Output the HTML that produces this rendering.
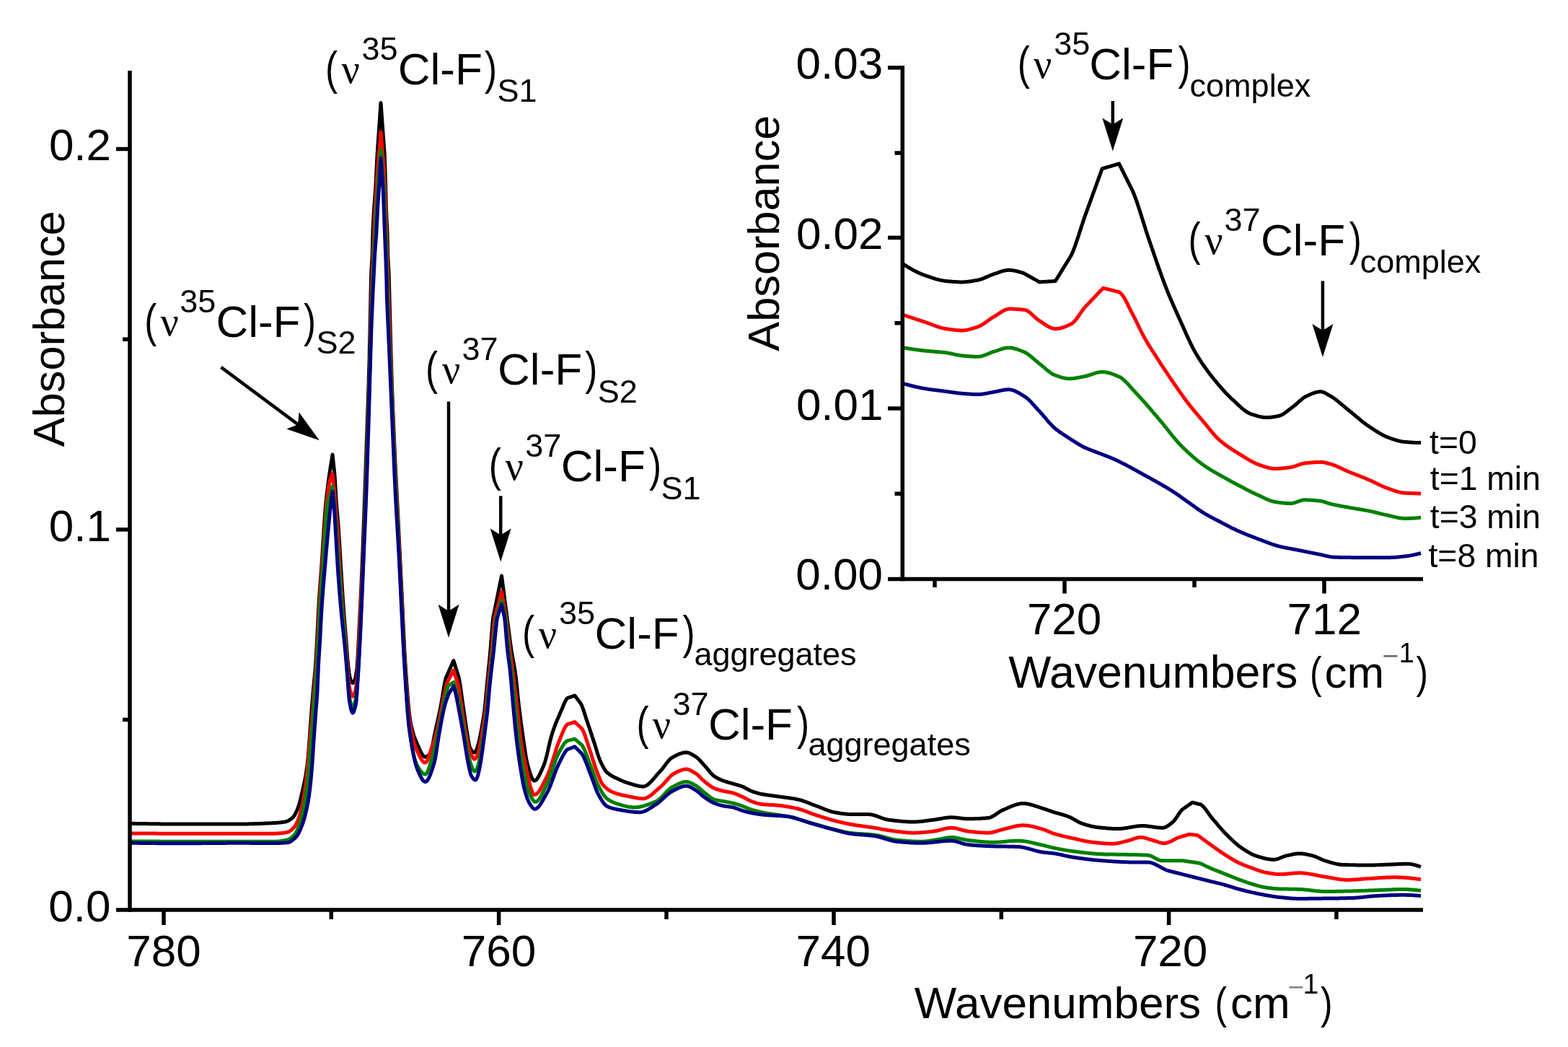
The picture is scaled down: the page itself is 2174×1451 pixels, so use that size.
<!DOCTYPE html>
<html><head><meta charset="utf-8"><title>Spectrum</title>
<style>html,body{margin:0;padding:0;background:#fff;overflow:hidden}svg{display:block}</style>
</head><body>
<svg width="2174" height="1451" viewBox="0 0 2174 1451">
<rect width="2174" height="1451" fill="#fff"/>
<path d="M182.0,1141.3 L183.0,1141.3 L184.0,1141.3 L185.0,1141.3 L186.0,1141.4 L187.0,1141.4 L188.0,1141.4 L189.0,1141.4 L190.0,1141.4 L191.0,1141.4 L192.0,1141.5 L193.0,1141.5 L194.0,1141.5 L195.0,1141.5 L196.0,1141.5 L197.0,1141.5 L198.0,1141.5 L199.0,1141.6 L200.0,1141.6 L201.0,1141.6 L202.0,1141.6 L203.0,1141.6 L204.0,1141.6 L205.0,1141.6 L206.0,1141.7 L207.0,1141.7 L208.0,1141.7 L209.0,1141.7 L210.0,1141.7 L211.0,1141.7 L212.0,1141.7 L213.0,1141.7 L214.0,1141.8 L215.0,1141.8 L216.0,1141.8 L217.0,1141.8 L218.0,1141.8 L219.0,1141.8 L220.0,1141.8 L221.0,1141.8 L222.0,1141.8 L223.0,1141.9 L224.0,1141.9 L225.0,1141.9 L226.0,1141.9 L227.0,1141.9 L228.0,1141.9 L229.0,1141.9 L230.0,1141.9 L231.0,1141.9 L232.0,1141.9 L233.0,1141.9 L234.0,1141.9 L235.0,1142.0 L236.0,1142.0 L237.0,1142.0 L238.0,1142.0 L239.0,1142.0 L240.0,1142.0 L241.0,1142.0 L242.0,1142.0 L243.0,1142.0 L244.0,1142.0 L245.0,1142.0 L246.0,1142.0 L247.0,1142.0 L248.0,1142.0 L249.0,1142.0 L250.0,1142.0 L251.0,1142.0 L252.0,1142.0 L253.0,1142.0 L254.0,1142.0 L255.0,1142.0 L256.0,1142.0 L257.0,1142.0 L258.0,1142.0 L259.0,1142.0 L260.0,1142.0 L261.0,1142.0 L262.0,1142.0 L263.0,1142.0 L264.0,1142.0 L265.0,1142.0 L266.0,1142.0 L267.0,1142.0 L268.0,1142.0 L269.0,1142.0 L270.0,1142.0 L271.0,1142.0 L272.0,1142.0 L273.0,1142.0 L274.0,1142.0 L275.0,1142.0 L276.0,1142.0 L277.0,1142.0 L278.0,1142.0 L279.0,1142.0 L280.0,1142.0 L281.0,1142.0 L282.0,1142.0 L283.0,1142.0 L284.0,1142.0 L285.0,1142.0 L286.0,1142.0 L287.0,1142.0 L288.0,1142.0 L289.0,1142.0 L290.0,1142.0 L291.0,1142.0 L292.0,1142.0 L293.0,1142.0 L294.0,1142.0 L295.0,1142.0 L296.0,1142.0 L297.0,1142.0 L298.0,1142.0 L299.0,1142.0 L300.0,1142.0 L301.0,1142.0 L302.0,1142.0 L303.0,1142.0 L304.0,1142.0 L305.0,1142.0 L306.0,1142.0 L307.0,1142.0 L308.0,1142.0 L309.0,1142.0 L310.0,1142.0 L311.0,1142.0 L312.0,1142.0 L313.0,1142.0 L314.0,1142.0 L315.0,1142.0 L316.0,1142.0 L317.0,1142.0 L318.0,1142.0 L319.0,1142.0 L320.0,1142.0 L321.0,1142.0 L322.0,1142.0 L323.0,1142.0 L324.0,1142.0 L325.0,1142.0 L326.0,1142.0 L327.0,1142.0 L328.0,1142.0 L329.0,1142.0 L330.0,1142.0 L331.0,1142.0 L332.0,1142.0 L333.0,1142.0 L334.0,1142.0 L335.0,1142.0 L336.0,1142.0 L337.0,1142.0 L338.0,1142.0 L339.0,1141.9 L340.0,1141.9 L341.0,1141.9 L342.0,1141.9 L343.0,1141.9 L344.0,1141.9 L345.0,1141.8 L346.0,1141.8 L347.0,1141.8 L348.0,1141.8 L349.0,1141.7 L350.0,1141.7 L351.0,1141.7 L352.0,1141.7 L353.0,1141.6 L354.0,1141.6 L355.0,1141.6 L356.0,1141.5 L357.0,1141.5 L358.0,1141.5 L359.0,1141.4 L360.0,1141.4 L361.0,1141.4 L362.0,1141.3 L363.0,1141.3 L364.0,1141.2 L365.0,1141.2 L366.0,1141.2 L367.0,1141.1 L368.0,1141.1 L369.0,1141.0 L370.0,1141.0 L371.0,1140.9 L372.0,1140.9 L373.0,1140.8 L374.0,1140.8 L375.0,1140.7 L376.0,1140.7 L377.0,1140.7 L378.0,1140.6 L379.0,1140.6 L380.0,1140.5 L381.0,1140.4 L382.0,1140.4 L383.0,1140.3 L384.0,1140.3 L385.0,1140.2 L386.0,1140.1 L387.0,1140.0 L388.0,1139.9 L389.0,1139.8 L390.0,1139.7 L391.0,1139.6 L392.0,1139.5 L393.0,1139.3 L394.0,1139.2 L395.0,1139.0 L396.0,1138.8 L397.0,1138.5 L398.0,1138.1 L399.0,1137.7 L400.0,1137.2 L401.0,1136.6 L402.0,1136.0 L403.0,1135.3 L404.0,1134.5 L405.0,1133.7 L405.8,1133.0 L406.0,1132.8 L407.0,1131.7 L408.0,1130.3 L409.0,1128.7 L410.0,1126.8 L411.0,1124.7 L412.0,1122.4 L413.0,1120.0 L413.4,1119.0 L414.0,1117.4 L415.0,1114.1 L416.0,1110.4 L417.0,1106.3 L418.0,1102.1 L419.0,1097.7 L419.4,1096.0 L420.0,1093.4 L421.0,1089.1 L422.0,1084.6 L423.0,1079.6 L424.0,1074.0 L425.0,1067.5 L426.0,1060.0 L427.0,1051.0 L428.0,1039.1 L429.0,1025.1 L429.3,1021.0 L430.0,1011.6 L431.0,997.9 L431.6,990.0 L432.0,984.8 L433.0,972.1 L434.0,960.0 L435.0,949.3 L436.0,939.3 L437.0,928.4 L437.5,922.0 L438.0,914.6 L439.0,896.9 L440.0,876.8 L441.0,856.5 L442.0,837.9 L442.3,833.0 L443.0,822.5 L444.0,808.9 L445.0,795.9 L446.0,782.1 L446.2,779.2 L447.0,766.6 L448.0,750.0 L449.0,734.0 L449.3,729.6 L450.0,719.8 L451.0,706.6 L451.8,697.6 L452.0,695.6 L453.0,686.1 L454.0,677.6 L455.0,669.8 L456.0,662.4 L456.9,656.0 L457.0,655.4 L458.0,649.0 L459.0,642.7 L460.0,636.3 L461.0,630.0 L462.0,639.3 L463.0,648.6 L463.8,656.0 L464.0,658.5 L465.0,674.4 L466.0,691.7 L466.4,697.6 L467.0,705.2 L468.0,716.4 L469.0,728.3 L469.1,729.6 L470.0,742.9 L471.0,759.3 L472.0,776.0 L472.2,779.2 L473.0,792.2 L474.0,808.6 L475.0,824.3 L475.3,828.8 L476.0,838.8 L477.0,852.2 L477.1,853.5 L478.0,864.7 L479.0,876.5 L479.8,886.0 L480.0,888.5 L481.0,901.8 L482.0,914.9 L483.0,925.0 L484.0,932.3 L485.0,938.3 L486.0,942.0 L487.0,944.2 L488.0,945.9 L489.0,946.5 L490.0,945.9 L491.0,944.2 L492.0,942.0 L493.0,938.5 L494.0,932.7 L495.0,925.0 L496.0,911.1 L497.0,890.8 L498.0,870.0 L499.0,850.7 L500.0,830.6 L500.5,820.0 L501.0,808.8 L502.0,785.1 L503.0,760.0 L504.0,733.7 L505.0,706.2 L506.0,677.9 L507.0,649.0 L508.0,620.0 L509.0,591.9 L510.0,564.1 L511.0,534.3 L512.0,500.0 L513.0,455.6 L513.9,412.5 L514.0,407.9 L514.6,382.0 L515.0,373.1 L516.0,356.7 L516.2,351.8 L516.9,321.4 L517.0,318.7 L518.0,298.9 L518.5,291.0 L519.0,283.6 L520.0,270.8 L520.7,260.7 L521.0,255.5 L522.0,234.9 L523.0,215.0 L524.0,200.5 L525.0,186.0 L526.0,171.5 L527.0,157.0 L528.0,142.5 L529.0,156.4 L530.0,170.4 L531.0,184.3 L532.0,198.3 L533.0,212.2 L533.2,215.0 L534.0,236.9 L534.7,260.7 L535.0,272.4 L535.5,291.0 L536.0,301.7 L537.0,321.4 L537.7,351.8 L538.0,359.2 L539.0,377.1 L539.2,382.0 L540.0,412.5 L541.0,450.3 L542.0,487.2 L543.0,520.0 L544.0,548.1 L545.0,573.7 L546.0,597.4 L547.0,620.0 L548.0,641.5 L549.0,661.7 L550.0,681.1 L551.0,700.4 L552.0,720.0 L553.0,740.0 L554.0,760.0 L555.0,780.0 L556.0,800.0 L557.0,820.0 L558.0,840.8 L559.0,862.5 L560.0,883.8 L561.0,903.3 L562.0,920.0 L563.0,934.6 L564.0,948.8 L565.0,962.1 L566.0,974.2 L567.0,984.8 L568.0,993.5 L569.0,1000.0 L570.0,1005.0 L571.0,1009.4 L572.0,1013.3 L573.0,1016.8 L574.0,1020.0 L575.0,1022.8 L576.0,1025.3 L577.0,1027.7 L578.0,1030.0 L579.0,1032.3 L580.0,1034.6 L581.0,1036.8 L582.0,1039.0 L583.0,1041.2 L584.0,1043.1 L585.0,1044.9 L586.0,1046.4 L587.0,1047.6 L588.0,1048.4 L589.0,1048.9 L589.6,1049.0 L590.0,1049.0 L591.0,1048.8 L592.0,1048.3 L593.0,1047.7 L594.0,1046.9 L595.0,1045.9 L596.0,1044.8 L596.7,1044.0 L597.0,1043.5 L598.0,1040.8 L599.0,1036.6 L600.0,1031.5 L601.0,1026.0 L602.0,1020.7 L602.6,1017.8 L603.0,1016.0 L604.0,1011.5 L605.0,1007.0 L606.0,1002.6 L607.0,998.0 L608.0,993.5 L609.0,988.8 L610.0,984.0 L611.0,979.1 L611.1,978.6 L612.0,973.8 L613.0,967.9 L614.0,961.7 L615.0,955.6 L616.0,949.7 L617.0,944.6 L618.0,940.3 L618.3,939.3 L619.0,937.7 L620.0,935.5 L621.0,933.2 L622.0,931.0 L623.0,928.7 L624.0,926.5 L625.0,924.3 L626.0,922.0 L627.0,919.8 L628.0,917.5 L628.9,915.5 L629.9,918.8 L630.9,922.0 L631.9,925.3 L632.9,928.5 L633.9,931.8 L634.9,935.1 L635.9,938.3 L636.2,939.3 L636.9,942.8 L637.9,948.7 L638.9,955.5 L639.9,962.8 L640.9,970.2 L641.9,977.3 L642.1,978.6 L642.9,984.0 L643.9,990.9 L644.9,997.8 L645.9,1004.6 L646.9,1011.1 L647.9,1017.2 L648.0,1017.8 L648.9,1023.3 L649.9,1029.4 L650.9,1034.2 L651.5,1036.0 L651.9,1036.8 L652.9,1038.6 L653.9,1040.2 L654.9,1041.5 L655.9,1042.4 L656.9,1042.9 L657.5,1043.0 L657.9,1042.9 L658.9,1042.2 L659.9,1040.7 L660.9,1038.5 L661.9,1035.7 L662.9,1032.3 L663.9,1028.4 L664.9,1024.0 L665.9,1019.3 L666.9,1014.1 L667.9,1008.7 L668.9,1003.1 L669.9,997.3 L670.8,992.0 L670.9,991.4 L671.9,983.7 L672.9,974.0 L673.9,963.1 L674.9,952.2 L675.4,947.0 L675.9,942.0 L676.9,932.1 L677.9,922.0 L678.9,911.7 L679.9,901.0 L680.9,888.8 L681.9,875.5 L682.9,863.4 L683.7,856.0 L683.9,855.0 L684.9,850.1 L685.9,845.2 L686.9,840.3 L687.9,835.4 L688.9,830.4 L689.9,825.5 L690.9,820.6 L691.9,815.7 L692.9,810.8 L693.9,805.9 L694.9,800.9 L695.5,798.0 L696.5,805.7 L697.5,813.5 L698.5,821.2 L699.5,828.9 L700.5,836.7 L701.5,844.4 L702.5,852.1 L703.0,856.0 L703.5,859.8 L704.5,867.6 L705.5,875.4 L706.5,883.1 L707.5,890.6 L708.5,897.6 L709.0,901.0 L709.5,904.2 L710.5,910.0 L711.5,915.4 L712.5,920.7 L713.5,926.4 L714.5,932.9 L714.8,935.0 L715.5,940.6 L716.5,949.9 L717.5,959.9 L718.5,969.8 L719.3,977.0 L719.5,978.7 L720.5,986.9 L721.5,994.9 L722.5,1002.6 L723.5,1010.0 L724.5,1017.1 L725.5,1024.0 L726.5,1030.8 L727.5,1037.8 L728.5,1044.4 L729.5,1050.5 L730.5,1055.7 L731.3,1059.0 L731.5,1059.7 L732.5,1063.3 L733.5,1066.8 L734.5,1070.1 L735.5,1073.2 L736.5,1075.9 L737.5,1078.3 L738.5,1080.1 L739.5,1081.4 L740.5,1082.0 L740.8,1082.0 L741.5,1081.9 L742.5,1081.5 L743.5,1080.7 L744.5,1079.6 L745.5,1078.2 L746.5,1076.6 L747.5,1074.8 L748.5,1072.9 L749.5,1070.8 L750.5,1068.6 L751.5,1066.3 L752.5,1064.0 L753.5,1061.8 L753.7,1061.3 L754.5,1059.3 L755.5,1056.3 L756.5,1052.9 L757.5,1049.1 L758.5,1045.0 L759.5,1040.8 L760.5,1036.4 L761.5,1032.1 L762.5,1027.9 L763.5,1023.8 L764.5,1020.1 L765.5,1016.7 L765.8,1015.8 L766.5,1013.7 L767.5,1010.9 L768.5,1008.1 L769.5,1005.4 L770.5,1002.8 L771.5,1000.3 L772.5,997.9 L773.5,995.5 L774.5,993.2 L775.5,990.9 L776.5,988.6 L777.5,986.4 L777.9,985.5 L778.5,984.1 L779.5,981.7 L780.5,979.3 L781.5,976.8 L782.5,974.4 L783.5,972.2 L784.5,970.3 L785.5,968.8 L786.5,967.7 L787.0,967.3 L787.5,967.1 L788.5,966.8 L789.5,966.5 L790.5,966.1 L791.5,965.8 L792.5,965.5 L793.5,965.1 L794.5,964.8 L795.5,964.5 L796.5,964.1 L796.9,964.0 L797.9,965.3 L798.9,966.6 L799.9,967.9 L800.9,969.3 L801.9,970.6 L802.9,971.9 L803.9,973.2 L804.9,974.5 L805.2,974.9 L805.9,976.3 L806.9,978.5 L807.9,981.1 L808.9,983.9 L809.9,986.9 L810.9,990.1 L811.9,993.2 L812.9,996.4 L813.9,999.4 L814.3,1000.6 L814.9,1002.4 L815.9,1005.3 L816.9,1008.3 L817.9,1011.3 L818.9,1014.3 L819.9,1017.3 L820.9,1020.4 L821.9,1023.4 L822.9,1026.4 L823.4,1027.9 L823.9,1029.4 L824.9,1032.6 L825.9,1035.8 L826.9,1039.1 L827.9,1042.4 L828.9,1045.5 L829.9,1048.5 L830.9,1051.3 L831.9,1053.8 L832.5,1055.2 L832.9,1056.1 L833.9,1058.2 L834.9,1060.2 L835.9,1062.1 L836.9,1063.9 L837.9,1065.6 L838.9,1067.2 L839.9,1068.5 L840.9,1069.7 L841.6,1070.4 L841.9,1070.7 L842.9,1071.5 L843.9,1072.3 L844.9,1073.1 L845.9,1073.8 L846.9,1074.4 L847.9,1075.0 L848.9,1075.6 L849.9,1076.2 L850.9,1076.7 L851.9,1077.2 L852.9,1077.7 L853.9,1078.1 L854.9,1078.6 L855.9,1079.1 L856.8,1079.5 L856.9,1079.5 L857.9,1080.0 L858.9,1080.5 L859.9,1080.9 L860.9,1081.4 L861.9,1081.8 L862.9,1082.3 L863.9,1082.7 L864.9,1083.1 L865.9,1083.5 L866.9,1083.8 L867.9,1084.2 L868.9,1084.5 L869.9,1084.9 L870.9,1085.2 L871.9,1085.5 L872.9,1085.8 L873.9,1086.1 L874.9,1086.4 L875.9,1086.7 L876.9,1087.0 L877.9,1087.3 L878.9,1087.7 L879.9,1088.0 L880.9,1088.2 L881.9,1088.5 L882.9,1088.8 L883.9,1089.0 L884.9,1089.2 L885.9,1089.4 L886.9,1089.6 L887.9,1089.7 L888.9,1089.9 L889.9,1089.9 L890.9,1090.0 L891.6,1090.0 L891.9,1090.0 L892.9,1089.9 L893.9,1089.6 L894.9,1089.3 L895.9,1088.8 L896.9,1088.2 L897.9,1087.6 L898.9,1086.8 L899.9,1085.9 L900.9,1085.0 L901.9,1084.0 L902.9,1083.0 L903.9,1081.9 L904.9,1080.8 L905.9,1079.7 L906.9,1078.5 L907.9,1077.3 L908.9,1076.1 L909.9,1074.9 L910.9,1073.7 L911.9,1072.6 L912.9,1071.4 L913.9,1070.4 L914.9,1069.3 L915.2,1069.0 L915.9,1068.3 L916.9,1067.1 L917.9,1066.0 L918.9,1064.7 L919.9,1063.4 L920.9,1062.1 L921.9,1060.7 L922.9,1059.4 L923.9,1058.0 L924.9,1056.8 L925.9,1055.5 L926.9,1054.3 L927.9,1053.2 L928.9,1052.2 L929.9,1051.3 L930.9,1050.6 L931.8,1050.0 L931.9,1049.9 L932.9,1049.4 L933.9,1048.8 L934.9,1048.3 L935.9,1047.7 L936.9,1047.2 L937.9,1046.7 L938.9,1046.2 L939.9,1045.8 L940.9,1045.3 L941.9,1044.9 L942.9,1044.5 L943.9,1044.2 L944.9,1043.9 L945.9,1043.6 L946.9,1043.3 L947.9,1043.1 L948.9,1043.0 L949.9,1042.9 L950.9,1042.8 L951.5,1042.8 L951.9,1042.8 L952.9,1042.9 L953.9,1043.1 L954.9,1043.4 L955.9,1043.8 L956.9,1044.2 L957.9,1044.7 L958.9,1045.2 L959.9,1045.8 L960.9,1046.4 L961.9,1047.0 L962.9,1047.7 L963.9,1048.3 L964.4,1048.6 L964.9,1048.9 L965.9,1049.6 L966.9,1050.5 L967.9,1051.4 L968.9,1052.3 L969.9,1053.3 L970.9,1054.4 L971.9,1055.5 L972.9,1056.6 L973.9,1057.8 L974.9,1058.9 L975.9,1060.0 L976.9,1061.1 L977.3,1061.5 L977.9,1062.1 L978.9,1063.3 L979.9,1064.4 L980.9,1065.7 L981.9,1066.9 L982.9,1068.1 L983.9,1069.4 L984.9,1070.6 L985.9,1071.7 L986.9,1072.8 L987.9,1073.8 L988.9,1074.7 L989.9,1075.5 L990.2,1075.7 L990.9,1076.2 L991.9,1076.8 L992.9,1077.4 L993.9,1078.0 L994.9,1078.5 L995.9,1079.1 L996.9,1079.5 L997.9,1080.0 L998.9,1080.5 L999.9,1080.9 L1000.9,1081.3 L1001.9,1081.7 L1002.9,1082.1 L1003.0,1082.1 L1003.9,1082.4 L1004.9,1082.8 L1005.9,1083.1 L1006.9,1083.4 L1007.9,1083.7 L1008.9,1084.0 L1009.9,1084.3 L1010.9,1084.6 L1011.9,1084.9 L1012.9,1085.1 L1013.9,1085.4 L1014.9,1085.7 L1015.9,1086.0 L1016.9,1086.3 L1017.9,1086.6 L1018.9,1086.9 L1019.9,1087.1 L1020.9,1087.4 L1021.9,1087.7 L1022.9,1088.0 L1023.9,1088.3 L1024.9,1088.6 L1025.9,1088.9 L1026.9,1089.2 L1027.9,1089.6 L1028.8,1089.9 L1028.9,1089.9 L1029.9,1090.3 L1030.9,1090.8 L1031.9,1091.3 L1032.9,1091.8 L1033.9,1092.4 L1034.9,1092.9 L1035.9,1093.5 L1036.9,1094.0 L1037.9,1094.5 L1038.9,1095.1 L1039.9,1095.5 L1040.9,1096.0 L1041.7,1096.3 L1041.9,1096.4 L1042.9,1096.7 L1043.9,1097.1 L1044.9,1097.5 L1045.9,1097.8 L1046.9,1098.1 L1047.9,1098.4 L1048.9,1098.8 L1049.9,1099.0 L1050.9,1099.3 L1051.9,1099.6 L1052.9,1099.8 L1053.9,1100.1 L1054.6,1100.2 L1054.9,1100.3 L1055.9,1100.5 L1056.9,1100.7 L1057.9,1100.8 L1058.9,1101.0 L1059.9,1101.2 L1060.9,1101.3 L1061.9,1101.5 L1062.9,1101.6 L1063.9,1101.8 L1064.9,1101.9 L1065.9,1102.1 L1066.9,1102.2 L1067.9,1102.3 L1068.9,1102.5 L1069.9,1102.6 L1070.9,1102.7 L1071.9,1102.9 L1072.9,1103.0 L1073.9,1103.1 L1074.9,1103.2 L1075.9,1103.4 L1076.9,1103.5 L1077.9,1103.7 L1078.9,1103.8 L1079.9,1103.9 L1080.3,1104.0 L1080.9,1104.1 L1081.9,1104.2 L1082.9,1104.4 L1083.9,1104.5 L1084.9,1104.6 L1085.9,1104.8 L1086.9,1104.9 L1087.9,1105.0 L1088.9,1105.2 L1089.9,1105.3 L1090.9,1105.4 L1091.9,1105.6 L1092.9,1105.7 L1093.9,1105.8 L1094.9,1106.0 L1095.9,1106.1 L1096.9,1106.3 L1097.9,1106.4 L1098.9,1106.6 L1099.9,1106.7 L1100.9,1106.9 L1101.9,1107.1 L1102.9,1107.3 L1103.9,1107.5 L1104.9,1107.7 L1105.9,1107.9 L1106.1,1107.9 L1106.9,1108.1 L1107.9,1108.3 L1108.9,1108.6 L1109.9,1108.8 L1110.9,1109.1 L1111.9,1109.4 L1112.9,1109.8 L1113.9,1110.1 L1114.9,1110.5 L1115.9,1110.8 L1116.9,1111.2 L1117.9,1111.6 L1118.9,1111.9 L1119.9,1112.3 L1120.9,1112.7 L1121.9,1113.1 L1122.9,1113.5 L1123.9,1113.9 L1124.9,1114.3 L1125.9,1114.7 L1126.9,1115.1 L1127.9,1115.5 L1128.9,1115.8 L1129.9,1116.2 L1130.9,1116.6 L1131.8,1116.9 L1131.9,1116.9 L1132.9,1117.3 L1133.9,1117.7 L1134.9,1118.0 L1135.9,1118.4 L1136.9,1118.8 L1137.9,1119.2 L1138.9,1119.6 L1139.9,1120.0 L1140.9,1120.4 L1141.9,1120.9 L1142.9,1121.3 L1143.9,1121.7 L1144.9,1122.1 L1145.9,1122.4 L1146.9,1122.8 L1147.9,1123.2 L1148.9,1123.5 L1149.9,1123.9 L1150.9,1124.2 L1151.9,1124.5 L1152.9,1124.8 L1153.9,1125.1 L1154.9,1125.3 L1155.9,1125.6 L1156.9,1125.8 L1157.6,1125.9 L1157.9,1126.0 L1158.9,1126.1 L1159.9,1126.3 L1160.9,1126.5 L1161.9,1126.6 L1162.9,1126.8 L1163.9,1127.0 L1164.9,1127.1 L1165.9,1127.3 L1166.9,1127.4 L1167.9,1127.5 L1168.9,1127.7 L1169.9,1127.8 L1170.9,1127.9 L1171.9,1128.0 L1172.9,1128.1 L1173.9,1128.2 L1174.9,1128.3 L1175.9,1128.4 L1176.9,1128.4 L1177.9,1128.5 L1178.9,1128.5 L1179.9,1128.5 L1180.0,1128.5 L1180.9,1128.5 L1181.9,1128.5 L1182.9,1128.5 L1183.9,1128.5 L1184.9,1128.5 L1185.9,1128.5 L1186.9,1128.5 L1187.9,1128.5 L1188.9,1128.5 L1189.9,1128.5 L1190.9,1128.5 L1191.9,1128.5 L1192.9,1128.6 L1193.9,1128.6 L1194.9,1128.6 L1195.9,1128.6 L1196.9,1128.6 L1197.9,1128.6 L1198.9,1128.6 L1199.9,1128.6 L1200.9,1128.6 L1201.9,1128.6 L1202.9,1128.6 L1203.9,1128.6 L1204.5,1128.6 L1204.9,1128.6 L1205.9,1128.7 L1206.9,1128.8 L1207.9,1128.9 L1208.9,1129.1 L1209.9,1129.3 L1210.9,1129.5 L1211.9,1129.8 L1212.9,1130.1 L1213.9,1130.4 L1214.9,1130.7 L1215.9,1131.1 L1216.9,1131.5 L1217.9,1131.8 L1218.9,1132.2 L1219.9,1132.6 L1220.9,1133.0 L1221.9,1133.4 L1222.9,1133.7 L1223.9,1134.1 L1224.9,1134.4 L1225.9,1134.8 L1226.9,1135.1 L1227.9,1135.3 L1228.9,1135.6 L1229.9,1135.8 L1230.9,1136.0 L1231.9,1136.2 L1232.1,1136.2 L1232.9,1136.3 L1233.9,1136.4 L1234.9,1136.6 L1235.9,1136.7 L1236.9,1136.8 L1237.9,1136.9 L1238.9,1137.0 L1239.9,1137.2 L1240.9,1137.3 L1241.9,1137.4 L1242.9,1137.5 L1243.9,1137.6 L1244.9,1137.7 L1245.9,1137.8 L1246.9,1137.9 L1247.9,1138.0 L1248.9,1138.1 L1249.9,1138.2 L1250.9,1138.3 L1251.9,1138.4 L1252.9,1138.4 L1253.9,1138.5 L1254.9,1138.6 L1255.9,1138.7 L1256.9,1138.7 L1257.9,1138.8 L1258.9,1138.8 L1259.9,1138.9 L1260.9,1138.9 L1261.9,1138.9 L1262.9,1139.0 L1263.9,1139.0 L1264.9,1139.0 L1265.9,1139.0 L1266.6,1139.0 L1266.9,1139.0 L1267.9,1139.0 L1268.9,1139.0 L1269.9,1138.9 L1270.9,1138.9 L1271.9,1138.8 L1272.9,1138.8 L1273.9,1138.7 L1274.9,1138.6 L1275.9,1138.5 L1276.9,1138.4 L1277.9,1138.3 L1278.9,1138.2 L1279.9,1138.1 L1280.9,1137.9 L1281.9,1137.8 L1282.9,1137.7 L1283.9,1137.6 L1284.9,1137.4 L1285.9,1137.3 L1286.9,1137.1 L1287.9,1137.0 L1288.9,1136.9 L1289.9,1136.7 L1290.9,1136.6 L1291.9,1136.5 L1292.9,1136.4 L1293.9,1136.2 L1294.2,1136.2 L1294.9,1136.1 L1295.9,1136.0 L1296.9,1135.8 L1297.9,1135.7 L1298.9,1135.5 L1299.9,1135.3 L1300.9,1135.2 L1301.9,1135.0 L1302.9,1134.8 L1303.9,1134.6 L1304.9,1134.4 L1305.9,1134.3 L1306.9,1134.1 L1307.9,1133.9 L1308.9,1133.7 L1309.9,1133.6 L1310.9,1133.4 L1311.9,1133.3 L1312.9,1133.2 L1313.9,1133.1 L1314.9,1133.0 L1315.9,1132.9 L1316.9,1132.8 L1317.9,1132.8 L1318.9,1132.8 L1319.0,1132.8 L1319.9,1132.8 L1320.9,1132.8 L1321.9,1132.9 L1322.9,1132.9 L1323.9,1133.0 L1324.9,1133.1 L1325.9,1133.2 L1326.9,1133.3 L1327.9,1133.4 L1328.9,1133.6 L1329.9,1133.7 L1330.9,1133.8 L1331.9,1133.9 L1332.9,1134.1 L1333.9,1134.2 L1334.9,1134.3 L1335.9,1134.4 L1336.9,1134.5 L1337.9,1134.6 L1338.9,1134.7 L1339.9,1134.7 L1340.9,1134.8 L1341.9,1134.8 L1342.5,1134.8 L1342.9,1134.8 L1343.9,1134.8 L1344.9,1134.8 L1345.9,1134.8 L1346.9,1134.8 L1347.9,1134.7 L1348.9,1134.7 L1349.9,1134.7 L1350.9,1134.7 L1351.9,1134.6 L1352.9,1134.6 L1353.9,1134.6 L1354.9,1134.5 L1355.9,1134.5 L1356.9,1134.4 L1357.9,1134.4 L1358.9,1134.3 L1359.9,1134.3 L1360.9,1134.2 L1361.9,1134.1 L1362.9,1134.1 L1363.9,1134.0 L1364.9,1133.9 L1365.9,1133.9 L1366.9,1133.8 L1367.9,1133.7 L1368.9,1133.6 L1369.9,1133.5 L1370.1,1133.5 L1370.9,1133.4 L1371.9,1133.2 L1372.9,1132.9 L1373.9,1132.5 L1374.9,1132.1 L1375.9,1131.6 L1376.9,1131.0 L1377.9,1130.4 L1378.9,1129.8 L1379.9,1129.1 L1380.9,1128.5 L1381.9,1127.8 L1382.9,1127.1 L1383.9,1126.4 L1384.9,1125.7 L1385.9,1125.1 L1386.9,1124.4 L1387.9,1123.8 L1388.9,1123.3 L1389.9,1122.8 L1390.8,1122.4 L1390.9,1122.4 L1391.9,1121.9 L1392.9,1121.5 L1393.9,1121.1 L1394.9,1120.7 L1395.9,1120.2 L1396.9,1119.8 L1397.9,1119.3 L1398.9,1118.9 L1399.9,1118.5 L1400.9,1118.0 L1401.9,1117.6 L1402.9,1117.2 L1403.9,1116.8 L1404.9,1116.4 L1405.9,1116.1 L1406.9,1115.7 L1407.9,1115.4 L1408.9,1115.1 L1409.9,1114.8 L1410.9,1114.5 L1411.9,1114.3 L1412.9,1114.1 L1413.9,1113.9 L1414.9,1113.7 L1415.9,1113.6 L1416.9,1113.5 L1417.9,1113.5 L1418.4,1113.5 L1418.9,1113.5 L1419.9,1113.5 L1420.9,1113.6 L1421.9,1113.7 L1422.9,1113.8 L1423.9,1114.0 L1424.9,1114.1 L1425.9,1114.3 L1426.9,1114.5 L1427.9,1114.8 L1428.9,1115.0 L1429.9,1115.3 L1430.9,1115.6 L1431.9,1115.8 L1432.9,1116.1 L1433.9,1116.5 L1434.9,1116.8 L1435.9,1117.1 L1436.9,1117.4 L1437.9,1117.8 L1438.9,1118.1 L1439.9,1118.4 L1440.9,1118.8 L1441.9,1119.1 L1442.9,1119.4 L1443.9,1119.8 L1444.9,1120.1 L1445.9,1120.4 L1446.0,1120.4 L1446.9,1120.7 L1447.9,1121.0 L1448.9,1121.3 L1449.9,1121.7 L1450.9,1122.0 L1451.9,1122.4 L1452.9,1122.7 L1453.9,1123.1 L1454.9,1123.4 L1455.9,1123.8 L1456.9,1124.2 L1457.9,1124.5 L1458.9,1124.8 L1459.9,1125.2 L1460.0,1125.2 L1460.9,1125.5 L1461.9,1125.8 L1462.9,1126.1 L1463.9,1126.4 L1464.9,1126.7 L1465.9,1126.9 L1466.9,1127.2 L1467.9,1127.5 L1468.9,1127.8 L1469.9,1128.0 L1470.9,1128.3 L1471.9,1128.6 L1472.9,1128.9 L1473.9,1129.2 L1474.9,1129.5 L1475.9,1129.8 L1476.9,1130.1 L1477.9,1130.4 L1478.9,1130.8 L1479.9,1131.1 L1480.7,1131.4 L1480.9,1131.5 L1481.9,1131.9 L1482.9,1132.3 L1483.9,1132.8 L1484.9,1133.3 L1485.9,1133.8 L1486.9,1134.3 L1487.9,1134.9 L1488.9,1135.5 L1489.9,1136.0 L1490.9,1136.6 L1491.9,1137.2 L1492.9,1137.7 L1493.9,1138.3 L1494.9,1138.8 L1495.9,1139.4 L1496.9,1139.9 L1497.9,1140.3 L1498.9,1140.8 L1499.9,1141.2 L1500.9,1141.5 L1501.4,1141.7 L1501.9,1141.9 L1502.9,1142.2 L1503.9,1142.5 L1504.9,1142.8 L1505.9,1143.1 L1506.9,1143.4 L1507.9,1143.7 L1508.9,1143.9 L1509.9,1144.2 L1510.9,1144.5 L1511.9,1144.7 L1512.9,1145.0 L1513.9,1145.2 L1514.9,1145.4 L1515.9,1145.6 L1516.9,1145.8 L1517.9,1146.0 L1518.9,1146.2 L1519.9,1146.3 L1520.9,1146.5 L1521.9,1146.6 L1522.1,1146.6 L1522.9,1146.7 L1523.9,1146.8 L1524.9,1146.9 L1525.9,1147.0 L1526.9,1147.1 L1527.9,1147.2 L1528.9,1147.3 L1529.9,1147.4 L1530.9,1147.5 L1531.9,1147.6 L1532.9,1147.7 L1533.9,1147.8 L1534.9,1147.9 L1535.9,1148.0 L1536.9,1148.1 L1537.9,1148.1 L1538.9,1148.2 L1539.9,1148.3 L1540.9,1148.3 L1541.9,1148.4 L1542.9,1148.4 L1543.9,1148.5 L1544.9,1148.5 L1545.9,1148.5 L1546.9,1148.6 L1547.9,1148.6 L1548.9,1148.6 L1549.7,1148.6 L1549.9,1148.6 L1550.9,1148.6 L1551.9,1148.6 L1552.9,1148.5 L1553.9,1148.4 L1554.9,1148.3 L1555.9,1148.3 L1556.9,1148.1 L1557.9,1148.0 L1558.9,1147.9 L1559.9,1147.7 L1560.9,1147.6 L1561.9,1147.4 L1562.9,1147.3 L1563.9,1147.1 L1564.9,1146.9 L1565.9,1146.7 L1566.9,1146.6 L1567.9,1146.4 L1568.9,1146.2 L1569.9,1146.0 L1570.9,1145.9 L1571.9,1145.7 L1572.9,1145.5 L1573.9,1145.4 L1574.9,1145.2 L1575.9,1145.1 L1576.9,1145.0 L1577.9,1144.9 L1578.9,1144.8 L1579.9,1144.7 L1580.9,1144.6 L1581.9,1144.6 L1582.9,1144.5 L1583.9,1144.5 L1584.2,1144.5 L1584.9,1144.5 L1585.9,1144.5 L1586.9,1144.6 L1587.9,1144.6 L1588.9,1144.7 L1589.9,1144.8 L1590.9,1144.9 L1591.9,1145.0 L1592.9,1145.2 L1593.9,1145.3 L1594.9,1145.4 L1595.9,1145.6 L1596.9,1145.7 L1597.9,1145.9 L1598.9,1146.0 L1599.9,1146.2 L1600.9,1146.3 L1601.9,1146.5 L1602.9,1146.6 L1603.9,1146.7 L1604.9,1146.9 L1605.9,1147.0 L1606.9,1147.1 L1607.9,1147.1 L1608.9,1147.2 L1609.9,1147.3 L1610.9,1147.3 L1611.8,1147.3 L1611.9,1147.3 L1612.9,1147.2 L1613.9,1147.0 L1614.9,1146.7 L1615.9,1146.3 L1616.9,1145.9 L1617.9,1145.3 L1618.9,1144.7 L1619.9,1144.0 L1620.9,1143.3 L1621.9,1142.6 L1622.9,1141.8 L1623.9,1141.0 L1624.9,1140.2 L1625.6,1139.7 L1625.9,1139.5 L1626.9,1138.5 L1627.9,1137.4 L1628.9,1136.2 L1629.9,1134.8 L1630.9,1133.4 L1631.9,1131.8 L1632.9,1130.3 L1633.9,1128.8 L1634.9,1127.3 L1635.9,1125.8 L1636.9,1124.5 L1637.9,1123.3 L1638.9,1122.2 L1639.4,1121.7 L1639.9,1121.4 L1640.9,1120.7 L1641.9,1120.0 L1642.9,1119.3 L1643.9,1118.6 L1644.9,1117.9 L1645.9,1117.2 L1646.9,1116.5 L1647.9,1115.8 L1648.9,1115.1 L1649.9,1114.4 L1650.9,1113.7 L1651.9,1113.0 L1652.9,1112.3 L1653.2,1112.1 L1654.2,1112.3 L1655.2,1112.6 L1656.2,1112.8 L1657.2,1113.1 L1658.2,1113.3 L1659.2,1113.6 L1660.2,1113.8 L1661.2,1114.1 L1662.2,1114.3 L1663.2,1114.6 L1664.2,1114.8 L1665.2,1115.3 L1666.2,1115.9 L1667.2,1116.7 L1668.2,1117.7 L1669.2,1118.8 L1670.2,1119.9 L1671.2,1121.2 L1672.2,1122.5 L1673.2,1123.9 L1674.2,1125.3 L1675.2,1126.7 L1676.2,1128.2 L1677.2,1129.6 L1678.2,1130.9 L1679.2,1132.2 L1680.2,1133.5 L1680.8,1134.2 L1681.2,1134.7 L1682.2,1135.8 L1683.2,1137.0 L1684.2,1138.2 L1685.2,1139.3 L1686.2,1140.5 L1687.2,1141.7 L1688.2,1142.9 L1689.2,1144.1 L1690.2,1145.2 L1691.2,1146.4 L1692.2,1147.5 L1693.2,1148.7 L1694.2,1149.8 L1695.2,1151.0 L1696.2,1152.1 L1697.2,1153.2 L1698.2,1154.2 L1699.2,1155.3 L1700.2,1156.3 L1701.2,1157.3 L1701.5,1157.6 L1702.2,1158.3 L1703.2,1159.3 L1704.2,1160.2 L1705.2,1161.2 L1706.2,1162.2 L1707.2,1163.1 L1708.2,1164.1 L1709.2,1165.0 L1710.2,1165.9 L1711.2,1166.9 L1712.2,1167.7 L1713.2,1168.6 L1714.2,1169.5 L1715.2,1170.3 L1716.2,1171.2 L1717.2,1172.0 L1718.2,1172.7 L1719.2,1173.5 L1720.2,1174.2 L1721.2,1174.9 L1722.2,1175.6 L1723.2,1176.3 L1724.2,1176.9 L1725.2,1177.6 L1726.2,1178.2 L1727.2,1178.8 L1728.2,1179.5 L1729.2,1180.1 L1730.2,1180.7 L1731.2,1181.3 L1732.2,1181.8 L1733.2,1182.4 L1734.2,1182.9 L1735.2,1183.4 L1736.2,1183.9 L1737.2,1184.4 L1738.2,1184.9 L1739.2,1185.3 L1740.2,1185.7 L1741.2,1186.0 L1742.2,1186.4 L1742.9,1186.6 L1743.2,1186.7 L1744.2,1187.0 L1745.2,1187.3 L1746.2,1187.6 L1747.2,1187.9 L1748.2,1188.2 L1749.2,1188.5 L1750.2,1188.7 L1751.2,1189.0 L1752.2,1189.3 L1753.2,1189.5 L1754.2,1189.8 L1755.2,1190.0 L1756.2,1190.2 L1757.2,1190.4 L1758.2,1190.6 L1759.2,1190.7 L1760.2,1190.9 L1761.2,1191.0 L1762.2,1191.1 L1763.2,1191.2 L1764.2,1191.3 L1765.2,1191.3 L1765.9,1191.3 L1766.2,1191.3 L1767.2,1191.2 L1768.2,1191.1 L1769.2,1190.9 L1770.2,1190.7 L1771.2,1190.4 L1772.2,1190.1 L1773.2,1189.7 L1774.2,1189.3 L1775.2,1188.9 L1776.2,1188.5 L1777.2,1188.1 L1778.2,1187.7 L1779.2,1187.3 L1780.2,1187.0 L1781.2,1186.6 L1782.2,1186.3 L1783.2,1186.0 L1783.8,1185.9 L1784.2,1185.8 L1785.2,1185.6 L1786.2,1185.4 L1787.2,1185.1 L1788.2,1184.9 L1789.2,1184.7 L1790.2,1184.5 L1791.2,1184.2 L1792.2,1184.0 L1793.2,1183.8 L1794.2,1183.7 L1795.2,1183.5 L1796.2,1183.3 L1797.2,1183.2 L1798.2,1183.1 L1799.2,1183.0 L1800.2,1182.9 L1801.2,1182.9 L1801.8,1182.9 L1802.2,1182.9 L1803.2,1182.9 L1804.2,1183.0 L1805.2,1183.1 L1806.2,1183.2 L1807.2,1183.3 L1808.2,1183.4 L1809.2,1183.6 L1810.2,1183.8 L1811.2,1184.0 L1812.2,1184.2 L1813.2,1184.4 L1814.2,1184.6 L1815.2,1184.8 L1816.2,1185.1 L1817.2,1185.3 L1818.2,1185.5 L1819.2,1185.8 L1819.7,1185.9 L1820.2,1186.0 L1821.2,1186.3 L1822.2,1186.6 L1823.2,1187.0 L1824.2,1187.4 L1825.2,1187.8 L1826.2,1188.2 L1827.2,1188.7 L1828.2,1189.1 L1829.2,1189.6 L1830.2,1190.0 L1831.2,1190.5 L1832.2,1191.0 L1833.2,1191.4 L1834.2,1191.8 L1835.2,1192.2 L1836.2,1192.6 L1837.2,1192.9 L1837.6,1193.0 L1838.2,1193.2 L1839.2,1193.5 L1840.2,1193.8 L1841.2,1194.1 L1842.2,1194.4 L1843.2,1194.7 L1844.2,1195.0 L1845.2,1195.3 L1846.2,1195.6 L1847.2,1195.8 L1848.2,1196.1 L1849.2,1196.4 L1850.2,1196.6 L1851.2,1196.9 L1852.2,1197.1 L1853.2,1197.3 L1854.2,1197.5 L1855.2,1197.7 L1856.2,1197.9 L1857.2,1198.0 L1858.2,1198.2 L1859.2,1198.3 L1860.2,1198.3 L1861.2,1198.4 L1861.5,1198.4 L1862.2,1198.4 L1863.2,1198.5 L1864.2,1198.5 L1865.2,1198.5 L1866.2,1198.5 L1867.2,1198.6 L1868.2,1198.6 L1869.2,1198.6 L1870.2,1198.7 L1871.2,1198.7 L1872.2,1198.7 L1873.2,1198.7 L1874.2,1198.7 L1875.2,1198.8 L1876.2,1198.8 L1877.2,1198.8 L1878.2,1198.8 L1879.2,1198.8 L1880.2,1198.9 L1881.2,1198.9 L1882.2,1198.9 L1883.2,1198.9 L1884.2,1198.9 L1885.2,1198.9 L1886.2,1198.9 L1887.2,1199.0 L1888.2,1199.0 L1889.2,1199.0 L1890.2,1199.0 L1891.2,1199.0 L1892.2,1199.0 L1893.2,1199.0 L1894.2,1199.0 L1895.2,1199.0 L1896.2,1199.0 L1897.2,1199.0 L1897.4,1199.0 L1898.2,1199.0 L1899.2,1199.0 L1900.2,1199.0 L1901.2,1199.0 L1902.2,1199.0 L1903.2,1198.9 L1904.2,1198.9 L1905.2,1198.9 L1906.2,1198.9 L1907.2,1198.8 L1908.2,1198.8 L1909.2,1198.8 L1910.2,1198.7 L1911.2,1198.7 L1912.2,1198.7 L1913.2,1198.6 L1914.2,1198.6 L1915.2,1198.6 L1916.2,1198.5 L1917.2,1198.5 L1918.2,1198.4 L1919.2,1198.4 L1920.2,1198.3 L1921.2,1198.3 L1922.2,1198.3 L1923.2,1198.2 L1924.2,1198.2 L1925.2,1198.1 L1926.2,1198.1 L1927.2,1198.0 L1928.2,1198.0 L1929.2,1198.0 L1930.2,1197.9 L1931.2,1197.9 L1932.2,1197.8 L1933.2,1197.8 L1933.3,1197.8 L1934.2,1197.8 L1935.2,1197.7 L1936.2,1197.7 L1937.2,1197.6 L1938.2,1197.6 L1939.2,1197.6 L1940.2,1197.5 L1941.2,1197.5 L1942.2,1197.4 L1943.2,1197.4 L1944.2,1197.3 L1945.2,1197.3 L1946.2,1197.3 L1947.2,1197.3 L1948.2,1197.2 L1949.2,1197.2 L1950.2,1197.2 L1951.2,1197.2 L1952.2,1197.2 L1953.2,1197.3 L1954.2,1197.3 L1955.2,1197.5 L1956.2,1197.6 L1957.2,1197.7 L1958.2,1197.9 L1959.2,1198.1 L1960.2,1198.4 L1961.2,1198.6 L1962.2,1198.9 L1963.2,1199.2 L1964.2,1199.5 L1965.2,1199.8 L1966.2,1200.1 L1967.2,1200.4 L1968.2,1200.8 L1969.2,1201.1 L1970.0,1201.4" fill="none" stroke="#000" stroke-width="5" stroke-linejoin="round" stroke-linecap="butt"/>
<path d="M182.0,1155.0 L183.0,1155.0 L184.0,1155.0 L185.0,1155.0 L186.0,1155.0 L187.0,1155.0 L188.0,1155.0 L189.0,1155.0 L190.0,1155.0 L191.0,1155.0 L192.0,1155.0 L193.0,1155.1 L194.0,1155.1 L195.0,1155.1 L196.0,1155.1 L197.0,1155.1 L198.0,1155.1 L199.0,1155.1 L200.0,1155.1 L201.0,1155.1 L202.0,1155.1 L203.0,1155.1 L204.0,1155.1 L205.0,1155.1 L206.0,1155.1 L207.0,1155.1 L208.0,1155.1 L209.0,1155.1 L210.0,1155.1 L211.0,1155.1 L212.0,1155.1 L213.0,1155.1 L214.0,1155.1 L215.0,1155.1 L216.0,1155.1 L217.0,1155.1 L218.0,1155.2 L219.0,1155.2 L220.0,1155.2 L221.0,1155.2 L222.0,1155.2 L223.0,1155.2 L224.0,1155.2 L225.0,1155.2 L226.0,1155.2 L227.0,1155.2 L228.0,1155.2 L229.0,1155.2 L230.0,1155.2 L231.0,1155.2 L232.0,1155.2 L233.0,1155.2 L234.0,1155.2 L235.0,1155.2 L236.0,1155.2 L237.0,1155.2 L238.0,1155.2 L239.0,1155.2 L240.0,1155.2 L241.0,1155.2 L242.0,1155.2 L243.0,1155.2 L244.0,1155.2 L245.0,1155.2 L246.0,1155.2 L247.0,1155.2 L248.0,1155.2 L249.0,1155.2 L250.0,1155.2 L251.0,1155.2 L252.0,1155.2 L253.0,1155.2 L254.0,1155.3 L255.0,1155.3 L256.0,1155.3 L257.0,1155.3 L258.0,1155.3 L259.0,1155.3 L260.0,1155.3 L261.0,1155.3 L262.0,1155.3 L263.0,1155.3 L264.0,1155.3 L265.0,1155.3 L266.0,1155.3 L267.0,1155.3 L268.0,1155.3 L269.0,1155.3 L270.0,1155.3 L271.0,1155.3 L272.0,1155.3 L273.0,1155.3 L274.0,1155.3 L275.0,1155.3 L276.0,1155.3 L277.0,1155.3 L278.0,1155.3 L279.0,1155.3 L280.0,1155.3 L281.0,1155.3 L282.0,1155.3 L283.0,1155.3 L284.0,1155.3 L285.0,1155.3 L286.0,1155.3 L287.0,1155.3 L288.0,1155.3 L289.0,1155.3 L290.0,1155.3 L291.0,1155.3 L292.0,1155.3 L293.0,1155.3 L294.0,1155.3 L295.0,1155.3 L296.0,1155.3 L297.0,1155.3 L298.0,1155.3 L299.0,1155.3 L300.0,1155.3 L301.0,1155.3 L302.0,1155.3 L303.0,1155.3 L304.0,1155.3 L305.0,1155.3 L306.0,1155.3 L307.0,1155.3 L308.0,1155.3 L309.0,1155.3 L310.0,1155.3 L311.0,1155.3 L312.0,1155.3 L313.0,1155.3 L314.0,1155.3 L315.0,1155.3 L316.0,1155.3 L317.0,1155.3 L318.0,1155.3 L319.0,1155.3 L320.0,1155.3 L321.0,1155.3 L322.0,1155.3 L323.0,1155.3 L324.0,1155.3 L325.0,1155.3 L326.0,1155.3 L327.0,1155.3 L328.0,1155.3 L329.0,1155.3 L330.0,1155.3 L331.0,1155.3 L332.0,1155.3 L333.0,1155.3 L334.0,1155.3 L335.0,1155.3 L336.0,1155.3 L337.0,1155.3 L338.0,1155.3 L339.0,1155.3 L340.0,1155.3 L341.0,1155.3 L342.0,1155.3 L343.0,1155.3 L344.0,1155.3 L345.0,1155.3 L346.0,1155.3 L347.0,1155.3 L348.0,1155.3 L349.0,1155.3 L350.0,1155.3 L351.0,1155.3 L352.0,1155.3 L353.0,1155.3 L354.0,1155.3 L355.0,1155.3 L356.0,1155.3 L357.0,1155.3 L358.0,1155.3 L359.0,1155.3 L360.0,1155.3 L361.0,1155.2 L362.0,1155.2 L363.0,1155.2 L364.0,1155.2 L365.0,1155.2 L366.0,1155.2 L367.0,1155.2 L368.0,1155.2 L369.0,1155.2 L370.0,1155.2 L371.0,1155.2 L372.0,1155.2 L373.0,1155.2 L374.0,1155.2 L375.0,1155.2 L376.0,1155.2 L377.0,1155.2 L378.0,1155.2 L379.0,1155.2 L380.0,1155.2 L381.0,1155.2 L382.0,1155.2 L383.0,1155.1 L384.0,1155.1 L385.0,1155.0 L386.0,1155.0 L387.0,1154.9 L388.0,1154.8 L389.0,1154.7 L390.0,1154.6 L391.0,1154.5 L392.0,1154.4 L393.0,1154.3 L394.0,1154.1 L395.0,1154.0 L396.0,1153.8 L397.0,1153.6 L398.0,1153.4 L398.2,1153.4 L399.0,1153.2 L400.0,1152.8 L401.0,1152.3 L402.0,1151.7 L403.0,1151.0 L404.0,1150.2 L405.0,1149.3 L406.0,1148.3 L407.0,1147.2 L408.0,1146.1 L408.8,1145.1 L409.0,1144.8 L410.0,1143.4 L411.0,1141.5 L412.0,1139.4 L413.0,1137.0 L414.0,1134.3 L415.0,1131.3 L416.0,1128.2 L416.4,1126.9 L417.0,1124.8 L418.0,1120.8 L419.0,1116.2 L420.0,1111.1 L421.0,1105.5 L422.0,1099.6 L422.5,1096.5 L423.0,1093.3 L424.0,1086.1 L425.0,1078.0 L426.0,1069.0 L426.3,1066.2 L427.0,1058.8 L428.0,1046.7 L429.0,1033.8 L430.0,1021.8 L430.1,1020.7 L431.0,1011.5 L432.0,1001.9 L433.0,991.4 L433.1,990.3 L434.0,978.9 L435.0,965.2 L435.4,960.0 L436.0,952.7 L437.0,941.2 L438.0,929.0 L438.5,922.0 L439.0,914.0 L440.0,895.3 L441.0,874.6 L442.0,854.2 L443.0,836.0 L444.0,820.7 L445.0,806.7 L446.0,793.1 L447.0,779.0 L448.0,763.8 L449.0,748.3 L450.0,733.7 L450.3,729.6 L451.0,720.4 L452.0,708.1 L453.0,697.6 L454.0,688.6 L455.0,680.1 L456.0,672.8 L457.0,667.1 L457.5,665.0 L458.0,663.8 L459.0,661.4 L460.0,658.9 L461.0,656.5 L462.0,665.9 L463.0,675.3 L463.5,680.0 L464.0,685.9 L465.0,699.4 L465.8,710.0 L466.0,712.5 L467.0,724.0 L468.0,736.0 L468.3,740.0 L469.0,750.6 L470.0,767.8 L471.0,785.1 L471.3,790.0 L472.0,801.1 L473.0,816.7 L474.0,831.0 L474.3,835.0 L475.0,843.5 L476.0,854.5 L476.5,860.0 L477.0,865.4 L478.0,875.7 L479.0,886.5 L479.3,890.0 L480.0,899.5 L481.0,914.9 L482.0,929.3 L482.5,935.0 L483.0,939.9 L484.0,949.0 L485.0,955.9 L485.5,958.0 L486.0,959.6 L487.0,962.3 L488.0,964.3 L489.0,965.0 L490.0,964.3 L491.0,962.3 L492.0,959.6 L492.5,958.0 L493.0,956.0 L494.0,949.5 L495.0,940.4 L495.5,935.0 L496.0,927.7 L497.0,906.1 L498.0,881.3 L498.5,870.0 L499.0,859.8 L500.0,840.3 L501.0,821.4 L502.0,802.3 L503.0,782.1 L504.0,760.0 L505.0,735.1 L506.0,707.8 L507.0,678.9 L508.0,649.4 L509.0,620.0 L510.0,591.8 L511.0,563.7 L512.0,533.8 L513.0,500.0 L514.0,454.7 L515.0,412.0 L516.0,386.5 L516.5,375.0 L517.0,363.2 L518.0,340.0 L519.0,316.0 L519.5,305.0 L520.0,295.4 L521.0,278.3 L521.5,270.0 L522.0,261.6 L523.0,245.0 L524.0,230.0 L525.0,218.2 L526.0,206.5 L527.0,194.8 L528.0,183.0 L529.0,194.8 L530.0,206.5 L531.0,218.2 L532.0,230.0 L533.0,248.0 L534.0,270.0 L535.0,296.1 L535.3,305.0 L536.0,329.7 L536.3,340.0 L537.0,360.6 L537.5,375.0 L538.0,390.4 L538.7,412.0 L539.0,420.9 L540.0,450.2 L541.0,478.9 L542.0,506.5 L542.5,520.0 L543.0,533.3 L544.0,559.4 L545.0,584.6 L546.0,608.6 L546.5,620.0 L547.0,630.9 L548.0,651.7 L549.0,671.4 L550.0,690.7 L551.0,710.1 L551.5,720.0 L552.0,730.0 L553.0,750.0 L554.0,770.0 L555.0,790.0 L556.0,810.0 L556.5,820.0 L557.0,830.2 L558.0,851.4 L559.0,872.9 L560.0,893.4 L561.0,911.9 L561.5,920.0 L562.0,927.7 L563.0,942.8 L564.0,957.3 L565.0,970.6 L566.0,982.5 L567.0,992.4 L568.0,1000.0 L569.0,1006.0 L570.0,1011.5 L571.0,1016.5 L572.0,1021.0 L573.0,1025.1 L574.0,1028.8 L575.0,1032.1 L576.0,1035.1 L577.0,1037.7 L578.0,1040.0 L579.0,1042.2 L580.0,1044.3 L581.0,1046.4 L582.0,1048.4 L583.0,1050.3 L584.0,1052.0 L585.0,1053.5 L586.0,1054.8 L587.0,1055.8 L588.0,1056.5 L589.0,1056.9 L589.6,1057.0 L590.0,1056.9 L591.0,1056.2 L592.0,1054.7 L593.0,1052.6 L594.0,1050.0 L595.0,1047.1 L596.0,1044.0 L597.0,1040.9 L598.0,1037.8 L599.0,1035.0 L600.0,1032.3 L601.0,1029.5 L602.0,1026.5 L603.0,1023.3 L604.0,1020.0 L604.6,1017.8 L605.0,1016.3 L606.0,1012.2 L607.0,1007.7 L608.0,1002.9 L609.0,997.9 L610.0,992.8 L611.0,987.7 L612.0,982.8 L612.9,978.6 L613.0,978.1 L614.0,973.4 L615.0,968.4 L616.0,963.4 L617.0,958.6 L618.0,954.0 L619.0,949.9 L620.0,946.4 L620.5,945.0 L621.0,944.0 L622.0,942.1 L623.0,940.2 L624.0,938.3 L625.0,936.4 L626.0,934.5 L627.0,932.6 L628.0,930.7 L628.9,929.0 L629.9,932.2 L630.9,935.4 L631.9,938.5 L632.9,941.7 L633.9,944.9 L634.9,948.1 L635.5,950.0 L635.9,951.9 L636.9,958.0 L637.9,965.1 L638.9,972.4 L639.8,978.6 L639.9,979.2 L640.9,985.7 L641.9,992.1 L642.9,998.5 L643.9,1004.7 L644.9,1010.6 L645.9,1016.2 L646.2,1017.8 L646.9,1021.5 L647.9,1026.9 L648.9,1032.0 L649.9,1036.4 L650.9,1039.7 L651.0,1040.0 L651.9,1042.3 L652.9,1044.8 L653.9,1047.0 L654.9,1049.0 L655.9,1050.5 L656.9,1051.6 L657.9,1052.0 L658.0,1052.0 L658.9,1051.7 L659.9,1050.5 L660.9,1048.7 L661.9,1046.2 L662.9,1043.0 L663.9,1039.3 L664.9,1035.0 L665.9,1030.3 L666.9,1025.3 L667.9,1019.8 L668.9,1014.1 L669.9,1008.2 L670.9,1002.0 L671.9,995.8 L672.5,992.0 L672.9,989.2 L673.9,980.4 L674.9,969.8 L675.9,958.6 L676.9,948.0 L677.0,947.0 L677.9,938.3 L678.9,928.9 L679.9,919.5 L680.9,909.9 L681.8,901.0 L681.9,900.0 L682.9,888.6 L683.9,876.3 L684.9,865.1 L685.9,856.6 L686.0,856.0 L686.9,852.6 L687.9,848.8 L688.9,845.0 L689.9,841.2 L690.9,837.4 L691.9,833.6 L692.9,829.9 L693.9,826.1 L694.9,822.3 L695.5,820.0 L696.5,826.0 L697.5,832.0 L698.5,838.0 L699.5,844.0 L700.5,850.0 L701.5,856.0 L702.5,863.4 L703.5,871.5 L704.5,880.0 L705.5,888.6 L706.5,897.0 L707.0,901.0 L707.5,904.9 L708.5,912.4 L709.5,919.9 L710.5,927.3 L711.5,935.0 L712.5,942.8 L713.5,950.7 L714.5,958.8 L715.5,966.9 L716.5,975.3 L716.7,977.0 L717.5,984.2 L718.5,993.8 L719.5,1003.6 L720.5,1012.9 L721.5,1021.1 L721.9,1024.0 L722.5,1028.0 L723.5,1034.2 L724.5,1040.0 L725.5,1045.4 L726.5,1050.4 L727.5,1055.0 L728.4,1059.0 L728.5,1059.4 L729.5,1063.9 L730.5,1068.5 L731.5,1073.1 L732.5,1077.7 L733.5,1082.2 L734.5,1086.5 L735.5,1090.4 L736.5,1093.9 L737.5,1096.8 L738.5,1099.1 L739.5,1100.7 L740.5,1101.5 L740.8,1101.5 L741.5,1101.4 L742.5,1101.1 L743.5,1100.6 L744.5,1099.8 L745.5,1098.8 L746.5,1097.6 L747.5,1096.3 L748.5,1094.8 L749.5,1093.2 L750.5,1091.4 L751.5,1089.6 L752.5,1087.7 L753.5,1085.7 L754.5,1083.8 L755.5,1081.7 L756.5,1079.7 L757.5,1077.8 L758.2,1076.4 L758.5,1075.8 L759.5,1073.6 L760.5,1071.2 L761.5,1068.6 L762.5,1065.8 L763.5,1062.8 L764.5,1059.7 L765.5,1056.4 L766.5,1053.2 L767.5,1049.9 L768.5,1046.6 L769.5,1043.4 L770.5,1040.2 L771.5,1037.1 L772.5,1034.2 L773.5,1031.4 L774.5,1028.9 L774.9,1027.9 L775.5,1026.5 L776.5,1024.0 L777.5,1021.5 L778.5,1019.0 L779.5,1016.5 L780.5,1014.1 L781.5,1011.8 L782.5,1009.7 L783.5,1007.8 L784.5,1006.2 L785.5,1004.9 L786.5,1004.0 L787.0,1003.7 L787.5,1003.5 L788.5,1003.2 L789.5,1002.9 L790.5,1002.6 L791.5,1002.3 L792.5,1002.0 L793.5,1001.7 L794.5,1001.4 L795.5,1001.0 L796.5,1000.7 L796.9,1000.6 L797.9,1001.5 L798.9,1002.5 L799.9,1003.4 L800.9,1004.3 L801.9,1005.2 L802.9,1006.2 L803.9,1007.1 L804.9,1008.0 L805.9,1009.0 L806.7,1009.7 L806.9,1010.0 L807.9,1011.7 L808.9,1013.7 L809.9,1016.1 L810.9,1018.8 L811.9,1021.7 L812.9,1024.7 L813.9,1027.8 L814.9,1030.9 L815.9,1034.0 L816.9,1037.0 L817.4,1038.5 L817.9,1039.9 L818.9,1042.9 L819.9,1046.1 L820.9,1049.2 L821.9,1052.4 L822.9,1055.6 L823.9,1058.6 L824.9,1061.6 L825.9,1064.5 L826.4,1065.8 L826.9,1067.1 L827.9,1069.8 L828.9,1072.6 L829.9,1075.3 L830.9,1077.9 L831.9,1080.3 L832.9,1082.6 L833.9,1084.6 L834.9,1086.2 L835.5,1087.0 L835.9,1087.5 L836.9,1088.6 L837.9,1089.7 L838.9,1090.7 L839.9,1091.7 L840.9,1092.5 L841.9,1093.4 L842.9,1094.1 L843.9,1094.8 L844.9,1095.5 L845.9,1096.1 L846.9,1096.6 L847.9,1097.1 L848.9,1097.6 L849.2,1097.7 L849.9,1098.0 L850.9,1098.4 L851.9,1098.7 L852.9,1099.1 L853.9,1099.4 L854.9,1099.8 L855.9,1100.1 L856.9,1100.3 L857.9,1100.6 L858.9,1100.9 L859.9,1101.2 L860.9,1101.4 L861.9,1101.6 L862.9,1101.9 L863.9,1102.1 L864.9,1102.3 L865.9,1102.5 L866.9,1102.7 L867.9,1102.9 L868.9,1103.1 L869.9,1103.3 L870.9,1103.5 L871.9,1103.7 L872.9,1103.9 L873.9,1104.1 L874.9,1104.3 L875.9,1104.5 L876.9,1104.7 L877.9,1105.0 L878.9,1105.2 L879.9,1105.4 L880.9,1105.6 L881.9,1105.8 L882.9,1105.9 L883.9,1106.1 L884.9,1106.3 L885.9,1106.4 L886.9,1106.5 L887.9,1106.6 L888.9,1106.7 L889.9,1106.8 L890.9,1106.8 L891.6,1106.8 L891.9,1106.8 L892.9,1106.7 L893.9,1106.5 L894.9,1106.3 L895.9,1105.9 L896.9,1105.5 L897.9,1105.0 L898.9,1104.4 L899.9,1103.8 L900.9,1103.2 L901.9,1102.4 L902.9,1101.7 L903.9,1100.9 L904.9,1100.0 L905.9,1099.2 L906.9,1098.3 L907.9,1097.4 L908.9,1096.5 L909.9,1095.6 L910.9,1094.7 L911.9,1093.8 L912.9,1092.9 L913.9,1092.1 L914.9,1091.2 L915.2,1091.0 L915.9,1090.4 L916.9,1089.5 L917.9,1088.6 L918.9,1087.5 L919.9,1086.5 L920.9,1085.4 L921.9,1084.3 L922.9,1083.1 L923.9,1082.0 L924.9,1080.8 L925.9,1079.7 L926.9,1078.6 L927.9,1077.5 L928.9,1076.5 L929.9,1075.5 L930.9,1074.6 L931.9,1073.8 L932.9,1073.0 L933.9,1072.4 L934.6,1072.0 L934.9,1071.8 L935.9,1071.3 L936.9,1070.8 L937.9,1070.3 L938.9,1069.8 L939.9,1069.3 L940.9,1068.8 L941.9,1068.4 L942.9,1068.0 L943.9,1067.6 L944.9,1067.2 L945.9,1066.9 L946.9,1066.6 L947.9,1066.4 L948.9,1066.2 L949.9,1066.1 L950.9,1066.0 L951.5,1066.0 L951.9,1066.0 L952.9,1066.1 L953.9,1066.3 L954.9,1066.6 L955.9,1067.0 L956.9,1067.4 L957.9,1067.9 L958.9,1068.5 L959.9,1069.0 L960.9,1069.6 L961.9,1070.3 L962.9,1070.9 L963.9,1071.5 L964.4,1071.8 L964.9,1072.1 L965.9,1072.8 L966.9,1073.6 L967.9,1074.5 L968.9,1075.4 L969.9,1076.4 L970.9,1077.3 L971.9,1078.4 L972.9,1079.4 L973.9,1080.4 L974.9,1081.3 L975.9,1082.2 L976.9,1083.1 L977.3,1083.4 L977.9,1083.9 L978.9,1084.7 L979.9,1085.5 L980.9,1086.3 L981.9,1087.1 L982.9,1087.8 L983.9,1088.6 L984.9,1089.3 L985.9,1090.0 L986.9,1090.7 L987.9,1091.3 L988.9,1091.8 L989.9,1092.3 L990.2,1092.4 L990.9,1092.7 L991.9,1093.1 L992.9,1093.5 L993.9,1093.8 L994.9,1094.1 L995.9,1094.4 L996.9,1094.7 L997.9,1095.0 L998.9,1095.3 L999.9,1095.5 L1000.9,1095.8 L1001.9,1096.0 L1002.9,1096.3 L1003.0,1096.3 L1003.9,1096.5 L1004.9,1096.7 L1005.9,1096.9 L1006.9,1097.1 L1007.9,1097.3 L1008.9,1097.5 L1009.9,1097.6 L1010.9,1097.8 L1011.9,1098.0 L1012.9,1098.2 L1013.9,1098.4 L1014.9,1098.6 L1015.9,1098.9 L1016.9,1099.2 L1017.9,1099.5 L1018.9,1099.8 L1019.9,1100.2 L1020.9,1100.6 L1021.9,1101.0 L1022.9,1101.4 L1023.9,1101.8 L1024.9,1102.3 L1025.9,1102.7 L1026.9,1103.2 L1027.9,1103.6 L1028.8,1104.0 L1028.9,1104.0 L1029.9,1104.5 L1030.9,1105.0 L1031.9,1105.5 L1032.9,1106.1 L1033.9,1106.6 L1034.9,1107.2 L1035.9,1107.7 L1036.9,1108.3 L1037.9,1108.8 L1038.9,1109.3 L1039.9,1109.8 L1040.9,1110.2 L1041.7,1110.5 L1041.9,1110.6 L1042.9,1110.9 L1043.9,1111.3 L1044.9,1111.7 L1045.9,1112.0 L1046.9,1112.4 L1047.9,1112.7 L1048.9,1113.0 L1049.9,1113.3 L1050.9,1113.6 L1051.9,1113.8 L1052.9,1114.0 L1053.9,1114.2 L1054.6,1114.3 L1054.9,1114.3 L1055.9,1114.5 L1056.9,1114.6 L1057.9,1114.7 L1058.9,1114.8 L1059.9,1114.9 L1060.9,1114.9 L1061.9,1115.0 L1062.9,1115.1 L1063.9,1115.2 L1064.9,1115.2 L1065.9,1115.3 L1066.9,1115.3 L1067.9,1115.4 L1068.9,1115.5 L1069.9,1115.5 L1070.9,1115.6 L1071.9,1115.6 L1072.9,1115.7 L1073.9,1115.8 L1074.9,1115.8 L1075.9,1115.9 L1076.9,1116.0 L1077.9,1116.1 L1078.9,1116.2 L1079.9,1116.3 L1080.3,1116.3 L1080.9,1116.4 L1081.9,1116.5 L1082.9,1116.6 L1083.9,1116.7 L1084.9,1116.9 L1085.9,1117.0 L1086.9,1117.1 L1087.9,1117.3 L1088.9,1117.4 L1089.9,1117.6 L1090.9,1117.8 L1091.9,1117.9 L1092.9,1118.1 L1093.9,1118.3 L1094.9,1118.5 L1095.9,1118.6 L1096.9,1118.8 L1097.9,1119.0 L1098.9,1119.2 L1099.9,1119.4 L1100.9,1119.6 L1101.9,1119.9 L1102.9,1120.1 L1103.9,1120.3 L1104.9,1120.5 L1105.9,1120.8 L1106.1,1120.8 L1106.9,1121.0 L1107.9,1121.3 L1108.9,1121.5 L1109.9,1121.8 L1110.9,1122.1 L1111.9,1122.5 L1112.9,1122.8 L1113.9,1123.1 L1114.9,1123.5 L1115.9,1123.9 L1116.9,1124.2 L1117.9,1124.6 L1118.9,1125.0 L1119.9,1125.4 L1120.9,1125.8 L1121.9,1126.2 L1122.9,1126.6 L1123.9,1126.9 L1124.9,1127.3 L1125.9,1127.7 L1126.9,1128.1 L1127.9,1128.5 L1128.9,1128.8 L1129.9,1129.2 L1130.9,1129.5 L1131.8,1129.8 L1131.9,1129.8 L1132.9,1130.2 L1133.9,1130.5 L1134.9,1130.8 L1135.9,1131.1 L1136.9,1131.4 L1137.9,1131.8 L1138.9,1132.1 L1139.9,1132.4 L1140.9,1132.7 L1141.9,1133.0 L1142.9,1133.3 L1143.9,1133.6 L1144.9,1133.9 L1145.9,1134.2 L1146.9,1134.5 L1147.9,1134.8 L1148.9,1135.1 L1149.9,1135.4 L1150.9,1135.7 L1151.9,1136.0 L1152.9,1136.3 L1153.9,1136.5 L1154.9,1136.8 L1155.9,1137.1 L1156.9,1137.3 L1157.6,1137.5 L1157.9,1137.6 L1158.9,1137.8 L1159.9,1138.1 L1160.9,1138.3 L1161.9,1138.6 L1162.9,1138.8 L1163.9,1139.1 L1164.9,1139.3 L1165.9,1139.5 L1166.9,1139.8 L1167.9,1140.0 L1168.9,1140.2 L1169.9,1140.5 L1170.9,1140.7 L1171.9,1140.9 L1172.9,1141.1 L1173.9,1141.3 L1174.9,1141.5 L1175.9,1141.7 L1176.9,1141.9 L1177.9,1142.1 L1178.9,1142.3 L1179.9,1142.5 L1180.0,1142.5 L1180.9,1142.7 L1181.9,1142.8 L1182.9,1143.0 L1183.9,1143.2 L1184.9,1143.3 L1185.9,1143.5 L1186.9,1143.6 L1187.9,1143.8 L1188.9,1143.9 L1189.9,1144.1 L1190.9,1144.2 L1191.9,1144.4 L1192.9,1144.5 L1193.9,1144.6 L1194.9,1144.8 L1195.9,1144.9 L1196.9,1145.0 L1197.9,1145.2 L1198.9,1145.3 L1199.9,1145.5 L1200.9,1145.6 L1201.9,1145.7 L1202.9,1145.9 L1203.9,1146.0 L1204.9,1146.1 L1205.9,1146.3 L1206.9,1146.4 L1207.9,1146.6 L1208.9,1146.7 L1209.9,1146.9 L1210.9,1147.0 L1211.9,1147.2 L1212.0,1147.2 L1212.9,1147.3 L1213.9,1147.5 L1214.9,1147.7 L1215.9,1147.9 L1216.9,1148.1 L1217.9,1148.2 L1218.9,1148.4 L1219.9,1148.6 L1220.9,1148.8 L1221.9,1149.0 L1222.9,1149.2 L1223.9,1149.4 L1224.9,1149.6 L1225.9,1149.7 L1226.9,1149.9 L1227.9,1150.1 L1228.9,1150.2 L1229.9,1150.4 L1230.9,1150.5 L1231.9,1150.7 L1232.1,1150.7 L1232.9,1150.8 L1233.9,1150.9 L1234.9,1151.1 L1235.9,1151.2 L1236.9,1151.4 L1237.9,1151.5 L1238.9,1151.6 L1239.9,1151.8 L1240.9,1151.9 L1241.9,1152.0 L1242.9,1152.2 L1243.9,1152.3 L1244.9,1152.5 L1245.9,1152.6 L1246.9,1152.7 L1247.9,1152.8 L1248.9,1153.0 L1249.9,1153.1 L1250.9,1153.2 L1251.9,1153.3 L1252.9,1153.4 L1253.9,1153.5 L1254.9,1153.6 L1255.9,1153.7 L1256.9,1153.8 L1257.9,1153.9 L1258.9,1153.9 L1259.9,1154.0 L1260.9,1154.0 L1261.9,1154.1 L1262.9,1154.1 L1263.9,1154.2 L1264.9,1154.2 L1265.9,1154.2 L1266.6,1154.2 L1266.9,1154.2 L1267.9,1154.2 L1268.9,1154.2 L1269.9,1154.2 L1270.9,1154.1 L1271.9,1154.1 L1272.9,1154.0 L1273.9,1154.0 L1274.9,1153.9 L1275.9,1153.9 L1276.9,1153.8 L1277.9,1153.7 L1278.9,1153.7 L1279.9,1153.6 L1280.9,1153.5 L1281.9,1153.4 L1282.9,1153.3 L1283.9,1153.2 L1284.9,1153.1 L1285.9,1153.0 L1286.9,1152.9 L1287.9,1152.8 L1288.9,1152.7 L1289.9,1152.6 L1290.9,1152.5 L1291.9,1152.4 L1292.9,1152.2 L1293.9,1152.1 L1294.2,1152.1 L1294.9,1152.0 L1295.9,1151.9 L1296.9,1151.7 L1297.9,1151.5 L1298.9,1151.3 L1299.9,1151.1 L1300.9,1150.8 L1301.9,1150.6 L1302.9,1150.3 L1303.9,1150.1 L1304.9,1149.8 L1305.9,1149.5 L1306.9,1149.3 L1307.9,1149.0 L1308.9,1148.8 L1309.9,1148.5 L1310.9,1148.3 L1311.9,1148.1 L1312.9,1147.9 L1313.9,1147.7 L1314.9,1147.6 L1315.9,1147.5 L1316.9,1147.4 L1317.9,1147.3 L1318.9,1147.3 L1319.0,1147.3 L1319.9,1147.3 L1320.9,1147.4 L1321.9,1147.5 L1322.9,1147.6 L1323.9,1147.7 L1324.9,1147.9 L1325.9,1148.1 L1326.9,1148.4 L1327.9,1148.6 L1328.9,1148.9 L1329.9,1149.1 L1330.9,1149.4 L1331.9,1149.7 L1332.9,1150.0 L1333.9,1150.3 L1334.9,1150.5 L1335.9,1150.8 L1336.9,1151.0 L1337.9,1151.3 L1338.9,1151.5 L1339.9,1151.7 L1340.9,1151.9 L1341.9,1152.0 L1342.5,1152.1 L1342.9,1152.1 L1343.9,1152.3 L1344.9,1152.4 L1345.9,1152.5 L1346.9,1152.6 L1347.9,1152.7 L1348.9,1152.8 L1349.9,1152.9 L1350.9,1153.0 L1351.9,1153.1 L1352.9,1153.2 L1353.9,1153.3 L1354.9,1153.4 L1355.9,1153.5 L1356.9,1153.6 L1357.9,1153.7 L1358.9,1153.7 L1359.9,1153.8 L1360.9,1153.9 L1361.9,1153.9 L1362.9,1154.0 L1363.9,1154.1 L1364.9,1154.1 L1365.9,1154.1 L1366.9,1154.2 L1367.9,1154.2 L1368.9,1154.2 L1369.9,1154.2 L1370.1,1154.2 L1370.9,1154.2 L1371.9,1154.1 L1372.9,1154.0 L1373.9,1153.9 L1374.9,1153.7 L1375.9,1153.5 L1376.9,1153.3 L1377.9,1153.0 L1378.9,1152.8 L1379.9,1152.5 L1380.9,1152.2 L1381.9,1151.9 L1382.9,1151.6 L1383.9,1151.2 L1384.9,1150.9 L1385.9,1150.6 L1386.9,1150.3 L1387.9,1150.0 L1388.9,1149.8 L1389.9,1149.5 L1390.8,1149.3 L1390.9,1149.3 L1391.9,1149.1 L1392.9,1148.8 L1393.9,1148.6 L1394.9,1148.3 L1395.9,1148.1 L1396.9,1147.8 L1397.9,1147.5 L1398.9,1147.3 L1399.9,1147.0 L1400.9,1146.7 L1401.9,1146.5 L1402.9,1146.2 L1403.9,1146.0 L1404.9,1145.7 L1405.9,1145.5 L1406.9,1145.3 L1407.9,1145.0 L1408.9,1144.8 L1409.9,1144.7 L1410.9,1144.5 L1411.9,1144.3 L1412.9,1144.2 L1413.9,1144.1 L1414.9,1144.0 L1415.9,1143.9 L1416.9,1143.8 L1417.9,1143.8 L1418.4,1143.8 L1418.9,1143.8 L1419.9,1143.8 L1420.9,1143.9 L1421.9,1143.9 L1422.9,1144.0 L1423.9,1144.1 L1424.9,1144.2 L1425.9,1144.4 L1426.9,1144.5 L1427.9,1144.7 L1428.9,1144.9 L1429.9,1145.1 L1430.9,1145.3 L1431.9,1145.5 L1432.9,1145.8 L1433.9,1146.0 L1434.9,1146.3 L1435.9,1146.5 L1436.9,1146.8 L1437.9,1147.0 L1438.9,1147.3 L1439.9,1147.6 L1440.9,1147.9 L1441.9,1148.2 L1442.9,1148.4 L1443.9,1148.7 L1444.9,1149.0 L1445.9,1149.3 L1446.0,1149.3 L1446.9,1149.6 L1447.9,1149.9 L1448.9,1150.3 L1449.9,1150.7 L1450.9,1151.1 L1451.9,1151.5 L1452.9,1152.0 L1453.9,1152.4 L1454.9,1152.9 L1455.9,1153.3 L1456.9,1153.8 L1457.9,1154.2 L1458.9,1154.5 L1459.9,1154.9 L1460.0,1154.9 L1460.9,1155.2 L1461.9,1155.5 L1462.9,1155.8 L1463.9,1156.1 L1464.9,1156.4 L1465.9,1156.6 L1466.9,1156.9 L1467.9,1157.2 L1468.9,1157.4 L1469.9,1157.7 L1470.9,1158.0 L1471.9,1158.2 L1472.9,1158.5 L1473.9,1158.7 L1474.9,1158.9 L1475.9,1159.2 L1476.9,1159.4 L1477.9,1159.6 L1478.9,1159.9 L1479.9,1160.1 L1480.9,1160.3 L1481.9,1160.5 L1482.9,1160.8 L1483.9,1161.0 L1484.9,1161.2 L1485.9,1161.4 L1486.9,1161.6 L1487.6,1161.8 L1487.9,1161.9 L1488.9,1162.1 L1489.9,1162.3 L1490.9,1162.5 L1491.9,1162.8 L1492.9,1163.0 L1493.9,1163.2 L1494.9,1163.5 L1495.9,1163.7 L1496.9,1163.9 L1497.9,1164.2 L1498.9,1164.4 L1499.9,1164.6 L1500.9,1164.8 L1501.9,1165.1 L1502.9,1165.3 L1503.9,1165.5 L1504.9,1165.7 L1505.9,1165.9 L1506.9,1166.1 L1507.9,1166.2 L1508.9,1166.4 L1509.9,1166.6 L1510.9,1166.7 L1511.9,1166.9 L1512.9,1167.0 L1513.9,1167.2 L1514.9,1167.3 L1515.2,1167.3 L1515.9,1167.4 L1516.9,1167.5 L1517.9,1167.6 L1518.9,1167.7 L1519.9,1167.8 L1520.9,1167.9 L1521.9,1168.0 L1522.9,1168.1 L1523.9,1168.2 L1524.9,1168.3 L1525.9,1168.4 L1526.9,1168.5 L1527.9,1168.6 L1528.9,1168.7 L1529.9,1168.7 L1530.9,1168.8 L1531.9,1168.9 L1532.9,1169.0 L1533.9,1169.0 L1534.9,1169.1 L1535.9,1169.1 L1536.9,1169.2 L1537.9,1169.2 L1538.9,1169.2 L1539.9,1169.3 L1540.9,1169.3 L1541.9,1169.3 L1542.8,1169.3 L1542.9,1169.3 L1543.9,1169.3 L1544.9,1169.2 L1545.9,1169.1 L1546.9,1169.0 L1547.9,1168.9 L1548.9,1168.7 L1549.9,1168.5 L1550.9,1168.3 L1551.9,1168.1 L1552.9,1167.9 L1553.9,1167.7 L1554.9,1167.4 L1555.9,1167.1 L1556.9,1166.9 L1557.9,1166.6 L1558.9,1166.4 L1559.9,1166.1 L1560.9,1165.8 L1561.9,1165.6 L1562.9,1165.3 L1563.5,1165.2 L1563.9,1165.1 L1564.9,1164.8 L1565.9,1164.6 L1566.9,1164.2 L1567.9,1163.9 L1568.9,1163.6 L1569.9,1163.2 L1570.9,1162.8 L1571.9,1162.5 L1572.9,1162.1 L1573.9,1161.8 L1574.9,1161.5 L1575.9,1161.2 L1576.9,1161.0 L1577.9,1160.8 L1578.9,1160.6 L1579.9,1160.5 L1580.9,1160.4 L1581.4,1160.4 L1581.9,1160.4 L1582.9,1160.5 L1583.9,1160.6 L1584.9,1160.7 L1585.9,1160.9 L1586.9,1161.1 L1587.9,1161.4 L1588.9,1161.7 L1589.9,1162.0 L1590.9,1162.3 L1591.9,1162.6 L1592.9,1163.0 L1593.9,1163.3 L1594.9,1163.6 L1595.9,1163.9 L1596.9,1164.2 L1597.9,1164.5 L1598.0,1164.5 L1598.9,1164.7 L1599.9,1165.0 L1600.9,1165.3 L1601.9,1165.7 L1602.9,1166.0 L1603.9,1166.3 L1604.9,1166.7 L1605.9,1167.0 L1606.9,1167.3 L1607.9,1167.6 L1608.9,1167.9 L1609.9,1168.1 L1610.9,1168.3 L1611.9,1168.5 L1612.9,1168.6 L1613.9,1168.7 L1614.5,1168.7 L1614.9,1168.7 L1615.9,1168.6 L1616.9,1168.3 L1617.9,1168.0 L1618.9,1167.7 L1619.9,1167.3 L1620.0,1167.3 L1620.9,1167.0 L1621.9,1166.6 L1622.9,1166.2 L1623.9,1165.7 L1624.9,1165.2 L1625.9,1164.7 L1626.9,1164.2 L1627.9,1163.6 L1628.9,1163.1 L1629.9,1162.6 L1630.9,1162.1 L1631.9,1161.6 L1632.9,1161.1 L1633.9,1160.7 L1634.5,1160.5 L1634.9,1160.4 L1635.9,1160.1 L1636.9,1159.8 L1637.9,1159.5 L1638.9,1159.2 L1639.9,1158.9 L1640.9,1158.6 L1641.9,1158.3 L1642.9,1158.0 L1643.9,1157.7 L1644.9,1157.4 L1645.9,1157.1 L1646.9,1156.8 L1647.9,1156.5 L1648.9,1156.2 L1660.5,1157.6 L1661.5,1158.3 L1662.5,1159.0 L1663.5,1159.8 L1664.5,1160.5 L1665.5,1161.2 L1666.5,1161.9 L1667.5,1162.7 L1668.5,1163.4 L1669.5,1164.1 L1670.5,1164.8 L1671.5,1165.6 L1672.5,1166.3 L1673.5,1167.0 L1674.5,1167.7 L1675.5,1168.5 L1676.5,1169.2 L1677.5,1169.9 L1677.9,1170.2 L1678.5,1170.6 L1679.5,1171.3 L1680.5,1172.1 L1681.5,1172.8 L1682.5,1173.5 L1683.5,1174.2 L1684.5,1174.9 L1685.5,1175.7 L1686.5,1176.4 L1687.5,1177.1 L1688.5,1177.8 L1689.5,1178.5 L1690.5,1179.2 L1691.5,1179.9 L1692.5,1180.6 L1693.5,1181.3 L1694.5,1181.9 L1695.5,1182.6 L1696.5,1183.2 L1697.2,1183.7 L1697.5,1183.9 L1698.5,1184.5 L1699.5,1185.2 L1700.5,1185.8 L1701.5,1186.5 L1702.5,1187.1 L1703.5,1187.7 L1704.5,1188.4 L1705.5,1189.0 L1706.5,1189.6 L1707.5,1190.2 L1708.5,1190.8 L1709.5,1191.4 L1710.5,1192.0 L1711.5,1192.6 L1712.5,1193.1 L1713.5,1193.7 L1714.5,1194.2 L1715.5,1194.7 L1716.5,1195.2 L1717.5,1195.7 L1718.5,1196.1 L1719.5,1196.6 L1720.5,1197.0 L1721.5,1197.5 L1722.5,1197.9 L1723.5,1198.3 L1724.5,1198.7 L1725.5,1199.1 L1726.5,1199.5 L1727.5,1199.9 L1728.5,1200.3 L1729.5,1200.7 L1730.5,1201.1 L1731.5,1201.4 L1732.5,1201.8 L1733.5,1202.2 L1734.5,1202.5 L1735.5,1202.9 L1735.8,1203.0 L1736.5,1203.3 L1737.5,1203.6 L1738.5,1204.0 L1739.5,1204.4 L1740.5,1204.7 L1741.5,1205.1 L1742.5,1205.5 L1743.5,1205.9 L1744.5,1206.2 L1745.5,1206.6 L1746.5,1206.9 L1747.5,1207.2 L1748.5,1207.6 L1749.5,1207.9 L1750.5,1208.2 L1751.5,1208.4 L1752.5,1208.7 L1753.5,1208.9 L1754.5,1209.1 L1755.0,1209.2 L1755.5,1209.3 L1756.5,1209.5 L1757.5,1209.7 L1758.5,1209.8 L1759.5,1210.0 L1760.5,1210.2 L1761.5,1210.3 L1762.5,1210.5 L1763.5,1210.7 L1764.5,1210.8 L1765.5,1211.0 L1766.5,1211.1 L1767.5,1211.2 L1768.5,1211.3 L1769.5,1211.4 L1770.5,1211.5 L1771.5,1211.5 L1772.5,1211.6 L1773.5,1211.6 L1774.3,1211.6 L1774.5,1211.6 L1775.5,1211.6 L1776.5,1211.6 L1777.5,1211.5 L1778.5,1211.5 L1779.5,1211.4 L1780.5,1211.4 L1781.5,1211.3 L1782.5,1211.2 L1783.5,1211.1 L1784.5,1211.0 L1785.5,1210.9 L1786.5,1210.9 L1787.5,1210.8 L1788.5,1210.7 L1789.5,1210.6 L1790.5,1210.5 L1791.5,1210.4 L1792.5,1210.3 L1793.5,1210.2 L1794.5,1210.1 L1795.5,1210.0 L1796.5,1210.0 L1797.5,1209.9 L1798.5,1209.9 L1799.5,1209.8 L1800.5,1209.8 L1801.5,1209.8 L1801.8,1209.8 L1802.5,1209.8 L1803.5,1209.8 L1804.5,1209.9 L1805.5,1209.9 L1806.5,1210.0 L1807.5,1210.1 L1808.5,1210.1 L1809.5,1210.3 L1810.5,1210.4 L1811.5,1210.5 L1812.5,1210.6 L1813.5,1210.8 L1814.5,1210.9 L1815.5,1211.1 L1816.5,1211.3 L1817.5,1211.4 L1818.5,1211.6 L1819.5,1211.8 L1820.5,1212.0 L1821.5,1212.2 L1822.5,1212.4 L1823.5,1212.6 L1824.5,1212.8 L1825.5,1213.0 L1826.5,1213.2 L1827.5,1213.4 L1828.5,1213.6 L1829.5,1213.8 L1830.5,1214.0 L1831.5,1214.2 L1832.5,1214.4 L1833.5,1214.5 L1834.5,1214.7 L1835.5,1214.9 L1836.5,1215.0 L1837.5,1215.2 L1837.6,1215.2 L1838.5,1215.3 L1839.5,1215.5 L1840.5,1215.7 L1841.5,1215.8 L1842.5,1216.0 L1843.5,1216.2 L1844.5,1216.4 L1845.5,1216.5 L1846.5,1216.7 L1847.5,1216.9 L1848.5,1217.1 L1849.5,1217.3 L1850.5,1217.5 L1851.5,1217.7 L1852.5,1217.8 L1853.5,1218.0 L1854.5,1218.2 L1855.5,1218.3 L1856.5,1218.5 L1857.5,1218.6 L1858.5,1218.8 L1859.5,1218.9 L1860.5,1219.0 L1861.5,1219.1 L1862.5,1219.2 L1863.5,1219.3 L1864.5,1219.3 L1865.5,1219.4 L1866.5,1219.4 L1867.5,1219.4 L1868.5,1219.4 L1869.5,1219.4 L1870.5,1219.4 L1871.5,1219.3 L1872.5,1219.3 L1873.5,1219.3 L1874.5,1219.2 L1875.5,1219.2 L1876.5,1219.1 L1877.5,1219.1 L1878.5,1219.0 L1879.5,1218.9 L1880.5,1218.9 L1881.5,1218.8 L1882.5,1218.7 L1883.5,1218.6 L1884.5,1218.5 L1885.5,1218.5 L1886.5,1218.4 L1887.5,1218.3 L1888.5,1218.2 L1889.5,1218.1 L1890.5,1218.1 L1891.5,1218.0 L1892.5,1217.9 L1893.5,1217.8 L1894.5,1217.8 L1895.5,1217.7 L1896.5,1217.7 L1897.4,1217.6 L1897.5,1217.6 L1898.5,1217.5 L1899.5,1217.5 L1900.5,1217.4 L1901.5,1217.4 L1902.5,1217.3 L1903.5,1217.2 L1904.5,1217.2 L1905.5,1217.1 L1906.5,1217.0 L1907.5,1217.0 L1908.5,1216.9 L1909.5,1216.8 L1910.5,1216.8 L1911.5,1216.7 L1912.5,1216.6 L1913.5,1216.6 L1914.5,1216.5 L1915.5,1216.4 L1916.5,1216.4 L1917.5,1216.3 L1918.5,1216.3 L1919.5,1216.2 L1920.5,1216.2 L1921.5,1216.1 L1922.5,1216.1 L1923.5,1216.0 L1924.5,1216.0 L1925.5,1215.9 L1926.5,1215.9 L1927.5,1215.9 L1928.5,1215.9 L1929.5,1215.8 L1930.5,1215.8 L1931.5,1215.8 L1932.5,1215.8 L1933.3,1215.8 L1933.5,1215.8 L1934.5,1215.8 L1935.5,1215.8 L1936.5,1215.8 L1937.5,1215.8 L1938.5,1215.9 L1939.5,1215.9 L1940.5,1215.9 L1941.5,1216.0 L1942.5,1216.0 L1943.5,1216.1 L1944.5,1216.1 L1945.5,1216.2 L1946.5,1216.2 L1947.5,1216.3 L1948.5,1216.4 L1949.5,1216.4 L1950.5,1216.5 L1951.5,1216.6 L1952.5,1216.7 L1953.5,1216.8 L1954.5,1216.9 L1955.5,1217.0 L1956.5,1217.1 L1957.5,1217.2 L1958.5,1217.3 L1959.5,1217.4 L1960.5,1217.5 L1961.5,1217.6 L1962.5,1217.8 L1963.5,1217.9 L1964.5,1218.0 L1965.5,1218.2 L1966.5,1218.3 L1967.5,1218.4 L1968.5,1218.6 L1969.5,1218.7 L1970.0,1218.8" fill="none" stroke="#ff0000" stroke-width="5" stroke-linejoin="round" stroke-linecap="butt"/>
<path d="M182.0,1166.0 L183.0,1166.0 L184.0,1166.0 L185.0,1166.0 L186.0,1166.0 L187.0,1166.0 L188.0,1166.0 L189.0,1166.0 L190.0,1166.0 L191.0,1166.0 L192.0,1166.0 L193.0,1166.0 L194.0,1166.0 L195.0,1166.1 L196.0,1166.1 L197.0,1166.1 L198.0,1166.1 L199.0,1166.1 L200.0,1166.1 L201.0,1166.1 L202.0,1166.1 L203.0,1166.1 L204.0,1166.1 L205.0,1166.1 L206.0,1166.1 L207.0,1166.1 L208.0,1166.1 L209.0,1166.1 L210.0,1166.1 L211.0,1166.1 L212.0,1166.1 L213.0,1166.1 L214.0,1166.1 L215.0,1166.1 L216.0,1166.1 L217.0,1166.1 L218.0,1166.1 L219.0,1166.1 L220.0,1166.1 L221.0,1166.1 L222.0,1166.2 L223.0,1166.2 L224.0,1166.2 L225.0,1166.2 L226.0,1166.2 L227.0,1166.2 L228.0,1166.2 L229.0,1166.2 L230.0,1166.2 L231.0,1166.2 L232.0,1166.2 L233.0,1166.2 L234.0,1166.2 L235.0,1166.2 L236.0,1166.2 L237.0,1166.2 L238.0,1166.2 L239.0,1166.2 L240.0,1166.2 L241.0,1166.2 L242.0,1166.2 L243.0,1166.2 L244.0,1166.2 L245.0,1166.2 L246.0,1166.2 L247.0,1166.2 L248.0,1166.2 L249.0,1166.2 L250.0,1166.2 L251.0,1166.2 L252.0,1166.2 L253.0,1166.2 L254.0,1166.2 L255.0,1166.2 L256.0,1166.2 L257.0,1166.2 L258.0,1166.3 L259.0,1166.3 L260.0,1166.3 L261.0,1166.3 L262.0,1166.3 L263.0,1166.3 L264.0,1166.3 L265.0,1166.3 L266.0,1166.3 L267.0,1166.3 L268.0,1166.3 L269.0,1166.3 L270.0,1166.3 L271.0,1166.3 L272.0,1166.3 L273.0,1166.3 L274.0,1166.3 L275.0,1166.3 L276.0,1166.3 L277.0,1166.3 L278.0,1166.3 L279.0,1166.3 L280.0,1166.3 L281.0,1166.3 L282.0,1166.3 L283.0,1166.3 L284.0,1166.3 L285.0,1166.3 L286.0,1166.3 L287.0,1166.3 L288.0,1166.3 L289.0,1166.3 L290.0,1166.3 L291.0,1166.3 L292.0,1166.3 L293.0,1166.3 L294.0,1166.3 L295.0,1166.3 L296.0,1166.3 L297.0,1166.3 L298.0,1166.3 L299.0,1166.3 L300.0,1166.3 L301.0,1166.3 L302.0,1166.3 L303.0,1166.3 L304.0,1166.3 L305.0,1166.3 L306.0,1166.3 L307.0,1166.3 L308.0,1166.3 L309.0,1166.3 L310.0,1166.3 L311.0,1166.3 L312.0,1166.3 L313.0,1166.3 L314.0,1166.3 L315.0,1166.3 L316.0,1166.3 L317.0,1166.3 L318.0,1166.3 L319.0,1166.3 L320.0,1166.3 L321.0,1166.3 L322.0,1166.3 L323.0,1166.3 L324.0,1166.3 L325.0,1166.3 L326.0,1166.3 L327.0,1166.3 L328.0,1166.3 L329.0,1166.3 L330.0,1166.3 L331.0,1166.3 L332.0,1166.3 L333.0,1166.3 L334.0,1166.3 L335.0,1166.3 L336.0,1166.3 L337.0,1166.3 L338.0,1166.3 L339.0,1166.3 L340.0,1166.3 L341.0,1166.3 L342.0,1166.3 L343.0,1166.3 L344.0,1166.3 L345.0,1166.3 L346.0,1166.3 L347.0,1166.3 L348.0,1166.3 L349.0,1166.3 L350.0,1166.3 L351.0,1166.3 L352.0,1166.3 L353.0,1166.3 L354.0,1166.3 L355.0,1166.3 L356.0,1166.3 L357.0,1166.3 L358.0,1166.3 L359.0,1166.3 L360.0,1166.3 L361.0,1166.3 L362.0,1166.3 L363.0,1166.3 L364.0,1166.3 L365.0,1166.3 L366.0,1166.3 L367.0,1166.3 L368.0,1166.3 L369.0,1166.3 L370.0,1166.3 L371.0,1166.3 L372.0,1166.3 L373.0,1166.3 L374.0,1166.3 L375.0,1166.3 L376.0,1166.3 L377.0,1166.3 L378.0,1166.3 L379.0,1166.3 L380.0,1166.3 L381.0,1166.3 L382.0,1166.3 L383.0,1166.2 L384.0,1166.2 L385.0,1166.1 L386.0,1166.0 L387.0,1165.9 L388.0,1165.8 L389.0,1165.7 L390.0,1165.5 L391.0,1165.4 L392.0,1165.2 L393.0,1165.0 L394.0,1164.8 L395.0,1164.7 L396.0,1164.4 L397.0,1164.2 L398.0,1164.0 L399.0,1163.7 L400.0,1163.3 L401.0,1162.9 L402.0,1162.3 L403.0,1161.6 L404.0,1160.9 L405.0,1160.0 L406.0,1159.1 L407.0,1158.2 L408.0,1157.1 L409.0,1156.0 L410.0,1154.7 L411.0,1153.0 L412.0,1150.9 L413.0,1148.6 L414.0,1146.0 L415.0,1143.2 L416.0,1140.2 L417.0,1137.0 L418.0,1133.4 L419.0,1129.2 L420.0,1124.4 L421.0,1119.2 L422.0,1113.7 L423.0,1108.0 L424.0,1102.1 L425.0,1095.6 L426.0,1088.3 L427.0,1080.0 L428.0,1069.4 L429.0,1056.5 L430.0,1042.9 L431.0,1030.0 L432.0,1018.4 L433.0,1007.1 L434.0,995.0 L435.0,981.3 L436.0,966.9 L436.5,960.0 L437.0,953.6 L438.0,941.6 L439.0,929.1 L439.5,922.0 L440.0,913.9 L441.0,895.1 L442.0,874.5 L443.0,854.1 L444.0,836.0 L445.0,820.7 L446.0,806.7 L447.0,793.1 L448.0,779.0 L449.0,763.7 L450.0,748.0 L451.0,733.5 L451.3,729.6 L452.0,720.6 L453.0,708.5 L454.0,700.0 L455.0,695.1 L456.0,691.5 L457.0,688.3 L458.0,685.0 L459.0,681.3 L460.0,677.7 L461.0,674.0 L462.0,683.5 L463.0,693.1 L463.2,695.0 L464.0,704.7 L465.0,718.2 L465.5,725.0 L466.0,731.9 L467.0,746.0 L468.0,760.0 L469.0,773.5 L470.0,786.7 L471.0,800.0 L472.0,813.8 L473.0,827.5 L474.0,840.0 L475.0,850.3 L476.0,859.8 L476.5,865.0 L477.0,870.5 L478.0,882.3 L479.0,895.0 L480.0,910.0 L481.0,926.2 L482.0,940.0 L483.0,951.4 L484.0,961.8 L485.0,969.6 L485.5,972.0 L486.0,973.8 L487.0,976.9 L488.0,979.2 L489.0,980.0 L490.0,979.2 L491.0,976.9 L492.0,973.8 L492.5,972.0 L493.0,969.7 L494.0,962.3 L495.0,952.1 L496.0,940.0 L497.0,923.5 L498.0,902.0 L499.0,880.0 L500.0,859.2 L501.0,838.1 L502.0,816.5 L503.0,793.9 L504.0,770.0 L505.0,744.5 L506.0,717.5 L507.0,689.3 L508.0,660.1 L509.0,630.3 L510.0,600.0 L511.0,568.8 L512.0,536.3 L513.0,503.2 L514.0,470.0 L515.0,435.4 L515.5,420.0 L516.0,407.4 L517.0,385.0 L518.0,361.0 L518.5,350.0 L519.0,340.5 L520.0,323.5 L520.5,315.0 L521.0,306.1 L522.0,288.4 L522.5,280.0 L523.0,272.0 L524.0,257.0 L524.5,250.0 L525.0,243.9 L526.0,231.8 L527.0,219.6 L528.0,207.5 L529.0,219.6 L530.0,231.8 L531.0,243.9 L531.5,250.0 L532.0,257.7 L533.0,275.8 L533.2,280.0 L534.0,300.7 L534.5,315.0 L535.0,329.2 L535.7,350.0 L536.0,359.2 L536.8,385.0 L537.0,392.0 L537.8,420.0 L538.0,425.8 L539.0,451.9 L540.0,474.9 L541.0,496.9 L542.0,520.0 L543.0,545.2 L544.0,571.0 L545.0,596.4 L546.0,620.0 L547.0,641.5 L548.0,661.7 L549.0,681.1 L550.0,700.4 L551.0,720.0 L552.0,740.0 L553.0,760.0 L554.0,780.0 L555.0,800.0 L556.0,820.0 L557.0,840.6 L558.0,861.7 L559.0,882.5 L560.0,902.2 L561.0,920.0 L562.0,936.6 L563.0,953.0 L564.0,968.7 L565.0,983.1 L566.0,995.7 L567.0,1005.9 L567.5,1010.0 L568.0,1013.6 L569.0,1020.6 L570.0,1027.0 L571.0,1033.0 L572.0,1038.5 L573.0,1043.5 L574.0,1047.9 L575.0,1051.8 L576.0,1055.1 L577.0,1057.9 L578.0,1060.0 L579.0,1061.8 L580.0,1063.5 L581.0,1065.2 L582.0,1066.7 L583.0,1068.1 L584.0,1069.4 L585.0,1070.5 L586.0,1071.4 L587.0,1072.2 L588.0,1072.7 L589.0,1073.0 L589.6,1073.0 L590.0,1072.9 L591.0,1072.3 L592.0,1070.9 L593.0,1068.9 L594.0,1066.5 L595.0,1063.7 L596.0,1060.5 L597.0,1057.2 L598.0,1053.7 L599.0,1050.1 L600.0,1046.7 L600.5,1045.0 L601.0,1043.3 L602.0,1039.4 L603.0,1035.1 L604.0,1030.6 L605.0,1025.8 L606.0,1021.1 L606.7,1017.8 L607.0,1016.4 L608.0,1011.6 L609.0,1006.6 L610.0,1001.5 L611.0,996.4 L612.0,991.3 L613.0,986.4 L614.0,981.7 L614.7,978.6 L615.0,977.3 L616.0,972.6 L617.0,967.7 L618.0,963.0 L619.0,958.5 L620.0,954.7 L621.0,951.8 L622.0,950.0 L623.0,949.3 L624.0,948.7 L625.0,948.0 L626.0,947.4 L627.0,946.7 L628.0,946.1 L628.9,945.5 L629.9,948.7 L630.9,951.8 L631.9,955.0 L632.9,958.1 L633.5,960.0 L633.9,961.5 L634.9,965.7 L635.9,970.3 L636.9,975.1 L637.6,978.6 L637.9,980.1 L638.9,985.6 L639.9,991.3 L640.9,997.3 L641.9,1003.4 L642.9,1009.5 L643.9,1015.5 L644.3,1017.8 L644.9,1021.4 L645.9,1027.7 L646.9,1034.1 L647.9,1040.2 L648.9,1045.5 L649.9,1049.7 L650.0,1050.0 L650.9,1053.0 L651.9,1056.2 L652.9,1059.3 L653.9,1062.1 L654.9,1064.6 L655.9,1066.6 L656.9,1068.0 L657.9,1068.9 L658.5,1069.0 L658.9,1068.9 L659.9,1068.1 L660.9,1066.3 L661.9,1063.7 L662.9,1060.4 L663.9,1056.3 L664.9,1051.7 L665.9,1046.4 L666.9,1040.7 L667.9,1034.6 L668.9,1028.1 L669.9,1021.3 L670.9,1014.3 L671.9,1007.2 L672.9,1000.0 L673.9,992.7 L674.0,992.0 L674.9,984.3 L675.9,973.7 L676.9,962.2 L677.9,951.1 L678.3,947.0 L678.9,941.2 L679.9,931.9 L680.9,922.8 L681.9,913.8 L682.9,904.7 L683.3,901.0 L683.9,895.0 L684.9,884.2 L685.9,873.3 L686.9,863.6 L687.9,856.5 L688.0,856.0 L688.9,853.1 L689.9,849.9 L690.9,846.7 L691.9,843.5 L692.9,840.3 L693.9,837.1 L694.9,833.9 L695.5,832.0 L696.5,836.6 L697.5,841.2 L698.5,845.8 L699.5,850.5 L700.5,855.1 L700.7,856.0 L701.5,862.0 L702.5,871.7 L703.5,882.5 L704.5,893.3 L705.3,901.0 L705.5,902.8 L706.5,911.0 L707.5,918.9 L708.5,926.7 L709.5,935.0 L710.5,943.9 L711.5,953.2 L712.5,962.8 L713.5,972.3 L714.0,977.0 L714.5,981.8 L715.5,991.6 L716.5,1001.6 L717.5,1011.2 L718.5,1020.0 L719.0,1024.0 L719.5,1027.7 L720.5,1034.8 L721.5,1041.5 L722.5,1047.7 L723.5,1053.5 L724.5,1059.0 L725.5,1064.4 L726.5,1069.7 L727.5,1075.0 L728.5,1080.0 L729.5,1084.7 L730.5,1089.0 L731.5,1092.7 L732.5,1095.7 L733.0,1097.0 L733.5,1098.2 L734.5,1100.4 L735.5,1102.6 L736.5,1104.7 L737.5,1106.6 L738.5,1108.2 L739.5,1109.5 L740.5,1110.5 L741.5,1111.1 L742.3,1111.3 L742.5,1111.3 L743.5,1111.1 L744.5,1110.5 L745.5,1109.7 L746.5,1108.7 L747.5,1107.4 L748.5,1105.9 L749.5,1104.3 L750.5,1102.5 L751.5,1100.6 L752.5,1098.7 L753.5,1096.6 L754.5,1094.5 L755.5,1092.5 L756.5,1090.4 L757.5,1088.4 L758.2,1087.0 L758.5,1086.4 L759.5,1084.3 L760.5,1081.9 L761.5,1079.4 L762.5,1076.7 L763.5,1073.8 L764.5,1070.9 L765.5,1067.9 L766.5,1064.9 L767.5,1061.9 L768.5,1058.9 L769.5,1056.0 L770.5,1053.2 L771.5,1050.6 L772.5,1048.1 L773.5,1045.9 L774.5,1043.8 L774.9,1043.1 L775.5,1042.0 L776.5,1040.2 L777.5,1038.4 L778.5,1036.7 L779.5,1035.0 L780.5,1033.3 L781.5,1031.8 L782.5,1030.4 L783.5,1029.2 L784.5,1028.1 L785.5,1027.3 L786.5,1026.6 L787.0,1026.4 L787.5,1026.3 L788.5,1026.1 L789.5,1025.8 L790.5,1025.6 L791.5,1025.4 L792.5,1025.1 L793.5,1024.9 L794.5,1024.7 L795.5,1024.4 L796.5,1024.2 L796.9,1024.1 L797.9,1025.0 L798.9,1025.8 L799.9,1026.7 L800.9,1027.5 L801.9,1028.4 L802.9,1029.2 L803.9,1030.1 L804.9,1031.0 L805.9,1031.8 L806.7,1032.5 L806.9,1032.8 L807.9,1034.2 L808.9,1036.0 L809.9,1038.0 L810.9,1040.3 L811.9,1042.7 L812.9,1045.3 L813.9,1048.0 L814.9,1050.7 L815.9,1053.4 L816.9,1056.1 L817.9,1058.8 L818.9,1061.3 L819.9,1063.8 L820.9,1066.5 L821.9,1069.3 L822.9,1072.1 L823.9,1074.9 L824.9,1077.6 L825.9,1080.3 L826.9,1082.8 L827.9,1085.2 L828.9,1087.4 L829.5,1088.6 L829.9,1089.4 L830.9,1091.3 L831.9,1093.1 L832.9,1094.9 L833.9,1096.7 L834.9,1098.4 L835.9,1100.0 L836.9,1101.5 L837.9,1102.9 L838.9,1104.1 L839.9,1105.3 L840.9,1106.2 L841.6,1106.8 L841.9,1107.0 L842.9,1107.7 L843.9,1108.4 L844.9,1109.1 L845.9,1109.7 L846.9,1110.2 L847.9,1110.8 L848.9,1111.3 L849.9,1111.8 L850.9,1112.2 L851.9,1112.6 L852.9,1113.0 L853.9,1113.4 L854.9,1113.7 L855.9,1114.0 L856.8,1114.3 L856.9,1114.3 L857.9,1114.6 L858.9,1114.9 L859.9,1115.2 L860.9,1115.5 L861.9,1115.8 L862.9,1116.1 L863.9,1116.4 L864.9,1116.6 L865.9,1116.9 L866.9,1117.1 L867.9,1117.4 L868.9,1117.6 L869.9,1117.8 L870.9,1118.0 L871.9,1118.2 L872.9,1118.4 L873.9,1118.5 L874.9,1118.6 L875.9,1118.7 L876.9,1118.8 L877.9,1118.9 L878.9,1118.9 L879.5,1118.9 L879.9,1118.9 L880.9,1118.9 L881.9,1118.8 L882.9,1118.8 L883.9,1118.7 L884.9,1118.5 L885.9,1118.4 L886.9,1118.2 L887.9,1118.0 L888.9,1117.8 L889.9,1117.6 L890.9,1117.4 L891.9,1117.1 L892.9,1116.8 L893.9,1116.5 L894.9,1116.2 L895.9,1115.9 L896.9,1115.6 L897.9,1115.2 L898.9,1114.9 L899.9,1114.5 L900.9,1114.1 L901.9,1113.7 L902.9,1113.3 L903.9,1112.9 L904.9,1112.5 L905.9,1112.1 L906.9,1111.7 L907.9,1111.2 L908.9,1110.8 L909.8,1110.4 L909.9,1110.4 L910.9,1109.9 L911.9,1109.2 L912.9,1108.6 L913.9,1107.8 L914.9,1106.9 L915.9,1106.0 L916.9,1105.0 L917.9,1104.0 L918.9,1103.0 L919.9,1101.9 L920.9,1100.9 L921.9,1099.8 L922.9,1098.7 L923.9,1097.6 L924.9,1096.6 L925.9,1095.6 L926.9,1094.7 L927.9,1093.8 L928.9,1092.9 L929.9,1092.2 L930.9,1091.5 L931.8,1091.0 L931.9,1090.9 L932.9,1090.4 L933.9,1089.9 L934.9,1089.3 L935.9,1088.8 L936.9,1088.2 L937.9,1087.7 L938.9,1087.2 L939.9,1086.7 L940.9,1086.2 L941.9,1085.8 L942.9,1085.4 L943.9,1085.0 L944.9,1084.6 L945.9,1084.3 L946.9,1084.0 L947.9,1083.8 L948.9,1083.6 L949.9,1083.5 L950.9,1083.4 L951.5,1083.4 L951.9,1083.4 L952.9,1083.5 L953.9,1083.7 L954.9,1083.9 L955.9,1084.3 L956.9,1084.7 L957.9,1085.1 L958.9,1085.6 L959.9,1086.1 L960.9,1086.7 L961.9,1087.2 L962.9,1087.8 L963.9,1088.3 L964.4,1088.6 L964.9,1088.9 L965.9,1089.5 L966.9,1090.2 L967.9,1090.9 L968.9,1091.7 L969.9,1092.6 L970.9,1093.5 L971.9,1094.3 L972.9,1095.2 L973.9,1096.1 L974.9,1097.0 L975.9,1097.8 L976.9,1098.6 L977.3,1098.9 L977.9,1099.4 L978.9,1100.1 L979.9,1101.0 L980.9,1101.8 L981.9,1102.6 L982.9,1103.4 L983.9,1104.2 L984.9,1105.0 L985.9,1105.7 L986.9,1106.3 L987.9,1106.9 L988.9,1107.4 L989.9,1107.8 L990.2,1107.9 L990.9,1108.1 L991.9,1108.4 L992.9,1108.6 L993.9,1108.9 L994.9,1109.1 L995.9,1109.3 L996.9,1109.4 L997.9,1109.6 L998.9,1109.8 L999.9,1109.9 L1000.9,1110.1 L1001.9,1110.3 L1002.9,1110.5 L1003.0,1110.5 L1003.9,1110.7 L1004.9,1110.9 L1005.9,1111.0 L1006.9,1111.2 L1007.9,1111.4 L1008.9,1111.6 L1009.9,1111.8 L1010.9,1112.0 L1011.9,1112.1 L1012.9,1112.3 L1013.9,1112.6 L1014.9,1112.8 L1015.9,1113.0 L1016.9,1113.2 L1017.9,1113.5 L1018.9,1113.8 L1019.9,1114.0 L1020.9,1114.3 L1021.9,1114.6 L1022.9,1114.9 L1023.9,1115.3 L1024.9,1115.6 L1025.9,1115.9 L1026.9,1116.3 L1027.9,1116.6 L1028.8,1116.9 L1028.9,1116.9 L1029.9,1117.3 L1030.9,1117.7 L1031.9,1118.1 L1032.9,1118.5 L1033.9,1118.9 L1034.9,1119.4 L1035.9,1119.8 L1036.9,1120.2 L1037.9,1120.6 L1038.9,1121.0 L1039.9,1121.4 L1040.9,1121.7 L1041.7,1122.0 L1041.9,1122.1 L1042.9,1122.4 L1043.9,1122.7 L1044.9,1122.9 L1045.9,1123.2 L1046.9,1123.5 L1047.9,1123.8 L1048.9,1124.0 L1049.9,1124.3 L1050.9,1124.5 L1051.9,1124.8 L1052.9,1125.0 L1053.9,1125.2 L1054.9,1125.4 L1055.9,1125.7 L1056.9,1125.9 L1057.9,1126.1 L1058.9,1126.3 L1059.9,1126.5 L1060.0,1126.5 L1060.9,1126.7 L1061.9,1126.9 L1062.9,1127.0 L1063.9,1127.2 L1064.9,1127.4 L1065.9,1127.5 L1066.9,1127.7 L1067.9,1127.8 L1068.9,1128.0 L1069.9,1128.1 L1070.9,1128.3 L1071.9,1128.4 L1072.9,1128.6 L1073.9,1128.7 L1074.9,1128.8 L1075.9,1129.0 L1076.9,1129.1 L1077.9,1129.2 L1078.9,1129.4 L1079.9,1129.5 L1080.9,1129.7 L1081.9,1129.8 L1082.9,1129.9 L1083.9,1130.1 L1084.9,1130.3 L1085.9,1130.4 L1086.9,1130.6 L1087.9,1130.7 L1088.9,1130.9 L1089.9,1131.1 L1090.9,1131.3 L1091.9,1131.5 L1092.0,1131.5 L1092.9,1131.7 L1093.9,1131.9 L1094.9,1132.1 L1095.9,1132.3 L1096.9,1132.6 L1097.9,1132.8 L1098.9,1133.1 L1099.9,1133.3 L1100.9,1133.6 L1101.9,1133.9 L1102.9,1134.2 L1103.9,1134.4 L1104.9,1134.7 L1105.9,1135.0 L1106.9,1135.3 L1107.9,1135.6 L1108.9,1135.9 L1109.9,1136.2 L1110.9,1136.5 L1111.9,1136.8 L1112.9,1137.1 L1113.9,1137.4 L1114.9,1137.7 L1115.9,1138.0 L1116.9,1138.3 L1117.9,1138.6 L1118.9,1138.9 L1119.9,1139.2 L1120.9,1139.5 L1121.9,1139.8 L1122.9,1140.1 L1123.9,1140.4 L1124.4,1140.5 L1124.9,1140.6 L1125.9,1140.9 L1126.9,1141.2 L1127.9,1141.5 L1128.9,1141.8 L1129.9,1142.1 L1130.9,1142.4 L1131.9,1142.6 L1132.9,1142.9 L1133.9,1143.2 L1134.9,1143.5 L1135.9,1143.8 L1136.9,1144.1 L1137.9,1144.4 L1138.9,1144.7 L1139.9,1145.0 L1140.9,1145.3 L1141.9,1145.6 L1142.9,1145.8 L1143.9,1146.1 L1144.9,1146.4 L1145.9,1146.7 L1146.9,1147.0 L1147.9,1147.2 L1148.9,1147.5 L1149.9,1147.8 L1150.9,1148.1 L1151.9,1148.3 L1152.9,1148.6 L1153.9,1148.8 L1154.9,1149.1 L1155.9,1149.3 L1156.6,1149.5 L1156.9,1149.6 L1157.9,1149.8 L1158.9,1150.1 L1159.9,1150.3 L1160.9,1150.6 L1161.9,1150.8 L1162.9,1151.1 L1163.9,1151.3 L1164.9,1151.5 L1165.9,1151.8 L1166.9,1152.0 L1167.9,1152.3 L1168.9,1152.5 L1169.9,1152.7 L1170.9,1152.9 L1171.9,1153.2 L1172.9,1153.4 L1173.9,1153.5 L1174.9,1153.7 L1175.9,1153.9 L1176.9,1154.1 L1177.9,1154.2 L1178.9,1154.4 L1179.9,1154.5 L1180.0,1154.5 L1180.9,1154.6 L1181.9,1154.7 L1182.9,1154.8 L1183.9,1154.9 L1184.9,1155.0 L1185.9,1155.1 L1186.9,1155.2 L1187.9,1155.2 L1188.9,1155.3 L1189.9,1155.4 L1190.9,1155.4 L1191.9,1155.5 L1192.9,1155.6 L1193.9,1155.6 L1194.9,1155.7 L1195.9,1155.7 L1196.9,1155.8 L1197.9,1155.9 L1198.9,1155.9 L1199.9,1156.0 L1200.9,1156.1 L1201.9,1156.1 L1202.9,1156.2 L1203.9,1156.3 L1204.9,1156.3 L1205.9,1156.4 L1206.9,1156.5 L1207.9,1156.6 L1208.9,1156.7 L1209.9,1156.8 L1210.9,1156.9 L1211.9,1157.0 L1212.0,1157.0 L1212.9,1157.1 L1213.9,1157.3 L1214.9,1157.4 L1215.9,1157.6 L1216.9,1157.8 L1217.9,1158.0 L1218.9,1158.2 L1219.9,1158.5 L1220.9,1158.7 L1221.9,1159.0 L1222.9,1159.2 L1223.9,1159.5 L1224.9,1159.8 L1225.9,1160.1 L1226.9,1160.4 L1227.9,1160.6 L1228.9,1160.9 L1229.9,1161.2 L1230.9,1161.5 L1231.9,1161.8 L1232.9,1162.0 L1233.9,1162.3 L1234.9,1162.5 L1235.9,1162.8 L1236.9,1163.0 L1237.9,1163.2 L1238.9,1163.4 L1239.9,1163.6 L1240.9,1163.8 L1241.9,1163.9 L1242.9,1164.1 L1243.9,1164.2 L1244.0,1164.2 L1244.9,1164.3 L1245.9,1164.4 L1246.9,1164.5 L1247.9,1164.6 L1248.9,1164.7 L1249.9,1164.8 L1250.9,1164.9 L1251.9,1165.0 L1252.9,1165.0 L1253.9,1165.1 L1254.9,1165.2 L1255.9,1165.3 L1256.9,1165.4 L1257.9,1165.5 L1258.9,1165.5 L1259.9,1165.6 L1260.9,1165.7 L1261.9,1165.8 L1262.9,1165.8 L1263.9,1165.9 L1264.9,1165.9 L1265.9,1166.0 L1266.9,1166.0 L1267.9,1166.1 L1268.9,1166.1 L1269.9,1166.2 L1270.9,1166.2 L1271.9,1166.2 L1272.9,1166.3 L1273.9,1166.3 L1274.9,1166.3 L1275.9,1166.3 L1276.9,1166.3 L1277.0,1166.3 L1277.9,1166.3 L1278.9,1166.3 L1279.9,1166.2 L1280.9,1166.2 L1281.9,1166.1 L1282.9,1166.0 L1283.9,1165.9 L1284.9,1165.8 L1285.9,1165.7 L1286.9,1165.5 L1287.9,1165.4 L1288.9,1165.2 L1289.9,1165.1 L1290.9,1164.9 L1291.9,1164.8 L1292.9,1164.6 L1293.9,1164.4 L1294.9,1164.3 L1295.9,1164.1 L1296.9,1164.0 L1297.9,1163.8 L1298.9,1163.7 L1299.9,1163.5 L1300.0,1163.5 L1300.9,1163.4 L1301.9,1163.2 L1302.9,1163.0 L1303.9,1162.8 L1304.9,1162.6 L1305.9,1162.4 L1306.9,1162.2 L1307.9,1162.0 L1308.9,1161.8 L1309.9,1161.6 L1310.9,1161.4 L1311.9,1161.2 L1312.9,1161.0 L1313.9,1160.9 L1314.9,1160.8 L1315.9,1160.7 L1316.9,1160.6 L1317.9,1160.5 L1318.9,1160.5 L1319.0,1160.5 L1319.9,1160.5 L1320.9,1160.6 L1321.9,1160.6 L1322.9,1160.7 L1323.9,1160.9 L1324.9,1161.0 L1325.9,1161.2 L1326.9,1161.4 L1327.9,1161.6 L1328.9,1161.8 L1329.9,1162.0 L1330.9,1162.2 L1331.9,1162.4 L1332.9,1162.7 L1333.9,1162.9 L1334.9,1163.1 L1335.9,1163.3 L1336.9,1163.6 L1337.9,1163.8 L1338.9,1164.0 L1339.9,1164.1 L1340.9,1164.3 L1341.9,1164.4 L1342.5,1164.5 L1342.9,1164.5 L1343.9,1164.7 L1344.9,1164.8 L1345.9,1164.9 L1346.9,1165.0 L1347.9,1165.1 L1348.9,1165.2 L1349.9,1165.3 L1350.9,1165.5 L1351.9,1165.6 L1352.9,1165.7 L1353.9,1165.8 L1354.9,1165.9 L1355.9,1166.0 L1356.9,1166.1 L1357.9,1166.2 L1358.9,1166.3 L1359.9,1166.4 L1360.9,1166.5 L1361.9,1166.6 L1362.9,1166.7 L1363.9,1166.7 L1364.9,1166.8 L1365.9,1166.9 L1366.9,1167.0 L1367.9,1167.0 L1368.9,1167.1 L1369.9,1167.1 L1370.9,1167.2 L1371.9,1167.2 L1372.9,1167.2 L1373.9,1167.3 L1374.9,1167.3 L1375.9,1167.3 L1376.9,1167.3 L1377.0,1167.3 L1377.9,1167.3 L1378.9,1167.3 L1379.9,1167.3 L1380.9,1167.2 L1381.9,1167.2 L1382.9,1167.1 L1383.9,1167.1 L1384.9,1167.0 L1385.9,1167.0 L1386.9,1166.9 L1387.9,1166.8 L1388.9,1166.7 L1389.9,1166.6 L1390.9,1166.6 L1391.9,1166.5 L1392.9,1166.4 L1393.9,1166.3 L1394.9,1166.2 L1395.9,1166.1 L1396.9,1166.0 L1397.9,1165.9 L1398.9,1165.8 L1399.9,1165.8 L1400.9,1165.7 L1401.9,1165.6 L1402.9,1165.5 L1403.9,1165.5 L1404.9,1165.4 L1405.9,1165.3 L1406.9,1165.3 L1407.9,1165.3 L1408.9,1165.2 L1409.9,1165.2 L1410.9,1165.2 L1411.5,1165.2 L1411.9,1165.2 L1412.9,1165.2 L1413.9,1165.3 L1414.9,1165.3 L1415.9,1165.4 L1416.9,1165.5 L1417.9,1165.6 L1418.9,1165.7 L1419.9,1165.8 L1420.9,1165.9 L1421.9,1166.1 L1422.9,1166.2 L1423.9,1166.4 L1424.9,1166.6 L1425.9,1166.8 L1426.9,1167.0 L1427.9,1167.2 L1428.9,1167.4 L1429.9,1167.6 L1430.9,1167.9 L1431.9,1168.1 L1432.9,1168.3 L1433.9,1168.6 L1434.9,1168.8 L1435.9,1169.0 L1436.9,1169.3 L1437.9,1169.5 L1438.9,1169.8 L1439.9,1170.0 L1440.9,1170.2 L1441.9,1170.5 L1442.9,1170.7 L1443.9,1170.9 L1444.9,1171.2 L1445.9,1171.4 L1446.0,1171.4 L1446.9,1171.6 L1447.9,1171.8 L1448.9,1172.1 L1449.9,1172.3 L1450.9,1172.6 L1451.9,1172.9 L1452.9,1173.1 L1453.9,1173.4 L1454.9,1173.7 L1455.9,1173.9 L1456.9,1174.2 L1457.9,1174.4 L1458.9,1174.7 L1459.9,1174.9 L1460.0,1174.9 L1460.9,1175.1 L1461.9,1175.3 L1462.9,1175.5 L1463.9,1175.7 L1464.9,1175.9 L1465.9,1176.1 L1466.9,1176.3 L1467.9,1176.5 L1468.9,1176.7 L1469.9,1176.9 L1470.9,1177.1 L1471.9,1177.2 L1472.9,1177.4 L1473.9,1177.6 L1474.9,1177.8 L1475.9,1177.9 L1476.9,1178.1 L1477.9,1178.3 L1478.9,1178.4 L1479.9,1178.6 L1480.9,1178.8 L1481.9,1178.9 L1482.9,1179.1 L1483.9,1179.2 L1484.9,1179.3 L1485.9,1179.5 L1486.9,1179.6 L1487.6,1179.7 L1487.9,1179.7 L1488.9,1179.9 L1489.9,1180.0 L1490.9,1180.1 L1491.9,1180.3 L1492.9,1180.4 L1493.9,1180.5 L1494.9,1180.6 L1495.9,1180.8 L1496.9,1180.9 L1497.9,1181.0 L1498.9,1181.2 L1499.9,1181.3 L1500.9,1181.4 L1501.9,1181.5 L1502.9,1181.6 L1503.9,1181.8 L1504.9,1181.9 L1505.9,1182.0 L1506.9,1182.1 L1507.9,1182.2 L1508.9,1182.3 L1509.9,1182.4 L1510.9,1182.5 L1511.9,1182.6 L1512.9,1182.7 L1513.9,1182.8 L1514.9,1182.9 L1515.9,1183.0 L1516.9,1183.1 L1517.9,1183.2 L1518.9,1183.3 L1519.9,1183.3 L1520.9,1183.4 L1521.9,1183.5 L1522.9,1183.5 L1523.9,1183.6 L1524.9,1183.6 L1525.9,1183.7 L1526.9,1183.7 L1527.9,1183.8 L1528.9,1183.8 L1529.0,1183.8 L1529.9,1183.8 L1530.9,1183.9 L1531.9,1183.9 L1532.9,1183.9 L1533.9,1183.9 L1534.9,1183.9 L1535.9,1184.0 L1536.9,1184.0 L1537.9,1184.0 L1538.9,1184.0 L1539.9,1184.0 L1540.9,1184.1 L1541.9,1184.1 L1542.9,1184.1 L1543.9,1184.1 L1544.9,1184.1 L1545.9,1184.1 L1546.9,1184.1 L1547.9,1184.2 L1548.9,1184.2 L1549.9,1184.2 L1550.9,1184.2 L1551.9,1184.2 L1552.9,1184.2 L1553.9,1184.2 L1554.9,1184.2 L1555.9,1184.3 L1556.9,1184.3 L1557.9,1184.3 L1558.9,1184.3 L1559.9,1184.3 L1560.9,1184.3 L1561.9,1184.3 L1562.9,1184.4 L1563.9,1184.4 L1564.9,1184.4 L1565.9,1184.4 L1566.9,1184.4 L1567.9,1184.4 L1568.9,1184.5 L1569.9,1184.5 L1570.4,1184.5 L1570.9,1184.5 L1571.9,1184.5 L1572.9,1184.6 L1573.9,1184.6 L1574.9,1184.6 L1575.9,1184.6 L1576.9,1184.6 L1577.9,1184.7 L1578.9,1184.7 L1579.9,1184.7 L1580.9,1184.8 L1581.9,1184.8 L1582.9,1184.8 L1583.9,1184.9 L1584.9,1184.9 L1585.9,1184.9 L1586.9,1185.0 L1587.9,1185.0 L1588.9,1185.1 L1589.9,1185.1 L1590.9,1185.2 L1591.1,1185.2 L1591.9,1185.3 L1592.9,1185.5 L1593.9,1185.7 L1594.9,1186.0 L1595.9,1186.4 L1596.9,1186.8 L1597.9,1187.3 L1598.9,1187.8 L1599.9,1188.3 L1600.9,1188.9 L1601.9,1189.4 L1602.9,1189.9 L1603.9,1190.4 L1604.9,1190.9 L1605.9,1191.4 L1606.9,1191.8 L1607.9,1192.1 L1608.9,1192.4 L1609.9,1192.6 L1610.9,1192.8 L1611.8,1192.8 L1611.9,1192.8 L1612.9,1192.8 L1613.9,1192.8 L1614.9,1192.8 L1615.9,1192.8 L1616.9,1192.8 L1617.9,1192.8 L1618.9,1192.8 L1619.9,1192.8 L1620.9,1192.8 L1621.9,1192.8 L1622.9,1192.8 L1623.9,1192.8 L1624.9,1192.8 L1625.9,1192.8 L1626.9,1192.8 L1627.9,1192.8 L1628.9,1192.8 L1629.9,1192.8 L1630.9,1192.8 L1631.9,1192.8 L1632.9,1192.8 L1633.9,1192.8 L1634.9,1192.8 L1635.9,1192.8 L1636.9,1192.8 L1637.9,1192.8 L1638.9,1192.8 L1639.4,1192.8 L1663.4,1196.2 L1664.4,1196.7 L1665.4,1197.1 L1666.4,1197.6 L1667.4,1198.1 L1668.4,1198.5 L1669.4,1199.0 L1670.4,1199.5 L1671.4,1200.0 L1672.4,1200.4 L1673.4,1200.9 L1674.4,1201.4 L1675.4,1201.8 L1676.4,1202.3 L1677.4,1202.8 L1677.9,1203.0 L1678.4,1203.2 L1679.4,1203.6 L1680.4,1204.1 L1681.4,1204.5 L1682.4,1204.9 L1683.4,1205.3 L1684.4,1205.7 L1685.4,1206.1 L1686.4,1206.5 L1687.4,1206.9 L1688.4,1207.3 L1689.4,1207.7 L1690.4,1208.0 L1691.4,1208.4 L1692.4,1208.8 L1693.4,1209.2 L1694.4,1209.6 L1695.4,1210.0 L1696.4,1210.4 L1697.2,1210.7 L1697.4,1210.8 L1698.4,1211.2 L1699.4,1211.6 L1700.4,1212.0 L1701.4,1212.4 L1702.4,1212.8 L1703.4,1213.2 L1704.4,1213.6 L1705.4,1214.0 L1706.4,1214.4 L1707.4,1214.8 L1708.4,1215.2 L1709.4,1215.6 L1710.4,1216.0 L1711.4,1216.4 L1712.4,1216.8 L1713.4,1217.2 L1714.4,1217.6 L1715.4,1218.0 L1716.4,1218.4 L1716.5,1218.4 L1717.4,1218.7 L1718.4,1219.1 L1719.4,1219.5 L1720.4,1219.8 L1721.4,1220.2 L1722.4,1220.6 L1723.4,1220.9 L1724.4,1221.3 L1725.4,1221.7 L1726.4,1222.0 L1727.4,1222.4 L1728.4,1222.7 L1729.4,1223.1 L1730.4,1223.4 L1731.4,1223.7 L1732.4,1224.1 L1733.4,1224.4 L1734.4,1224.7 L1735.4,1225.0 L1735.8,1225.1 L1736.4,1225.3 L1737.4,1225.6 L1738.4,1225.9 L1739.4,1226.2 L1740.4,1226.5 L1741.4,1226.8 L1742.4,1227.1 L1743.4,1227.4 L1744.4,1227.6 L1745.4,1227.9 L1746.4,1228.2 L1747.4,1228.4 L1748.4,1228.7 L1749.4,1228.9 L1750.4,1229.2 L1751.4,1229.4 L1752.4,1229.6 L1753.4,1229.7 L1754.4,1229.9 L1755.0,1230.0 L1755.4,1230.1 L1756.4,1230.2 L1757.4,1230.3 L1758.4,1230.5 L1759.4,1230.6 L1760.4,1230.7 L1761.4,1230.8 L1762.4,1231.0 L1763.4,1231.1 L1764.4,1231.2 L1765.4,1231.3 L1766.4,1231.4 L1767.4,1231.5 L1768.4,1231.6 L1769.4,1231.6 L1770.4,1231.7 L1771.4,1231.8 L1772.4,1231.8 L1773.4,1231.9 L1774.3,1231.9 L1774.4,1231.9 L1775.4,1231.9 L1776.4,1232.0 L1777.4,1232.0 L1778.4,1232.0 L1779.4,1232.0 L1780.4,1232.1 L1781.4,1232.1 L1782.4,1232.1 L1783.4,1232.1 L1784.4,1232.1 L1785.4,1232.1 L1786.4,1232.1 L1787.4,1232.2 L1788.4,1232.2 L1789.4,1232.2 L1790.4,1232.2 L1791.4,1232.2 L1792.4,1232.2 L1793.4,1232.2 L1794.4,1232.3 L1795.4,1232.3 L1796.4,1232.3 L1797.4,1232.3 L1798.4,1232.3 L1799.4,1232.4 L1800.4,1232.4 L1801.0,1232.4 L1801.4,1232.4 L1802.4,1232.5 L1803.4,1232.5 L1804.4,1232.6 L1805.4,1232.6 L1806.4,1232.7 L1807.4,1232.8 L1808.4,1232.9 L1809.4,1233.0 L1810.4,1233.1 L1811.4,1233.2 L1812.4,1233.3 L1813.4,1233.4 L1814.4,1233.5 L1815.4,1233.6 L1816.4,1233.7 L1817.4,1233.9 L1818.4,1234.0 L1819.4,1234.1 L1820.4,1234.2 L1821.4,1234.3 L1822.4,1234.4 L1823.4,1234.6 L1824.4,1234.7 L1825.4,1234.8 L1826.4,1234.9 L1827.4,1235.0 L1828.4,1235.1 L1829.4,1235.1 L1830.4,1235.2 L1831.4,1235.3 L1832.4,1235.3 L1833.4,1235.4 L1834.4,1235.4 L1835.4,1235.5 L1836.4,1235.5 L1837.4,1235.5 L1837.6,1235.5 L1838.4,1235.5 L1839.4,1235.5 L1840.4,1235.5 L1841.4,1235.5 L1842.4,1235.5 L1843.4,1235.5 L1844.4,1235.5 L1845.4,1235.5 L1846.4,1235.4 L1847.4,1235.4 L1848.4,1235.4 L1849.4,1235.4 L1850.4,1235.4 L1851.4,1235.4 L1852.4,1235.4 L1853.4,1235.3 L1854.4,1235.3 L1855.4,1235.3 L1856.4,1235.3 L1857.4,1235.3 L1858.4,1235.2 L1859.4,1235.2 L1860.4,1235.2 L1861.4,1235.2 L1862.4,1235.2 L1863.4,1235.1 L1864.4,1235.1 L1865.4,1235.1 L1866.4,1235.1 L1867.4,1235.0 L1868.4,1235.0 L1869.4,1235.0 L1870.4,1235.0 L1871.4,1234.9 L1872.4,1234.9 L1873.4,1234.9 L1873.5,1234.9 L1874.4,1234.9 L1875.4,1234.9 L1876.4,1234.8 L1877.4,1234.8 L1878.4,1234.8 L1879.4,1234.7 L1880.4,1234.7 L1881.4,1234.7 L1882.4,1234.7 L1883.4,1234.6 L1884.4,1234.6 L1885.4,1234.6 L1886.4,1234.5 L1887.4,1234.5 L1888.4,1234.5 L1889.4,1234.4 L1890.4,1234.4 L1891.4,1234.4 L1892.4,1234.3 L1893.4,1234.3 L1894.4,1234.2 L1895.4,1234.2 L1896.4,1234.2 L1897.4,1234.1 L1898.4,1234.1 L1899.4,1234.1 L1900.4,1234.0 L1901.4,1234.0 L1902.4,1233.9 L1903.4,1233.9 L1904.4,1233.9 L1905.4,1233.8 L1906.4,1233.8 L1907.4,1233.8 L1908.4,1233.7 L1909.4,1233.7 L1910.4,1233.7 L1911.4,1233.6 L1912.4,1233.6 L1913.4,1233.6 L1914.4,1233.5 L1915.4,1233.5 L1916.4,1233.4 L1917.4,1233.4 L1918.4,1233.3 L1919.4,1233.3 L1920.4,1233.3 L1921.4,1233.2 L1922.4,1233.2 L1923.4,1233.1 L1924.4,1233.1 L1925.4,1233.0 L1926.4,1233.0 L1927.4,1232.9 L1928.4,1232.9 L1929.4,1232.9 L1930.4,1232.8 L1931.4,1232.8 L1932.4,1232.8 L1933.4,1232.7 L1934.4,1232.7 L1935.4,1232.7 L1936.4,1232.6 L1937.4,1232.6 L1938.4,1232.6 L1939.4,1232.6 L1940.4,1232.5 L1941.4,1232.5 L1942.4,1232.5 L1943.4,1232.5 L1944.4,1232.5 L1945.3,1232.5 L1945.4,1232.5 L1946.4,1232.5 L1947.4,1232.5 L1948.4,1232.5 L1949.4,1232.6 L1950.4,1232.6 L1951.4,1232.6 L1952.4,1232.7 L1953.4,1232.7 L1954.4,1232.8 L1955.4,1232.9 L1956.4,1232.9 L1957.4,1233.0 L1958.4,1233.1 L1959.4,1233.2 L1960.4,1233.3 L1961.4,1233.4 L1962.4,1233.5 L1963.4,1233.6 L1964.4,1233.7 L1965.4,1233.8 L1966.4,1233.9 L1967.4,1234.0 L1968.4,1234.1 L1969.4,1234.2 L1970.0,1234.3" fill="none" stroke="#008000" stroke-width="5" stroke-linejoin="round" stroke-linecap="butt"/>
<path d="M182.0,1168.2 L183.0,1168.2 L184.0,1168.2 L185.0,1168.2 L186.0,1168.3 L187.0,1168.3 L188.0,1168.3 L189.0,1168.3 L190.0,1168.3 L191.0,1168.3 L192.0,1168.3 L193.0,1168.4 L194.0,1168.4 L195.0,1168.4 L196.0,1168.4 L197.0,1168.4 L198.0,1168.4 L199.0,1168.4 L200.0,1168.5 L201.0,1168.5 L202.0,1168.5 L203.0,1168.5 L204.0,1168.5 L205.0,1168.5 L206.0,1168.5 L207.0,1168.5 L208.0,1168.6 L209.0,1168.6 L210.0,1168.6 L211.0,1168.6 L212.0,1168.6 L213.0,1168.6 L214.0,1168.6 L215.0,1168.6 L216.0,1168.6 L217.0,1168.6 L218.0,1168.7 L219.0,1168.7 L220.0,1168.7 L221.0,1168.7 L222.0,1168.7 L223.0,1168.7 L224.0,1168.7 L225.0,1168.7 L226.0,1168.7 L227.0,1168.7 L228.0,1168.7 L229.0,1168.7 L230.0,1168.7 L231.0,1168.7 L232.0,1168.8 L233.0,1168.8 L234.0,1168.8 L235.0,1168.8 L236.0,1168.8 L237.0,1168.8 L238.0,1168.8 L239.0,1168.8 L240.0,1168.8 L241.0,1168.8 L242.0,1168.8 L243.0,1168.8 L244.0,1168.8 L245.0,1168.8 L246.0,1168.8 L247.0,1168.8 L248.0,1168.8 L249.0,1168.8 L250.0,1168.8 L251.0,1168.8 L252.0,1168.8 L253.0,1168.8 L254.0,1168.8 L255.0,1168.8 L256.0,1168.8 L257.0,1168.8 L258.0,1168.8 L259.0,1168.8 L260.0,1168.8 L261.0,1168.8 L262.0,1168.8 L263.0,1168.8 L264.0,1168.8 L265.0,1168.8 L266.0,1168.7 L267.0,1168.7 L268.0,1168.7 L269.0,1168.7 L270.0,1168.7 L271.0,1168.7 L272.0,1168.7 L273.0,1168.7 L274.0,1168.7 L275.0,1168.7 L276.0,1168.7 L277.0,1168.7 L278.0,1168.7 L279.0,1168.7 L280.0,1168.6 L281.0,1168.6 L282.0,1168.6 L283.0,1168.6 L284.0,1168.6 L285.0,1168.6 L286.0,1168.6 L287.0,1168.6 L288.0,1168.6 L289.0,1168.6 L290.0,1168.5 L291.0,1168.5 L292.0,1168.5 L293.0,1168.5 L294.0,1168.5 L295.0,1168.5 L296.0,1168.5 L297.0,1168.5 L298.0,1168.5 L299.0,1168.5 L300.0,1168.5 L301.0,1168.4 L302.0,1168.4 L303.0,1168.4 L304.0,1168.4 L305.0,1168.4 L306.0,1168.4 L307.0,1168.4 L308.0,1168.4 L309.0,1168.4 L310.0,1168.4 L311.0,1168.4 L312.0,1168.4 L313.0,1168.4 L314.0,1168.4 L315.0,1168.3 L316.0,1168.3 L317.0,1168.3 L318.0,1168.3 L319.0,1168.3 L320.0,1168.3 L321.0,1168.3 L322.0,1168.3 L323.0,1168.3 L324.0,1168.3 L325.0,1168.3 L326.0,1168.3 L327.0,1168.3 L328.0,1168.3 L329.0,1168.3 L330.0,1168.3 L331.0,1168.3 L332.0,1168.3 L333.0,1168.3 L334.0,1168.3 L335.0,1168.3 L336.0,1168.3 L337.0,1168.3 L338.0,1168.3 L339.0,1168.3 L340.0,1168.3 L341.0,1168.3 L342.0,1168.3 L343.0,1168.3 L344.0,1168.3 L345.0,1168.3 L346.0,1168.3 L347.0,1168.4 L348.0,1168.4 L349.0,1168.4 L350.0,1168.4 L351.0,1168.4 L352.0,1168.4 L353.0,1168.4 L354.0,1168.4 L355.0,1168.4 L356.0,1168.4 L357.0,1168.4 L358.0,1168.4 L359.0,1168.4 L360.0,1168.4 L361.0,1168.4 L362.0,1168.4 L363.0,1168.4 L364.0,1168.5 L365.0,1168.5 L366.0,1168.5 L367.0,1168.5 L368.0,1168.5 L369.0,1168.5 L370.0,1168.5 L371.0,1168.5 L372.0,1168.5 L373.0,1168.5 L374.0,1168.5 L375.0,1168.5 L376.0,1168.5 L377.0,1168.5 L378.0,1168.5 L379.0,1168.5 L380.0,1168.5 L381.0,1168.5 L382.0,1168.5 L383.0,1168.5 L384.0,1168.5 L385.0,1168.4 L386.0,1168.4 L387.0,1168.4 L388.0,1168.4 L389.0,1168.3 L390.0,1168.3 L391.0,1168.2 L392.0,1168.2 L393.0,1168.1 L394.0,1168.1 L395.0,1168.0 L396.0,1168.0 L397.0,1167.9 L398.0,1167.8 L398.2,1167.8 L399.0,1167.7 L400.0,1167.5 L401.0,1167.1 L402.0,1166.7 L403.0,1166.2 L404.0,1165.5 L405.0,1164.8 L406.0,1164.1 L407.0,1163.2 L408.0,1162.4 L409.0,1161.4 L410.0,1160.5 L410.3,1160.2 L411.0,1159.4 L412.0,1158.1 L413.0,1156.5 L414.0,1154.7 L415.0,1152.7 L416.0,1150.5 L417.0,1148.1 L418.0,1145.6 L419.0,1143.1 L419.4,1142.0 L420.0,1140.3 L421.0,1137.3 L422.0,1133.8 L423.0,1130.1 L424.0,1126.0 L425.0,1121.6 L425.5,1119.3 L426.0,1116.9 L427.0,1111.6 L428.0,1105.6 L429.0,1098.7 L429.3,1096.5 L430.0,1090.7 L431.0,1080.9 L432.0,1069.7 L432.3,1066.2 L433.0,1057.0 L434.0,1042.0 L435.0,1026.6 L435.4,1020.7 L436.0,1012.2 L437.0,998.2 L437.6,990.0 L438.0,984.9 L439.0,973.0 L439.9,960.0 L440.0,958.2 L441.0,933.5 L441.5,922.0 L442.0,913.2 L443.0,898.1 L443.5,890.0 L444.0,880.5 L445.0,860.4 L445.3,855.0 L446.0,843.7 L447.0,829.1 L447.3,825.0 L448.0,815.8 L449.0,803.5 L450.0,791.8 L451.0,780.2 L451.1,779.0 L452.0,768.5 L453.0,757.0 L454.0,745.8 L455.0,735.0 L456.0,724.4 L457.0,714.1 L458.0,704.4 L458.5,700.0 L459.0,696.2 L460.0,688.6 L461.0,681.0 L462.0,690.5 L463.0,700.0 L464.0,714.4 L465.0,731.6 L465.5,740.0 L466.0,748.3 L467.0,765.6 L468.0,782.3 L468.5,790.0 L469.0,797.3 L470.0,811.1 L471.0,824.0 L471.5,830.0 L472.0,835.8 L473.0,846.7 L474.0,857.0 L474.5,862.0 L475.0,866.9 L476.0,876.1 L477.0,885.2 L478.0,895.0 L479.0,905.8 L480.0,917.2 L481.0,929.1 L481.5,935.0 L482.0,941.5 L483.0,955.8 L484.0,968.1 L484.5,972.0 L485.0,974.8 L486.0,980.0 L487.0,984.2 L488.0,987.0 L489.0,988.0 L490.0,987.2 L491.0,985.0 L492.0,981.7 L493.0,977.4 L493.5,975.0 L494.0,971.4 L495.0,958.9 L496.0,943.0 L496.5,935.0 L497.0,927.0 L498.0,909.4 L499.0,890.3 L500.0,870.0 L501.0,848.1 L502.0,824.5 L503.0,800.2 L504.0,776.0 L505.0,752.7 L506.0,729.7 L507.0,705.8 L508.0,680.0 L509.0,651.2 L510.0,620.0 L511.0,588.0 L512.0,554.1 L513.0,518.2 L514.0,483.4 L515.0,452.4 L515.2,447.0 L516.0,427.7 L516.7,412.5 L517.0,406.2 L518.0,386.0 L518.2,382.0 L519.0,365.1 L519.7,351.8 L520.0,347.3 L521.0,334.9 L522.0,321.4 L523.0,301.0 L523.5,291.0 L524.0,282.7 L525.0,267.7 L525.5,260.0 L526.0,251.8 L527.0,235.4 L528.0,219.0 L529.0,232.7 L530.0,246.3 L531.0,260.0 L532.0,283.2 L532.3,291.0 L533.0,310.4 L533.4,321.4 L534.0,336.6 L534.6,351.8 L535.0,362.0 L535.7,382.0 L536.0,395.1 L536.4,412.5 L537.0,428.1 L537.9,447.0 L538.0,449.3 L539.0,472.4 L540.0,495.5 L541.0,518.7 L542.0,541.8 L543.0,564.9 L544.0,588.0 L545.0,611.6 L546.0,635.4 L547.0,658.6 L548.0,680.0 L549.0,699.2 L550.0,716.8 L551.0,733.7 L552.0,750.7 L553.0,768.5 L553.4,776.0 L554.0,787.8 L555.0,808.4 L556.0,829.5 L557.0,850.0 L558.0,870.4 L559.0,890.6 L560.0,909.3 L560.4,916.0 L561.0,925.6 L562.0,941.5 L563.0,956.9 L564.0,971.3 L565.0,984.6 L566.0,996.2 L567.0,1006.0 L567.5,1010.0 L568.0,1013.7 L569.0,1020.7 L570.0,1027.4 L571.0,1033.6 L572.0,1039.3 L573.0,1044.6 L574.0,1049.5 L575.0,1053.9 L576.0,1057.9 L577.0,1061.4 L578.0,1064.4 L579.0,1067.0 L580.0,1069.3 L581.0,1071.6 L582.0,1073.8 L583.0,1075.9 L584.0,1077.8 L585.0,1079.5 L586.0,1081.0 L587.0,1082.1 L588.0,1083.0 L589.0,1083.4 L589.6,1083.5 L590.0,1083.5 L591.0,1083.0 L592.0,1082.2 L593.0,1080.9 L594.0,1079.3 L595.0,1077.3 L596.0,1075.0 L597.0,1072.5 L598.0,1069.8 L599.0,1066.8 L600.0,1063.8 L601.0,1060.6 L602.0,1057.3 L602.1,1057.0 L603.0,1053.4 L604.0,1048.1 L605.0,1041.9 L606.0,1035.1 L607.0,1028.3 L608.0,1021.9 L608.7,1017.8 L609.0,1016.2 L610.0,1010.6 L611.0,1005.1 L612.0,999.6 L613.0,994.3 L614.0,989.3 L615.0,984.7 L616.0,980.5 L616.5,978.6 L617.0,976.8 L618.0,973.4 L619.0,970.2 L620.0,967.3 L621.0,964.6 L622.0,962.1 L623.0,960.0 L624.0,958.5 L625.0,956.9 L626.0,955.4 L627.0,953.9 L628.0,952.4 L628.9,951.0 L629.9,954.5 L630.9,958.1 L631.9,961.6 L632.0,962.0 L632.9,966.1 L633.9,971.2 L634.9,976.5 L635.3,978.6 L635.9,981.7 L636.9,987.0 L637.9,992.3 L638.9,997.7 L639.9,1003.2 L640.9,1008.7 L641.9,1014.4 L642.5,1017.8 L642.9,1020.1 L643.9,1026.3 L644.9,1032.7 L645.9,1039.2 L646.9,1045.4 L647.9,1051.3 L648.9,1056.5 L649.0,1057.0 L649.9,1061.4 L650.9,1066.1 L651.9,1070.4 L652.9,1073.7 L653.5,1075.0 L653.9,1075.7 L654.9,1077.3 L655.9,1078.8 L656.9,1079.9 L657.9,1080.7 L658.9,1081.0 L659.0,1081.0 L659.9,1080.6 L660.9,1079.1 L661.9,1076.7 L662.9,1073.4 L663.9,1069.4 L664.9,1064.6 L665.9,1059.1 L666.9,1053.1 L667.9,1046.6 L668.9,1039.7 L669.9,1032.4 L670.9,1024.9 L671.9,1017.1 L672.9,1009.3 L673.9,1001.4 L674.9,993.6 L675.1,992.0 L675.9,984.8 L676.9,974.0 L677.9,962.2 L678.9,951.0 L679.3,947.0 L679.9,941.4 L680.9,932.5 L681.9,924.0 L682.9,915.6 L683.9,907.1 L684.6,901.0 L684.9,898.2 L685.9,888.1 L686.9,877.5 L687.9,867.5 L688.9,859.5 L689.5,856.0 L689.9,854.8 L690.9,851.7 L691.9,848.6 L692.9,845.5 L693.9,842.4 L694.9,839.4 L695.5,837.5 L696.5,842.1 L697.5,846.8 L698.5,851.4 L699.5,856.0 L700.5,864.8 L701.5,876.5 L702.5,889.1 L703.5,900.1 L703.6,901.0 L704.5,908.5 L705.5,915.8 L706.5,923.2 L707.3,930.0 L707.5,931.9 L708.5,942.6 L709.5,954.6 L710.5,966.8 L711.4,977.0 L711.5,978.1 L712.5,988.7 L713.5,999.2 L714.5,1009.3 L715.5,1018.7 L716.1,1024.0 L716.5,1027.4 L717.5,1035.5 L718.5,1043.2 L719.5,1050.3 L720.5,1057.1 L720.8,1059.0 L721.5,1063.4 L722.5,1069.7 L723.5,1075.7 L724.5,1081.4 L725.5,1086.6 L726.5,1091.2 L727.2,1094.0 L727.5,1095.1 L728.5,1098.7 L729.5,1102.0 L730.5,1105.0 L731.5,1107.8 L732.5,1110.1 L733.5,1112.2 L734.0,1113.0 L734.5,1113.8 L735.5,1115.4 L736.5,1116.9 L737.5,1118.3 L738.5,1119.5 L739.5,1120.4 L740.5,1121.0 L741.5,1121.2 L742.5,1121.1 L743.5,1120.7 L744.5,1120.1 L745.5,1119.3 L746.5,1118.3 L747.5,1117.1 L748.5,1115.8 L749.5,1114.3 L750.5,1112.7 L751.5,1111.1 L752.5,1109.4 L753.5,1107.6 L754.5,1105.8 L755.5,1104.0 L756.5,1102.2 L757.5,1100.4 L758.2,1099.2 L758.5,1098.7 L759.5,1096.8 L760.5,1094.7 L761.5,1092.4 L762.5,1090.0 L763.5,1087.5 L764.5,1084.8 L765.5,1082.1 L766.5,1079.4 L767.5,1076.6 L768.5,1073.9 L769.5,1071.1 L770.5,1068.5 L771.5,1065.9 L772.5,1063.5 L773.5,1061.2 L774.5,1059.1 L774.9,1058.3 L775.5,1057.1 L776.5,1055.1 L777.5,1053.1 L778.5,1051.1 L779.5,1049.1 L780.5,1047.2 L781.5,1045.4 L782.5,1043.7 L783.5,1042.2 L784.5,1040.8 L785.5,1039.7 L786.5,1038.8 L787.0,1038.5 L787.5,1038.3 L788.5,1037.9 L789.5,1037.6 L790.5,1037.2 L791.5,1036.8 L792.5,1036.4 L793.5,1036.1 L794.5,1035.7 L795.5,1035.3 L796.5,1034.9 L796.9,1034.8 L797.9,1035.8 L798.9,1036.8 L799.9,1037.8 L800.9,1038.8 L801.9,1039.8 L802.9,1040.8 L803.9,1041.8 L804.9,1042.8 L805.9,1043.8 L806.7,1044.6 L806.9,1044.9 L807.9,1046.5 L808.9,1048.3 L809.9,1050.4 L810.9,1052.7 L811.9,1055.1 L812.9,1057.6 L813.9,1060.2 L814.9,1062.9 L815.9,1065.6 L816.9,1068.3 L817.9,1070.9 L818.9,1073.4 L819.9,1076.0 L820.9,1078.6 L821.9,1081.4 L822.9,1084.3 L823.9,1087.1 L824.9,1089.9 L825.9,1092.5 L826.9,1095.1 L827.9,1097.4 L828.9,1099.6 L829.5,1100.7 L829.9,1101.4 L830.9,1103.2 L831.9,1105.0 L832.9,1106.8 L833.9,1108.4 L834.9,1110.0 L835.9,1111.5 L836.9,1112.9 L837.9,1114.2 L838.9,1115.3 L839.9,1116.2 L840.9,1117.0 L841.6,1117.4 L841.9,1117.5 L842.9,1118.0 L843.9,1118.5 L844.9,1118.9 L845.9,1119.2 L846.9,1119.6 L847.9,1119.9 L848.9,1120.2 L849.9,1120.4 L850.9,1120.7 L851.9,1120.9 L852.9,1121.1 L853.9,1121.3 L854.9,1121.5 L855.9,1121.7 L856.8,1121.9 L856.9,1121.9 L857.9,1122.1 L858.9,1122.3 L859.9,1122.5 L860.9,1122.7 L861.9,1122.8 L862.9,1123.0 L863.9,1123.2 L864.9,1123.4 L865.9,1123.5 L866.9,1123.7 L867.9,1123.9 L868.9,1124.0 L869.9,1124.2 L870.9,1124.4 L871.9,1124.5 L872.9,1124.6 L873.9,1124.8 L874.9,1124.9 L875.9,1125.0 L876.9,1125.1 L877.9,1125.2 L878.9,1125.3 L879.9,1125.4 L880.9,1125.5 L881.9,1125.5 L882.9,1125.6 L883.9,1125.6 L884.9,1125.7 L885.9,1125.7 L886.9,1125.7 L887.0,1125.7 L887.9,1125.7 L888.9,1125.6 L889.9,1125.4 L890.9,1125.2 L891.9,1124.9 L892.9,1124.5 L893.9,1124.2 L894.9,1123.7 L895.9,1123.2 L896.9,1122.7 L897.9,1122.2 L898.9,1121.6 L899.9,1121.0 L900.9,1120.4 L901.9,1119.7 L902.9,1119.1 L903.9,1118.4 L904.9,1117.8 L905.9,1117.1 L906.9,1116.4 L907.9,1115.8 L908.9,1115.2 L909.8,1114.6 L909.9,1114.5 L910.9,1113.9 L911.9,1113.2 L912.9,1112.4 L913.9,1111.6 L914.9,1110.8 L915.9,1109.9 L916.9,1109.0 L917.9,1108.1 L918.9,1107.2 L919.9,1106.2 L920.9,1105.3 L921.9,1104.4 L922.9,1103.4 L923.9,1102.5 L924.9,1101.6 L925.9,1100.8 L926.9,1100.0 L927.9,1099.2 L928.9,1098.5 L929.9,1097.8 L930.9,1097.2 L931.8,1096.7 L931.9,1096.6 L932.9,1096.1 L933.9,1095.6 L934.9,1095.1 L935.9,1094.5 L936.9,1094.0 L937.9,1093.5 L938.9,1093.0 L939.9,1092.5 L940.9,1092.0 L941.9,1091.6 L942.9,1091.1 L943.9,1090.8 L944.9,1090.4 L945.9,1090.1 L946.9,1089.8 L947.9,1089.6 L948.9,1089.4 L949.9,1089.3 L950.9,1089.2 L951.5,1089.2 L951.9,1089.2 L952.9,1089.3 L953.9,1089.5 L954.9,1089.8 L955.9,1090.2 L956.9,1090.6 L957.9,1091.1 L958.9,1091.7 L959.9,1092.3 L960.9,1092.9 L961.9,1093.5 L962.9,1094.1 L963.9,1094.7 L964.4,1095.0 L964.9,1095.3 L965.9,1096.0 L966.9,1096.7 L967.9,1097.5 L968.9,1098.3 L969.9,1099.1 L970.9,1100.0 L971.9,1100.9 L972.9,1101.8 L973.9,1102.7 L974.9,1103.5 L975.9,1104.3 L976.9,1105.0 L977.3,1105.3 L977.9,1105.7 L978.9,1106.4 L979.9,1107.1 L980.9,1107.8 L981.9,1108.4 L982.9,1109.1 L983.9,1109.7 L984.9,1110.3 L985.9,1110.9 L986.9,1111.4 L987.9,1112.0 L988.9,1112.4 L989.9,1112.9 L990.2,1113.0 L990.9,1113.3 L991.9,1113.7 L992.9,1114.0 L993.9,1114.4 L994.9,1114.7 L995.9,1115.1 L996.9,1115.4 L997.9,1115.7 L998.9,1115.9 L999.9,1116.2 L1000.9,1116.4 L1001.9,1116.7 L1002.9,1116.9 L1003.0,1116.9 L1003.9,1117.1 L1004.9,1117.2 L1005.9,1117.4 L1006.9,1117.5 L1007.9,1117.6 L1008.9,1117.8 L1009.9,1117.9 L1010.9,1118.0 L1011.9,1118.1 L1012.9,1118.3 L1013.9,1118.4 L1014.9,1118.6 L1015.9,1118.8 L1016.9,1119.0 L1017.9,1119.3 L1018.9,1119.6 L1019.9,1120.0 L1020.9,1120.3 L1021.9,1120.7 L1022.9,1121.1 L1023.9,1121.5 L1024.9,1121.9 L1025.9,1122.3 L1026.9,1122.7 L1027.9,1123.0 L1028.8,1123.3 L1028.9,1123.3 L1029.9,1123.6 L1030.9,1123.9 L1031.9,1124.2 L1032.9,1124.5 L1033.9,1124.8 L1034.9,1125.0 L1035.9,1125.3 L1036.9,1125.5 L1037.9,1125.8 L1038.9,1126.0 L1039.9,1126.2 L1040.9,1126.4 L1041.7,1126.6 L1041.9,1126.6 L1042.9,1126.8 L1043.9,1127.0 L1044.9,1127.2 L1045.9,1127.4 L1046.9,1127.5 L1047.9,1127.7 L1048.9,1127.9 L1049.9,1128.0 L1050.9,1128.2 L1051.9,1128.3 L1052.9,1128.5 L1053.9,1128.6 L1054.9,1128.7 L1055.9,1128.9 L1056.9,1129.0 L1057.9,1129.1 L1058.9,1129.2 L1059.9,1129.3 L1060.0,1129.3 L1060.9,1129.4 L1061.9,1129.5 L1062.9,1129.6 L1063.9,1129.6 L1064.9,1129.7 L1065.9,1129.8 L1066.9,1129.8 L1067.9,1129.9 L1068.9,1130.0 L1069.9,1130.0 L1070.9,1130.1 L1071.9,1130.1 L1072.9,1130.2 L1073.9,1130.2 L1074.9,1130.3 L1075.9,1130.3 L1076.9,1130.4 L1077.9,1130.4 L1078.9,1130.5 L1079.9,1130.6 L1080.9,1130.6 L1081.9,1130.7 L1082.9,1130.7 L1083.9,1130.8 L1084.9,1130.9 L1085.9,1130.9 L1086.9,1131.0 L1087.9,1131.1 L1088.9,1131.2 L1089.9,1131.3 L1090.9,1131.4 L1091.9,1131.5 L1092.0,1131.5 L1092.9,1131.6 L1093.9,1131.8 L1094.9,1131.9 L1095.9,1132.1 L1096.9,1132.3 L1097.9,1132.5 L1098.9,1132.7 L1099.9,1133.0 L1100.9,1133.3 L1101.9,1133.5 L1102.9,1133.8 L1103.9,1134.1 L1104.9,1134.4 L1105.9,1134.7 L1106.9,1135.1 L1107.9,1135.4 L1108.9,1135.7 L1109.9,1136.1 L1110.9,1136.4 L1111.9,1136.8 L1112.9,1137.1 L1113.9,1137.5 L1114.9,1137.8 L1115.9,1138.2 L1116.9,1138.5 L1117.9,1138.8 L1118.9,1139.2 L1119.9,1139.5 L1120.9,1139.8 L1121.9,1140.2 L1122.9,1140.5 L1123.9,1140.8 L1124.4,1140.9 L1124.9,1141.0 L1125.9,1141.3 L1126.9,1141.6 L1127.9,1141.9 L1128.9,1142.2 L1129.9,1142.5 L1130.9,1142.8 L1131.9,1143.0 L1132.9,1143.3 L1133.9,1143.6 L1134.9,1143.9 L1135.9,1144.2 L1136.9,1144.5 L1137.9,1144.8 L1138.9,1145.1 L1139.9,1145.3 L1140.9,1145.6 L1141.9,1145.9 L1142.9,1146.2 L1143.9,1146.5 L1144.9,1146.8 L1145.9,1147.0 L1146.9,1147.3 L1147.9,1147.6 L1148.9,1147.9 L1149.9,1148.1 L1150.9,1148.4 L1151.9,1148.7 L1152.9,1148.9 L1153.9,1149.2 L1154.9,1149.5 L1155.9,1149.7 L1156.6,1149.9 L1156.9,1150.0 L1157.9,1150.2 L1158.9,1150.5 L1159.9,1150.8 L1160.9,1151.0 L1161.9,1151.3 L1162.9,1151.6 L1163.9,1151.9 L1164.9,1152.1 L1165.9,1152.4 L1166.9,1152.7 L1167.9,1152.9 L1168.9,1153.2 L1169.9,1153.5 L1170.9,1153.7 L1171.9,1153.9 L1172.9,1154.2 L1173.9,1154.4 L1174.9,1154.6 L1175.9,1154.8 L1176.9,1155.0 L1177.9,1155.2 L1178.9,1155.3 L1179.9,1155.5 L1180.0,1155.5 L1180.9,1155.6 L1181.9,1155.7 L1182.9,1155.9 L1183.9,1156.0 L1184.9,1156.1 L1185.9,1156.2 L1186.9,1156.3 L1187.9,1156.4 L1188.9,1156.5 L1189.9,1156.5 L1190.9,1156.6 L1191.9,1156.7 L1192.9,1156.8 L1193.9,1156.9 L1194.9,1156.9 L1195.9,1157.0 L1196.9,1157.1 L1197.9,1157.1 L1198.9,1157.2 L1199.9,1157.3 L1200.9,1157.4 L1201.9,1157.4 L1202.9,1157.5 L1203.9,1157.6 L1204.9,1157.7 L1205.9,1157.8 L1206.9,1157.9 L1207.9,1158.0 L1208.9,1158.1 L1209.9,1158.2 L1210.9,1158.4 L1211.9,1158.5 L1212.0,1158.5 L1212.9,1158.6 L1213.9,1158.8 L1214.9,1159.0 L1215.9,1159.2 L1216.9,1159.4 L1217.9,1159.7 L1218.9,1159.9 L1219.9,1160.2 L1220.9,1160.5 L1221.9,1160.7 L1222.9,1161.0 L1223.9,1161.3 L1224.9,1161.7 L1225.9,1162.0 L1226.9,1162.3 L1227.9,1162.6 L1228.9,1162.9 L1229.9,1163.2 L1230.9,1163.5 L1231.9,1163.8 L1232.9,1164.1 L1233.9,1164.4 L1234.9,1164.7 L1235.9,1164.9 L1236.9,1165.2 L1237.9,1165.4 L1238.9,1165.6 L1239.9,1165.8 L1240.9,1166.0 L1241.9,1166.1 L1242.9,1166.3 L1243.9,1166.4 L1244.0,1166.4 L1244.9,1166.5 L1245.9,1166.6 L1246.9,1166.7 L1247.9,1166.8 L1248.9,1166.8 L1249.9,1166.9 L1250.9,1167.0 L1251.9,1167.1 L1252.9,1167.2 L1253.9,1167.3 L1254.9,1167.3 L1255.9,1167.4 L1256.9,1167.5 L1257.9,1167.6 L1258.9,1167.6 L1259.9,1167.7 L1260.9,1167.8 L1261.9,1167.8 L1262.9,1167.9 L1263.9,1167.9 L1264.9,1168.0 L1265.9,1168.0 L1266.9,1168.1 L1267.9,1168.1 L1268.9,1168.2 L1269.9,1168.2 L1270.9,1168.2 L1271.9,1168.2 L1272.9,1168.3 L1273.9,1168.3 L1274.9,1168.3 L1275.9,1168.3 L1276.9,1168.3 L1277.0,1168.3 L1277.9,1168.3 L1278.9,1168.3 L1279.9,1168.3 L1280.9,1168.2 L1281.9,1168.2 L1282.9,1168.1 L1283.9,1168.1 L1284.9,1168.0 L1285.9,1167.9 L1286.9,1167.9 L1287.9,1167.8 L1288.9,1167.7 L1289.9,1167.6 L1290.9,1167.5 L1291.9,1167.4 L1292.9,1167.3 L1293.9,1167.2 L1294.9,1167.1 L1295.9,1167.0 L1296.9,1166.9 L1297.9,1166.8 L1298.9,1166.7 L1299.9,1166.5 L1300.9,1166.4 L1301.9,1166.3 L1302.9,1166.2 L1303.9,1166.1 L1304.9,1166.0 L1305.9,1165.9 L1306.9,1165.8 L1307.9,1165.7 L1308.9,1165.7 L1309.9,1165.6 L1310.9,1165.5 L1311.9,1165.4 L1312.9,1165.4 L1313.9,1165.3 L1314.9,1165.3 L1315.9,1165.2 L1316.9,1165.2 L1317.9,1165.2 L1318.9,1165.2 L1319.0,1165.2 L1319.9,1165.2 L1320.9,1165.3 L1321.9,1165.4 L1322.9,1165.5 L1323.9,1165.7 L1324.9,1166.0 L1325.9,1166.2 L1326.9,1166.5 L1327.9,1166.8 L1328.9,1167.1 L1329.9,1167.4 L1330.9,1167.7 L1331.9,1168.0 L1332.9,1168.4 L1333.9,1168.7 L1334.9,1169.0 L1335.9,1169.3 L1336.9,1169.6 L1337.9,1169.9 L1338.9,1170.1 L1339.9,1170.3 L1340.9,1170.5 L1341.9,1170.6 L1342.5,1170.7 L1342.9,1170.7 L1343.9,1170.8 L1344.9,1170.9 L1345.9,1171.0 L1346.9,1171.1 L1347.9,1171.2 L1348.9,1171.3 L1349.9,1171.4 L1350.9,1171.4 L1351.9,1171.5 L1352.9,1171.6 L1353.9,1171.7 L1354.9,1171.7 L1355.9,1171.8 L1356.9,1171.9 L1357.9,1171.9 L1358.9,1172.0 L1359.9,1172.1 L1360.9,1172.1 L1361.9,1172.2 L1362.9,1172.2 L1363.9,1172.3 L1364.9,1172.3 L1365.9,1172.4 L1366.9,1172.4 L1367.9,1172.5 L1368.9,1172.5 L1369.9,1172.5 L1370.9,1172.6 L1371.9,1172.6 L1372.9,1172.7 L1373.9,1172.7 L1374.9,1172.7 L1375.9,1172.8 L1376.9,1172.8 L1377.0,1172.8 L1377.9,1172.8 L1378.9,1172.9 L1379.9,1172.9 L1380.9,1172.9 L1381.9,1172.9 L1382.9,1172.9 L1383.9,1173.0 L1384.9,1173.0 L1385.9,1173.0 L1386.9,1173.0 L1387.9,1173.0 L1388.9,1173.0 L1389.9,1173.1 L1390.9,1173.1 L1391.9,1173.1 L1392.9,1173.1 L1393.9,1173.1 L1394.9,1173.1 L1395.9,1173.1 L1396.9,1173.2 L1397.9,1173.2 L1398.9,1173.2 L1399.9,1173.2 L1400.9,1173.2 L1401.9,1173.2 L1402.9,1173.3 L1403.9,1173.3 L1404.9,1173.3 L1405.9,1173.3 L1406.9,1173.4 L1407.9,1173.4 L1408.9,1173.4 L1409.9,1173.4 L1410.9,1173.5 L1411.5,1173.5 L1411.9,1173.5 L1412.9,1173.6 L1413.9,1173.7 L1414.9,1173.8 L1415.9,1173.9 L1416.9,1174.0 L1417.9,1174.2 L1418.9,1174.4 L1419.9,1174.6 L1420.9,1174.8 L1421.9,1175.1 L1422.9,1175.3 L1423.9,1175.6 L1424.9,1175.8 L1425.9,1176.1 L1426.9,1176.4 L1427.9,1176.7 L1428.9,1176.9 L1429.9,1177.2 L1430.9,1177.5 L1431.9,1177.8 L1432.9,1178.1 L1433.9,1178.4 L1434.9,1178.7 L1435.9,1178.9 L1436.9,1179.2 L1437.9,1179.5 L1438.9,1179.7 L1439.9,1180.0 L1440.9,1180.2 L1441.9,1180.4 L1442.9,1180.6 L1443.9,1180.8 L1444.9,1180.9 L1445.9,1181.1 L1446.0,1181.1 L1446.9,1181.2 L1447.9,1181.3 L1448.9,1181.4 L1449.9,1181.5 L1450.9,1181.6 L1451.9,1181.7 L1452.9,1181.8 L1453.9,1181.9 L1454.9,1182.0 L1455.9,1182.1 L1456.9,1182.2 L1457.9,1182.3 L1458.9,1182.4 L1459.9,1182.5 L1460.0,1182.5 L1460.9,1182.6 L1461.9,1182.8 L1462.9,1182.9 L1463.9,1183.1 L1464.9,1183.3 L1465.9,1183.5 L1466.9,1183.7 L1467.9,1183.9 L1468.9,1184.1 L1469.9,1184.3 L1470.9,1184.5 L1471.9,1184.7 L1472.9,1185.0 L1473.9,1185.2 L1474.9,1185.4 L1475.9,1185.7 L1476.9,1185.9 L1477.9,1186.1 L1478.9,1186.3 L1479.9,1186.6 L1480.9,1186.8 L1481.9,1187.0 L1482.9,1187.2 L1483.9,1187.4 L1484.9,1187.6 L1485.9,1187.7 L1486.9,1187.9 L1487.6,1188.0 L1487.9,1188.0 L1488.9,1188.2 L1489.9,1188.3 L1490.9,1188.5 L1491.9,1188.6 L1492.9,1188.8 L1493.9,1188.9 L1494.9,1189.1 L1495.9,1189.2 L1496.9,1189.3 L1497.9,1189.5 L1498.9,1189.6 L1499.9,1189.7 L1500.9,1189.9 L1501.9,1190.0 L1502.9,1190.1 L1503.9,1190.3 L1504.9,1190.4 L1505.9,1190.5 L1506.9,1190.6 L1507.9,1190.8 L1508.9,1190.9 L1509.9,1191.0 L1510.9,1191.1 L1511.9,1191.2 L1512.9,1191.3 L1513.9,1191.4 L1514.9,1191.5 L1515.9,1191.7 L1516.9,1191.8 L1517.9,1191.9 L1518.9,1192.0 L1519.9,1192.0 L1520.9,1192.1 L1521.9,1192.2 L1522.9,1192.3 L1523.9,1192.4 L1524.9,1192.5 L1525.9,1192.6 L1526.9,1192.6 L1527.9,1192.7 L1528.9,1192.8 L1529.0,1192.8 L1529.9,1192.9 L1530.9,1192.9 L1531.9,1193.0 L1532.9,1193.1 L1533.9,1193.2 L1534.9,1193.2 L1535.9,1193.3 L1536.9,1193.4 L1537.9,1193.4 L1538.9,1193.5 L1539.9,1193.6 L1540.9,1193.6 L1541.9,1193.7 L1542.9,1193.8 L1543.9,1193.9 L1544.9,1193.9 L1545.9,1194.0 L1546.9,1194.0 L1547.9,1194.1 L1548.9,1194.2 L1549.9,1194.2 L1550.9,1194.3 L1551.9,1194.3 L1552.9,1194.4 L1553.9,1194.4 L1554.9,1194.5 L1555.9,1194.5 L1556.9,1194.6 L1557.9,1194.6 L1558.9,1194.7 L1559.9,1194.7 L1560.9,1194.7 L1561.9,1194.8 L1562.9,1194.8 L1563.9,1194.8 L1564.9,1194.8 L1565.9,1194.9 L1566.9,1194.9 L1567.9,1194.9 L1568.9,1194.9 L1569.9,1194.9 L1570.4,1194.9 L1570.9,1194.9 L1571.9,1194.9 L1572.9,1194.9 L1573.9,1194.9 L1574.9,1194.9 L1575.9,1194.9 L1576.9,1194.9 L1577.9,1194.9 L1578.9,1194.9 L1579.9,1194.9 L1580.9,1194.9 L1581.9,1194.9 L1582.9,1194.9 L1583.9,1194.9 L1584.9,1194.9 L1585.9,1194.9 L1586.9,1194.9 L1587.9,1194.9 L1588.9,1194.9 L1589.9,1194.9 L1590.9,1194.9 L1591.1,1194.9 L1591.9,1194.9 L1592.9,1195.0 L1593.9,1195.1 L1594.9,1195.3 L1595.9,1195.6 L1596.9,1195.9 L1597.9,1196.2 L1598.9,1196.6 L1599.9,1197.0 L1600.9,1197.4 L1601.9,1197.9 L1602.9,1198.4 L1603.9,1198.9 L1604.9,1199.4 L1605.9,1199.9 L1606.9,1200.5 L1607.9,1201.0 L1608.9,1201.6 L1609.9,1202.2 L1610.9,1202.7 L1611.9,1203.2 L1612.9,1203.8 L1613.9,1204.3 L1614.9,1204.8 L1615.9,1205.2 L1616.9,1205.7 L1617.9,1206.1 L1618.9,1206.4 L1619.9,1206.8 L1620.0,1206.8 L1620.9,1207.0 L1621.9,1207.3 L1622.9,1207.5 L1623.9,1207.8 L1624.9,1208.0 L1625.9,1208.3 L1626.9,1208.5 L1627.9,1208.8 L1628.9,1209.0 L1629.9,1209.3 L1630.9,1209.5 L1631.9,1209.8 L1632.9,1210.0 L1633.9,1210.3 L1634.9,1210.5 L1635.9,1210.8 L1636.9,1211.0 L1637.9,1211.3 L1638.9,1211.5 L1639.3,1211.6 L1658.6,1216.5 L1659.6,1216.7 L1660.6,1217.0 L1661.6,1217.2 L1662.6,1217.5 L1663.6,1217.7 L1664.6,1218.0 L1665.6,1218.2 L1666.6,1218.5 L1667.6,1218.7 L1668.6,1219.0 L1669.6,1219.2 L1670.6,1219.5 L1671.6,1219.7 L1672.6,1220.0 L1673.6,1220.2 L1674.6,1220.5 L1675.6,1220.7 L1676.6,1221.0 L1677.6,1221.2 L1677.9,1221.3 L1678.6,1221.5 L1679.6,1221.7 L1680.6,1222.0 L1681.6,1222.2 L1682.6,1222.4 L1683.6,1222.7 L1684.6,1222.9 L1685.6,1223.2 L1686.6,1223.4 L1687.6,1223.7 L1688.6,1223.9 L1689.6,1224.1 L1690.6,1224.4 L1691.6,1224.6 L1692.6,1224.9 L1693.6,1225.1 L1694.6,1225.4 L1695.6,1225.7 L1696.6,1225.9 L1697.2,1226.1 L1697.6,1226.2 L1698.6,1226.5 L1699.6,1226.8 L1700.6,1227.1 L1701.6,1227.4 L1702.6,1227.7 L1703.6,1228.0 L1704.6,1228.3 L1705.6,1228.6 L1706.6,1228.9 L1707.6,1229.2 L1708.6,1229.5 L1709.6,1229.9 L1710.6,1230.2 L1711.6,1230.5 L1712.6,1230.8 L1713.6,1231.1 L1714.6,1231.4 L1715.6,1231.7 L1716.5,1231.9 L1716.6,1231.9 L1717.6,1232.2 L1718.6,1232.5 L1719.6,1232.7 L1720.6,1233.0 L1721.6,1233.3 L1722.6,1233.5 L1723.6,1233.8 L1724.6,1234.0 L1725.6,1234.3 L1726.6,1234.5 L1727.6,1234.8 L1728.6,1235.0 L1729.6,1235.3 L1730.6,1235.5 L1731.6,1235.7 L1732.6,1236.0 L1733.6,1236.2 L1734.6,1236.4 L1735.6,1236.7 L1735.8,1236.7 L1736.6,1236.9 L1737.6,1237.1 L1738.6,1237.3 L1739.6,1237.5 L1740.6,1237.8 L1741.6,1238.0 L1742.6,1238.2 L1743.6,1238.4 L1744.6,1238.6 L1745.6,1238.8 L1746.6,1239.0 L1747.6,1239.2 L1748.6,1239.4 L1749.6,1239.6 L1750.6,1239.8 L1751.6,1240.0 L1752.6,1240.2 L1753.6,1240.4 L1754.6,1240.5 L1755.0,1240.6 L1755.6,1240.7 L1756.6,1240.9 L1757.6,1241.0 L1758.6,1241.2 L1759.6,1241.4 L1760.6,1241.6 L1761.6,1241.7 L1762.6,1241.9 L1763.6,1242.1 L1764.6,1242.2 L1765.6,1242.4 L1766.6,1242.5 L1767.6,1242.7 L1768.6,1242.8 L1769.6,1242.9 L1770.6,1243.1 L1771.6,1243.2 L1772.6,1243.3 L1773.6,1243.4 L1774.3,1243.5 L1774.6,1243.5 L1775.6,1243.6 L1776.6,1243.7 L1777.6,1243.8 L1778.6,1243.9 L1779.6,1244.0 L1780.6,1244.1 L1781.6,1244.2 L1782.6,1244.3 L1783.6,1244.4 L1784.6,1244.5 L1785.6,1244.6 L1786.6,1244.7 L1787.6,1244.8 L1788.6,1244.9 L1789.6,1245.0 L1790.6,1245.0 L1791.6,1245.1 L1792.6,1245.2 L1793.6,1245.2 L1794.6,1245.3 L1795.6,1245.3 L1796.6,1245.3 L1797.6,1245.4 L1798.6,1245.4 L1799.6,1245.4 L1800.0,1245.4 L1800.6,1245.4 L1801.6,1245.4 L1802.6,1245.4 L1803.6,1245.4 L1804.6,1245.4 L1805.6,1245.4 L1806.6,1245.4 L1807.6,1245.4 L1808.6,1245.4 L1809.6,1245.4 L1810.6,1245.4 L1811.6,1245.4 L1812.6,1245.4 L1813.6,1245.3 L1814.6,1245.3 L1815.6,1245.3 L1816.6,1245.3 L1817.6,1245.3 L1818.6,1245.3 L1819.6,1245.3 L1820.6,1245.3 L1821.6,1245.3 L1822.6,1245.3 L1823.6,1245.3 L1824.6,1245.2 L1825.6,1245.2 L1826.6,1245.2 L1827.6,1245.2 L1828.6,1245.2 L1829.6,1245.2 L1830.6,1245.2 L1831.6,1245.2 L1832.6,1245.2 L1833.6,1245.1 L1834.6,1245.1 L1835.6,1245.1 L1836.6,1245.1 L1837.6,1245.1 L1838.6,1245.1 L1839.6,1245.1 L1840.6,1245.1 L1841.6,1245.1 L1842.6,1245.0 L1843.6,1245.0 L1844.6,1245.0 L1845.6,1245.0 L1846.6,1245.0 L1847.6,1245.0 L1848.6,1245.0 L1849.6,1245.0 L1850.6,1244.9 L1851.6,1244.9 L1852.6,1244.9 L1853.6,1244.9 L1854.6,1244.9 L1855.6,1244.9 L1856.6,1244.9 L1857.6,1244.8 L1858.6,1244.8 L1859.6,1244.8 L1860.6,1244.8 L1861.6,1244.8 L1862.6,1244.8 L1863.6,1244.7 L1864.6,1244.7 L1865.6,1244.7 L1866.6,1244.7 L1867.6,1244.6 L1868.6,1244.6 L1869.6,1244.6 L1870.6,1244.6 L1871.6,1244.6 L1872.6,1244.5 L1873.5,1244.5 L1873.6,1244.5 L1874.6,1244.5 L1875.6,1244.4 L1876.6,1244.4 L1877.6,1244.3 L1878.6,1244.3 L1879.6,1244.2 L1880.6,1244.1 L1881.6,1244.0 L1882.6,1244.0 L1883.6,1243.9 L1884.6,1243.8 L1885.6,1243.7 L1886.6,1243.6 L1887.6,1243.5 L1888.6,1243.4 L1889.6,1243.3 L1890.6,1243.2 L1891.6,1243.1 L1892.6,1243.0 L1893.6,1242.9 L1894.6,1242.8 L1895.6,1242.6 L1896.6,1242.5 L1897.6,1242.4 L1898.6,1242.3 L1899.6,1242.2 L1900.6,1242.1 L1901.6,1242.1 L1902.6,1242.0 L1903.6,1241.9 L1904.6,1241.8 L1905.6,1241.7 L1906.6,1241.7 L1907.6,1241.6 L1908.6,1241.5 L1909.4,1241.5 L1909.6,1241.5 L1910.6,1241.4 L1911.6,1241.4 L1912.6,1241.3 L1913.6,1241.3 L1914.6,1241.3 L1915.6,1241.2 L1916.6,1241.2 L1917.6,1241.1 L1918.6,1241.1 L1919.6,1241.0 L1920.6,1241.0 L1921.6,1240.9 L1922.6,1240.9 L1923.6,1240.8 L1924.6,1240.8 L1925.6,1240.8 L1926.6,1240.7 L1927.6,1240.7 L1928.6,1240.6 L1929.6,1240.6 L1930.6,1240.6 L1931.6,1240.5 L1932.6,1240.5 L1933.6,1240.5 L1934.6,1240.4 L1935.6,1240.4 L1936.6,1240.4 L1937.6,1240.4 L1938.6,1240.4 L1939.6,1240.3 L1940.6,1240.3 L1941.6,1240.3 L1942.6,1240.3 L1943.6,1240.3 L1944.6,1240.3 L1945.3,1240.3 L1945.6,1240.3 L1946.6,1240.3 L1947.6,1240.3 L1948.6,1240.3 L1949.6,1240.3 L1950.6,1240.4 L1951.6,1240.4 L1952.6,1240.4 L1953.6,1240.5 L1954.6,1240.5 L1955.6,1240.5 L1956.6,1240.6 L1957.6,1240.6 L1958.6,1240.7 L1959.6,1240.8 L1960.6,1240.8 L1961.6,1240.9 L1962.6,1240.9 L1963.6,1241.0 L1964.6,1241.1 L1965.6,1241.2 L1966.6,1241.2 L1967.6,1241.3 L1968.6,1241.4 L1969.6,1241.5 L1970.0,1241.5" fill="none" stroke="#000080" stroke-width="5" stroke-linejoin="round" stroke-linecap="butt"/>
<line x1="180" y1="98" x2="180" y2="1263.8" stroke="#000" stroke-width="5.5" stroke-linecap="butt"/>
<line x1="161" y1="1261" x2="1973" y2="1261" stroke="#000" stroke-width="5.5" stroke-linecap="butt"/>
<line x1="161" y1="733.9" x2="180" y2="733.9" stroke="#000" stroke-width="5.5" stroke-linecap="butt"/>
<line x1="161" y1="206.5" x2="180" y2="206.5" stroke="#000" stroke-width="5.5" stroke-linecap="butt"/>
<line x1="170" y1="997.4" x2="180" y2="997.4" stroke="#000" stroke-width="5.5" stroke-linecap="butt"/>
<line x1="170" y1="470.2" x2="180" y2="470.2" stroke="#000" stroke-width="5.5" stroke-linecap="butt"/>
<line x1="227" y1="1261" x2="227" y2="1282" stroke="#000" stroke-width="5.5" stroke-linecap="butt"/>
<line x1="691.6" y1="1261" x2="691.6" y2="1282" stroke="#000" stroke-width="5.5" stroke-linecap="butt"/>
<line x1="1156" y1="1261" x2="1156" y2="1282" stroke="#000" stroke-width="5.5" stroke-linecap="butt"/>
<line x1="1620.6" y1="1261" x2="1620.6" y2="1282" stroke="#000" stroke-width="5.5" stroke-linecap="butt"/>
<line x1="459.3" y1="1261" x2="459.3" y2="1274" stroke="#000" stroke-width="5.5" stroke-linecap="butt"/>
<line x1="924" y1="1261" x2="924" y2="1274" stroke="#000" stroke-width="5.5" stroke-linecap="butt"/>
<line x1="1388.3" y1="1261" x2="1388.3" y2="1274" stroke="#000" stroke-width="5.5" stroke-linecap="butt"/>
<line x1="1852.9" y1="1261" x2="1852.9" y2="1274" stroke="#000" stroke-width="5.5" stroke-linecap="butt"/>
<text x="67.2" y="1276.5" font-size="62" font-family='"Liberation Sans",sans-serif' fill="#000">0.0</text>
<text x="67.8" y="749.5" font-size="62" font-family='"Liberation Sans",sans-serif' fill="#000">0.1</text>
<text x="67.9" y="222" font-size="62" font-family='"Liberation Sans",sans-serif' fill="#000">0.2</text>
<text x="175.2" y="1339.3" font-size="62" font-family='"Liberation Sans",sans-serif' fill="#000">780</text>
<text x="639.7" y="1339.3" font-size="62" font-family='"Liberation Sans",sans-serif' fill="#000">760</text>
<text x="1103.6" y="1339.3" font-size="62" font-family='"Liberation Sans",sans-serif' fill="#000">740</text>
<text x="1570.9" y="1339.3" font-size="62" font-family='"Liberation Sans",sans-serif' fill="#000">720</text>
<text x="1267.7" y="1411" font-size="62" font-family='"Liberation Sans",sans-serif' fill="#000">Wavenumbers</text>
<text x="0" y="0" font-size="62" font-family='"Liberation Sans",sans-serif' transform="translate(1684.4,1411) scale(0.8,1)">(</text>
<text x="1705.9" y="1411" font-size="62" font-family='"Liberation Sans",sans-serif' fill="#000">cm</text>
<text x="1785.4" y="1380.9" font-size="39" font-family='"Liberation Sans",sans-serif' fill="#8c868c">−</text>
<text x="1806.6" y="1377.2" font-size="39" font-family='"Liberation Sans",sans-serif' fill="#000">1</text>
<text x="0" y="0" font-size="62" font-family='"Liberation Sans",sans-serif' transform="translate(1831,1411) scale(0.8,1)">)</text>
<text x="0" y="0" font-size="61.3" font-family='"Liberation Sans",sans-serif' transform="translate(89.1,619.2) rotate(-90)">Absorbance</text>
<text x="0" y="0" font-size="64" font-family='"Liberation Sans",sans-serif' transform="translate(451,117) scale(0.8,1)">(</text>
<text x="473.4" y="115.2" font-size="56" font-family='"Liberation Serif",serif' fill="#000">ν</text>
<text x="501.6" y="83" font-size="45" font-family='"Liberation Sans",sans-serif' fill="#000">35</text>
<text x="551.7" y="117" font-size="62" font-family='"Liberation Sans",sans-serif' fill="#000">Cl-F</text>
<text x="0" y="0" font-size="64" font-family='"Liberation Sans",sans-serif' transform="translate(672.1,117) scale(0.8,1)">)</text>
<text x="689.6" y="140.8" font-size="45" font-family='"Liberation Sans",sans-serif' fill="#000">S1</text>
<text x="0" y="0" font-size="64" font-family='"Liberation Sans",sans-serif' transform="translate(200.3,467) scale(0.8,1)">(</text>
<text x="222.4" y="465.2" font-size="56" font-family='"Liberation Serif",serif' fill="#000">ν</text>
<text x="249.3" y="433" font-size="45" font-family='"Liberation Sans",sans-serif' fill="#000">35</text>
<text x="299.4" y="467" font-size="62" font-family='"Liberation Sans",sans-serif' fill="#000">Cl-F</text>
<text x="0" y="0" font-size="64" font-family='"Liberation Sans",sans-serif' transform="translate(421,467) scale(0.8,1)">)</text>
<text x="438.4" y="490" font-size="45" font-family='"Liberation Sans",sans-serif' fill="#000">S2</text>
<text x="0" y="0" font-size="64" font-family='"Liberation Sans",sans-serif' transform="translate(590,533) scale(0.8,1)">(</text>
<text x="612.9" y="531.2" font-size="56" font-family='"Liberation Serif",serif' fill="#000">ν</text>
<text x="640.6" y="499" font-size="45" font-family='"Liberation Sans",sans-serif' fill="#000">37</text>
<text x="690.1" y="533" font-size="62" font-family='"Liberation Sans",sans-serif' fill="#000">Cl-F</text>
<text x="0" y="0" font-size="64" font-family='"Liberation Sans",sans-serif' transform="translate(811.3,533) scale(0.8,1)">)</text>
<text x="828.8" y="557.7" font-size="45" font-family='"Liberation Sans",sans-serif' fill="#000">S2</text>
<text x="0" y="0" font-size="64" font-family='"Liberation Sans",sans-serif' transform="translate(677.7,667) scale(0.8,1)">(</text>
<text x="700.6" y="665.2" font-size="56" font-family='"Liberation Serif",serif' fill="#000">ν</text>
<text x="728.3" y="633" font-size="45" font-family='"Liberation Sans",sans-serif' fill="#000">37</text>
<text x="777.8" y="667" font-size="62" font-family='"Liberation Sans",sans-serif' fill="#000">Cl-F</text>
<text x="0" y="0" font-size="64" font-family='"Liberation Sans",sans-serif' transform="translate(899.9,667) scale(0.8,1)">)</text>
<text x="916.5" y="691.6" font-size="45" font-family='"Liberation Sans",sans-serif' fill="#000">S1</text>
<text x="0" y="0" font-size="64" font-family='"Liberation Sans",sans-serif' transform="translate(723.9,899.3) scale(0.8,1)">(</text>
<text x="746.8" y="897.5" font-size="56" font-family='"Liberation Serif",serif' fill="#000">ν</text>
<text x="775" y="865.3" font-size="45" font-family='"Liberation Sans",sans-serif' fill="#000">35</text>
<text x="824.6" y="899.3" font-size="62" font-family='"Liberation Sans",sans-serif' fill="#000">Cl-F</text>
<text x="0" y="0" font-size="64" font-family='"Liberation Sans",sans-serif' transform="translate(946.6,899.3) scale(0.8,1)">)</text>
<text x="962.4" y="922.2" font-size="45" font-family='"Liberation Sans",sans-serif' fill="#000">aggregates</text>
<text x="0" y="0" font-size="64" font-family='"Liberation Sans",sans-serif' transform="translate(882.6,1025) scale(0.8,1)">(</text>
<text x="904.8" y="1023.2" font-size="56" font-family='"Liberation Serif",serif' fill="#000">ν</text>
<text x="932.5" y="991" font-size="45" font-family='"Liberation Sans",sans-serif' fill="#000">37</text>
<text x="981.9" y="1025" font-size="62" font-family='"Liberation Sans",sans-serif' fill="#000">Cl-F</text>
<text x="0" y="0" font-size="64" font-family='"Liberation Sans",sans-serif' transform="translate(1105.1,1025) scale(0.8,1)">)</text>
<text x="1120.5" y="1046.8" font-size="45" font-family='"Liberation Sans",sans-serif' fill="#000">aggregates</text>
<text x="0" y="0" font-size="64" font-family='"Liberation Sans",sans-serif' transform="translate(1410.8,109.6) scale(0.8,1)">(</text>
<text x="1432.9" y="107.8" font-size="56" font-family='"Liberation Serif",serif' fill="#000">ν</text>
<text x="1461.3" y="75.6" font-size="45" font-family='"Liberation Sans",sans-serif' fill="#000">35</text>
<text x="1510.3" y="109.6" font-size="62" font-family='"Liberation Sans",sans-serif' fill="#000">Cl-F</text>
<text x="0" y="0" font-size="64" font-family='"Liberation Sans",sans-serif' transform="translate(1633.5,109.6) scale(0.8,1)">)</text>
<text x="1649.6" y="133.8" font-size="45" font-family='"Liberation Sans",sans-serif' fill="#000">complex</text>
<text x="0" y="0" font-size="64" font-family='"Liberation Sans",sans-serif' transform="translate(1647.5,353.8) scale(0.8,1)">(</text>
<text x="1670.3" y="352" font-size="56" font-family='"Liberation Serif",serif' fill="#000">ν</text>
<text x="1697.6" y="319.8" font-size="45" font-family='"Liberation Sans",sans-serif' fill="#000">37</text>
<text x="1748" y="353.8" font-size="62" font-family='"Liberation Sans",sans-serif' fill="#000">Cl-F</text>
<text x="0" y="0" font-size="64" font-family='"Liberation Sans",sans-serif' transform="translate(1870.7,353.8) scale(0.8,1)">)</text>
<text x="1885.8" y="378" font-size="45" font-family='"Liberation Sans",sans-serif' fill="#000">complex</text>
<line x1="306.5" y1="508.9" x2="414.7" y2="589.4" stroke="#000" stroke-width="4.5" stroke-linecap="butt"/>
<polygon points="442.8,610.3 397.2,594.5 413.1,588.2 414.5,571.2" fill="#000"/>
<line x1="622" y1="556.4" x2="622" y2="848.7" stroke="#000" stroke-width="4.5" stroke-linecap="butt"/>
<polygon points="622,883.7 607.5,837.7 622,846.7 636.5,837.7" fill="#000"/>
<line x1="694.2" y1="687.3" x2="694.2" y2="743.5" stroke="#000" stroke-width="4.5" stroke-linecap="butt"/>
<polygon points="694.2,778.5 679.7,732.5 694.2,741.5 708.7,732.5" fill="#000"/>
<line x1="1542.8" y1="140" x2="1542.8" y2="174.4" stroke="#000" stroke-width="4.5" stroke-linecap="butt"/>
<polygon points="1542.8,209.4 1528.3,163.4 1542.8,172.4 1557.3,163.4" fill="#000"/>
<line x1="1833.9" y1="389.4" x2="1833.9" y2="459.9" stroke="#000" stroke-width="4.5" stroke-linecap="butt"/>
<polygon points="1833.9,494.9 1819.4,448.9 1833.9,457.9 1848.4,448.9" fill="#000"/>
<path d="M1252.4,366.1 L1253.4,366.7 L1254.4,367.4 L1255.4,368.0 L1256.4,368.6 L1257.4,369.2 L1258.4,369.8 L1259.4,370.4 L1260.4,371.0 L1261.4,371.6 L1262.4,372.2 L1263.4,372.8 L1264.4,373.3 L1265.4,373.9 L1266.4,374.4 L1267.4,374.9 L1268.4,375.5 L1269.4,376.0 L1270.4,376.5 L1271.4,377.0 L1272.4,377.4 L1273.4,377.9 L1274.4,378.4 L1275.4,378.8 L1276.4,379.2 L1277.4,379.7 L1278.4,380.1 L1279.4,380.5 L1280.4,380.8 L1281.4,381.2 L1282.4,381.6 L1283.4,381.9 L1284.4,382.3 L1285.4,382.6 L1286.4,383.0 L1287.4,383.3 L1288.4,383.7 L1289.4,384.0 L1290.4,384.4 L1291.4,384.7 L1292.4,385.0 L1293.4,385.4 L1294.4,385.7 L1295.4,386.0 L1296.4,386.3 L1297.4,386.6 L1298.4,386.9 L1299.4,387.1 L1300.4,387.4 L1301.4,387.7 L1302.4,387.9 L1303.4,388.1 L1304.4,388.3 L1305.4,388.6 L1306.4,388.7 L1307.4,388.9 L1308.4,389.1 L1309.4,389.2 L1310.4,389.4 L1311.4,389.5 L1311.7,389.5 L1312.4,389.6 L1313.4,389.7 L1314.4,389.8 L1315.4,389.9 L1316.4,390.0 L1317.4,390.0 L1318.4,390.1 L1319.4,390.2 L1320.4,390.3 L1321.4,390.4 L1322.4,390.5 L1323.4,390.5 L1324.4,390.6 L1325.4,390.6 L1326.4,390.7 L1327.4,390.8 L1328.4,390.8 L1329.4,390.8 L1330.4,390.9 L1331.4,390.9 L1332.4,390.9 L1333.4,390.9 L1333.7,390.9 L1334.4,390.9 L1335.4,390.9 L1336.4,390.8 L1337.4,390.8 L1338.4,390.7 L1339.4,390.6 L1340.4,390.6 L1341.4,390.4 L1342.4,390.3 L1343.4,390.2 L1344.4,390.1 L1345.4,389.9 L1346.4,389.8 L1347.4,389.6 L1348.4,389.5 L1349.4,389.3 L1350.4,389.1 L1351.4,388.9 L1352.4,388.7 L1353.4,388.6 L1354.4,388.4 L1355.4,388.2 L1355.8,388.1 L1356.4,388.0 L1357.4,387.7 L1358.4,387.5 L1359.4,387.2 L1360.4,386.9 L1361.4,386.5 L1362.4,386.2 L1363.4,385.8 L1364.4,385.4 L1365.4,384.9 L1366.4,384.5 L1367.4,384.1 L1368.4,383.6 L1369.4,383.2 L1370.4,382.8 L1371.4,382.3 L1372.4,381.9 L1373.4,381.5 L1374.4,381.1 L1375.4,380.7 L1376.4,380.4 L1377.4,380.0 L1377.8,379.9 L1378.4,379.7 L1379.4,379.4 L1380.4,379.0 L1381.4,378.7 L1382.4,378.3 L1383.4,378.0 L1384.4,377.6 L1385.4,377.2 L1386.4,376.9 L1387.4,376.5 L1388.4,376.2 L1389.4,375.9 L1390.4,375.6 L1391.4,375.3 L1392.4,375.1 L1393.4,374.9 L1394.4,374.7 L1395.4,374.5 L1396.4,374.4 L1397.4,374.3 L1398.4,374.3 L1398.5,374.3 L1399.4,374.3 L1400.4,374.4 L1401.4,374.4 L1402.4,374.5 L1403.4,374.6 L1404.4,374.8 L1405.4,374.9 L1406.4,375.1 L1407.4,375.3 L1408.4,375.5 L1409.4,375.8 L1410.4,376.0 L1411.4,376.3 L1412.4,376.5 L1413.4,376.8 L1414.4,377.1 L1415.4,377.4 L1416.4,377.7 L1417.4,378.0 L1418.4,378.3 L1419.2,378.5 L1419.4,378.6 L1420.4,379.2 L1421.4,379.7 L1422.4,380.3 L1423.4,380.9 L1424.4,381.4 L1425.4,382.0 L1426.4,382.6 L1427.4,383.1 L1428.4,383.7 L1429.4,384.2 L1430.4,384.8 L1431.4,385.4 L1432.4,385.9 L1433.4,386.5 L1434.4,387.1 L1435.4,387.6 L1436.4,388.2 L1437.4,388.8 L1438.4,389.3 L1439.4,389.9 L1440.4,390.4 L1441.2,390.9 L1442.2,390.8 L1443.2,390.8 L1444.2,390.7 L1445.2,390.6 L1446.2,390.6 L1447.2,390.5 L1448.2,390.5 L1449.2,390.4 L1450.2,390.3 L1451.2,390.3 L1452.2,390.2 L1453.2,390.1 L1454.2,390.1 L1455.2,390.0 L1456.2,389.9 L1457.2,389.9 L1458.2,389.8 L1459.2,389.8 L1460.2,389.7 L1461.2,389.6 L1462.2,389.6 L1463.2,389.5 L1463.3,389.5 L1464.3,387.9 L1465.3,386.2 L1466.3,384.6 L1467.3,383.0 L1468.3,381.4 L1469.3,379.7 L1470.3,378.1 L1471.3,376.5 L1472.3,374.9 L1473.3,373.2 L1474.3,371.6 L1475.3,370.0 L1476.3,368.3 L1477.3,366.7 L1478.3,365.1 L1479.3,363.5 L1480.3,361.8 L1481.3,360.2 L1482.3,358.6 L1483.3,357.0 L1484.3,355.3 L1485.3,353.7 L1486.3,351.5 L1487.3,349.2 L1488.3,346.8 L1489.3,344.2 L1490.3,341.5 L1491.3,338.7 L1492.3,335.8 L1493.3,332.8 L1494.3,329.8 L1495.3,326.8 L1496.3,323.7 L1497.3,320.6 L1498.3,317.4 L1499.3,314.3 L1500.3,311.2 L1501.3,308.2 L1502.3,305.2 L1503.3,302.2 L1504.3,299.3 L1504.6,298.5 L1505.3,296.6 L1506.3,293.8 L1507.3,291.1 L1508.3,288.3 L1509.3,285.6 L1510.3,282.8 L1511.3,280.1 L1512.3,277.3 L1513.3,274.5 L1514.3,271.8 L1515.3,269.0 L1516.3,266.3 L1517.3,263.5 L1518.3,260.8 L1519.3,258.0 L1520.3,255.3 L1521.3,252.5 L1522.3,249.8 L1523.3,247.0 L1524.3,244.3 L1525.3,241.5 L1526.3,238.8 L1527.3,236.0 L1528.1,233.8 L1529.1,233.5 L1530.1,233.2 L1531.1,232.9 L1532.1,232.6 L1533.1,232.3 L1534.1,232.0 L1535.1,231.7 L1536.1,231.4 L1537.1,231.1 L1538.1,230.9 L1539.1,230.6 L1540.1,230.3 L1541.1,230.0 L1542.1,229.7 L1543.1,229.4 L1544.1,229.1 L1545.1,228.8 L1546.1,228.5 L1547.1,228.2 L1548.1,227.9 L1549.1,227.6 L1550.1,227.3 L1551.1,227.0 L1551.5,226.9 L1552.5,228.9 L1553.5,230.9 L1554.5,232.9 L1555.5,234.9 L1556.5,236.9 L1557.5,238.9 L1558.5,240.9 L1559.5,242.9 L1560.5,244.9 L1561.5,246.9 L1562.5,248.9 L1563.5,250.9 L1564.5,252.9 L1565.5,254.9 L1566.5,256.9 L1567.5,258.9 L1568.5,260.9 L1569.5,262.9 L1570.5,264.9 L1570.8,265.5 L1571.5,267.2 L1572.5,269.7 L1573.5,272.3 L1574.5,275.1 L1575.5,277.9 L1576.5,280.7 L1577.5,283.7 L1578.5,286.7 L1579.5,289.8 L1580.5,292.9 L1581.5,296.0 L1582.5,299.2 L1583.5,302.4 L1584.5,305.6 L1585.5,308.8 L1586.5,312.0 L1587.5,315.1 L1588.5,318.3 L1589.5,321.4 L1590.5,324.5 L1591.5,327.5 L1592.5,330.4 L1592.9,331.6 L1593.5,333.3 L1594.5,336.3 L1595.5,339.2 L1596.5,342.1 L1597.5,345.0 L1598.5,347.9 L1599.5,350.9 L1600.5,353.8 L1601.5,356.7 L1602.5,359.6 L1603.5,362.5 L1604.5,365.4 L1605.5,368.2 L1606.5,371.1 L1607.5,373.9 L1608.5,376.7 L1609.5,379.5 L1610.5,382.3 L1611.5,385.0 L1612.5,387.7 L1613.5,390.4 L1614.5,393.0 L1615.5,395.6 L1616.5,398.2 L1617.2,400.0 L1617.5,400.8 L1618.5,403.3 L1619.5,405.7 L1620.5,408.2 L1621.5,410.6 L1622.5,412.9 L1623.5,415.3 L1624.5,417.6 L1625.5,419.9 L1626.5,422.2 L1627.5,424.5 L1628.5,426.7 L1629.5,429.0 L1630.5,431.2 L1631.5,433.4 L1632.5,435.6 L1633.5,437.9 L1634.5,440.1 L1635.1,441.4 L1635.5,442.3 L1636.5,444.5 L1637.5,446.8 L1638.5,449.0 L1639.5,451.3 L1640.5,453.5 L1641.5,455.8 L1642.5,458.0 L1643.5,460.3 L1644.5,462.5 L1645.5,464.7 L1646.5,466.9 L1647.5,469.1 L1648.5,471.2 L1649.5,473.3 L1650.5,475.4 L1651.5,477.5 L1652.5,479.5 L1653.5,481.4 L1654.5,483.3 L1655.5,485.2 L1656.5,487.0 L1657.2,488.2 L1657.5,488.7 L1658.5,490.4 L1659.5,492.1 L1660.5,493.7 L1661.5,495.4 L1662.5,497.0 L1663.5,498.5 L1664.5,500.1 L1665.5,501.6 L1666.5,503.1 L1667.5,504.6 L1668.5,506.0 L1669.5,507.5 L1670.5,508.9 L1671.5,510.3 L1672.5,511.7 L1673.5,513.0 L1674.5,514.4 L1675.5,515.7 L1676.5,517.1 L1677.5,518.4 L1678.5,519.7 L1679.5,520.9 L1680.5,522.2 L1681.5,523.5 L1682.0,524.1 L1682.5,524.7 L1683.5,526.0 L1684.5,527.2 L1685.5,528.4 L1686.5,529.6 L1687.5,530.8 L1688.5,532.0 L1689.5,533.2 L1690.5,534.4 L1691.5,535.6 L1692.5,536.7 L1693.5,537.9 L1694.5,539.0 L1695.5,540.1 L1696.5,541.2 L1697.5,542.3 L1698.5,543.4 L1699.5,544.4 L1700.5,545.5 L1701.5,546.5 L1702.5,547.6 L1703.5,548.6 L1704.5,549.6 L1705.5,550.5 L1706.5,551.5 L1707.5,552.5 L1708.5,553.4 L1709.5,554.3 L1709.6,554.4 L1710.5,555.2 L1711.5,556.1 L1712.5,557.1 L1713.5,558.0 L1714.5,559.0 L1715.5,559.9 L1716.5,560.8 L1717.5,561.8 L1718.5,562.7 L1719.5,563.6 L1720.5,564.5 L1721.5,565.4 L1722.5,566.2 L1723.5,567.1 L1724.5,567.9 L1725.5,568.6 L1726.5,569.4 L1727.5,570.1 L1728.5,570.7 L1729.5,571.4 L1730.5,571.9 L1731.5,572.5 L1732.5,572.9 L1733.5,573.4 L1734.4,573.7 L1734.5,573.7 L1735.5,574.1 L1736.5,574.4 L1737.5,574.7 L1738.5,575.1 L1739.5,575.4 L1740.5,575.7 L1741.5,576.0 L1742.5,576.3 L1743.5,576.6 L1744.5,576.9 L1745.5,577.1 L1746.5,577.4 L1747.5,577.6 L1748.5,577.8 L1749.5,578.0 L1750.5,578.1 L1751.5,578.3 L1752.5,578.4 L1753.5,578.5 L1754.5,578.5 L1755.5,578.6 L1756.4,578.6 L1756.5,578.6 L1757.5,578.6 L1758.5,578.6 L1759.5,578.5 L1760.5,578.4 L1761.5,578.3 L1762.5,578.2 L1763.5,578.1 L1764.5,578.0 L1765.5,577.8 L1766.5,577.7 L1767.5,577.5 L1768.5,577.3 L1769.5,577.1 L1770.5,576.9 L1771.5,576.7 L1772.5,576.5 L1773.0,576.4 L1773.5,576.3 L1774.5,576.0 L1775.5,575.6 L1776.5,575.2 L1777.5,574.7 L1778.5,574.1 L1779.5,573.5 L1780.5,572.9 L1781.5,572.2 L1782.5,571.5 L1783.5,570.7 L1784.5,570.0 L1785.5,569.2 L1786.5,568.4 L1787.5,567.6 L1788.5,566.9 L1789.5,566.1 L1790.5,565.3 L1791.5,564.6 L1792.3,564.0 L1792.5,563.9 L1793.5,563.1 L1794.5,562.3 L1795.5,561.5 L1796.5,560.7 L1797.5,559.8 L1798.5,558.9 L1799.5,558.0 L1800.5,557.1 L1801.5,556.2 L1802.5,555.3 L1803.5,554.5 L1804.5,553.6 L1805.5,552.8 L1806.5,552.0 L1807.5,551.3 L1808.5,550.6 L1809.5,550.0 L1810.5,549.4 L1811.5,548.9 L1811.6,548.9 L1812.5,548.5 L1813.5,548.0 L1814.5,547.6 L1815.5,547.1 L1816.5,546.7 L1817.5,546.3 L1818.5,545.8 L1819.5,545.4 L1820.5,545.0 L1821.5,544.7 L1822.5,544.3 L1823.5,544.0 L1824.5,543.7 L1825.5,543.5 L1826.5,543.3 L1827.5,543.1 L1828.5,542.9 L1829.5,542.8 L1830.5,542.8 L1830.9,542.8 L1831.5,542.8 L1832.5,542.9 L1833.5,543.2 L1834.5,543.5 L1835.5,543.8 L1836.5,544.3 L1837.5,544.8 L1838.5,545.3 L1839.5,545.9 L1840.5,546.5 L1841.5,547.1 L1842.5,547.7 L1843.5,548.3 L1844.5,548.8 L1844.6,548.9 L1845.5,549.4 L1846.5,550.0 L1847.5,550.6 L1848.5,551.3 L1849.5,552.0 L1850.5,552.7 L1851.5,553.4 L1852.5,554.2 L1853.5,555.0 L1854.5,555.7 L1855.5,556.5 L1856.5,557.4 L1857.5,558.2 L1858.5,559.0 L1859.5,559.9 L1860.5,560.7 L1861.5,561.6 L1862.5,562.4 L1863.5,563.3 L1864.5,564.1 L1865.5,564.9 L1866.5,565.8 L1867.5,566.6 L1868.5,567.4 L1869.5,568.2 L1870.5,569.0 L1871.5,569.8 L1872.5,570.6 L1873.5,571.4 L1874.5,572.3 L1875.5,573.1 L1876.5,573.9 L1877.5,574.8 L1878.5,575.6 L1879.5,576.4 L1880.5,577.3 L1881.5,578.1 L1882.5,579.0 L1883.5,579.8 L1884.5,580.6 L1885.5,581.5 L1886.5,582.3 L1887.5,583.1 L1888.5,583.9 L1889.5,584.7 L1890.5,585.5 L1891.5,586.2 L1892.5,587.0 L1893.5,587.7 L1894.5,588.5 L1895.5,589.2 L1896.5,589.9 L1897.0,590.2 L1897.5,590.5 L1898.5,591.2 L1899.5,591.9 L1900.5,592.6 L1901.5,593.2 L1902.5,593.9 L1903.5,594.6 L1904.5,595.2 L1905.5,595.9 L1906.5,596.5 L1907.5,597.2 L1908.5,597.8 L1909.5,598.4 L1910.5,599.1 L1911.5,599.7 L1912.5,600.3 L1913.5,600.8 L1914.5,601.4 L1915.5,602.0 L1916.5,602.5 L1917.5,603.0 L1918.5,603.5 L1919.5,604.0 L1920.5,604.5 L1921.5,604.9 L1922.5,605.4 L1923.5,605.8 L1924.5,606.2 L1924.6,606.2 L1925.5,606.5 L1926.5,606.9 L1927.5,607.3 L1928.5,607.6 L1929.5,608.0 L1930.5,608.3 L1931.5,608.7 L1932.5,609.0 L1933.5,609.4 L1934.5,609.7 L1935.5,610.0 L1936.5,610.3 L1937.5,610.6 L1938.5,610.8 L1939.5,611.1 L1940.5,611.3 L1941.5,611.5 L1942.5,611.7 L1943.5,611.9 L1944.5,612.1 L1945.5,612.2 L1946.5,612.3 L1946.6,612.3 L1947.5,612.4 L1948.5,612.5 L1949.5,612.6 L1950.5,612.6 L1951.5,612.7 L1952.5,612.8 L1953.5,612.9 L1954.5,613.0 L1955.5,613.0 L1956.5,613.1 L1957.5,613.2 L1958.5,613.2 L1959.5,613.3 L1960.5,613.3 L1961.5,613.4 L1962.5,613.4 L1963.5,613.5 L1964.5,613.5 L1965.5,613.5 L1966.5,613.6 L1967.5,613.6 L1968.5,613.6 L1969.5,613.6 L1970.1,613.6" fill="none" stroke="#000" stroke-width="5" stroke-linejoin="round" stroke-linecap="butt"/>
<path d="M1252.4,436.4 L1253.4,436.7 L1254.4,437.1 L1255.4,437.4 L1256.4,437.7 L1257.4,438.1 L1258.4,438.4 L1259.4,438.7 L1260.4,439.1 L1261.4,439.4 L1262.4,439.7 L1263.4,440.1 L1264.4,440.4 L1265.4,440.7 L1266.4,441.1 L1267.4,441.4 L1268.4,441.7 L1269.4,442.1 L1270.4,442.4 L1271.4,442.7 L1272.4,443.1 L1273.4,443.4 L1274.4,443.7 L1275.4,444.0 L1276.4,444.4 L1277.4,444.7 L1278.4,445.0 L1279.4,445.3 L1280.4,445.7 L1281.4,446.0 L1282.4,446.3 L1283.4,446.7 L1284.4,447.0 L1285.4,447.4 L1286.4,447.7 L1287.4,448.1 L1288.4,448.5 L1289.4,448.9 L1290.4,449.2 L1291.4,449.6 L1292.4,450.0 L1293.4,450.4 L1294.4,450.7 L1295.4,451.1 L1296.4,451.5 L1297.4,451.8 L1298.4,452.2 L1299.4,452.5 L1300.4,452.9 L1301.4,453.2 L1302.4,453.5 L1303.4,453.8 L1304.4,454.1 L1305.4,454.4 L1306.4,454.6 L1307.4,454.9 L1308.4,455.1 L1309.4,455.3 L1310.4,455.5 L1311.4,455.7 L1311.7,455.7 L1312.4,455.8 L1313.4,456.0 L1314.4,456.1 L1315.4,456.2 L1316.4,456.4 L1317.4,456.5 L1318.4,456.7 L1319.4,456.8 L1320.4,456.9 L1321.4,457.1 L1322.4,457.2 L1323.4,457.3 L1324.4,457.4 L1325.4,457.5 L1326.4,457.6 L1327.4,457.7 L1328.4,457.7 L1329.4,457.8 L1330.4,457.8 L1331.4,457.9 L1332.4,457.9 L1333.4,457.9 L1333.7,457.9 L1334.4,457.9 L1335.4,457.9 L1336.4,457.8 L1337.4,457.7 L1338.4,457.6 L1339.4,457.4 L1340.4,457.3 L1341.4,457.1 L1342.4,456.9 L1343.4,456.7 L1344.4,456.4 L1345.4,456.1 L1346.4,455.9 L1347.4,455.6 L1348.4,455.3 L1349.4,455.0 L1350.4,454.7 L1351.4,454.4 L1352.4,454.0 L1353.4,453.7 L1354.4,453.4 L1355.4,453.0 L1355.8,452.9 L1356.4,452.7 L1357.4,452.3 L1358.4,451.8 L1359.4,451.3 L1360.4,450.8 L1361.4,450.2 L1362.4,449.6 L1363.4,449.0 L1364.4,448.3 L1365.4,447.6 L1366.4,446.9 L1367.4,446.2 L1368.4,445.5 L1369.4,444.7 L1370.4,444.0 L1371.4,443.3 L1372.4,442.6 L1373.4,441.9 L1374.4,441.2 L1375.4,440.5 L1376.4,439.9 L1377.4,439.3 L1377.8,439.1 L1378.4,438.8 L1379.4,438.2 L1380.4,437.6 L1381.4,436.9 L1382.4,436.3 L1383.4,435.6 L1384.4,434.9 L1385.4,434.3 L1386.4,433.6 L1387.4,433.0 L1388.4,432.3 L1389.4,431.7 L1390.4,431.2 L1391.4,430.6 L1392.4,430.1 L1393.4,429.6 L1394.4,429.2 L1395.4,428.9 L1396.4,428.6 L1397.4,428.4 L1398.4,428.2 L1399.4,428.1 L1399.9,428.1 L1400.4,428.1 L1401.4,428.1 L1402.4,428.1 L1403.4,428.1 L1404.4,428.2 L1405.4,428.2 L1406.4,428.3 L1407.4,428.3 L1408.4,428.4 L1409.4,428.4 L1410.4,428.5 L1411.4,428.6 L1412.4,428.6 L1413.4,428.7 L1414.4,428.8 L1415.4,428.9 L1416.4,429.0 L1417.4,429.1 L1418.4,429.2 L1419.4,429.4 L1420.4,429.5 L1420.6,429.5 L1421.4,429.6 L1422.4,429.9 L1423.4,430.3 L1424.4,430.8 L1425.4,431.4 L1426.4,432.1 L1427.4,432.8 L1428.4,433.6 L1429.4,434.5 L1430.4,435.4 L1431.4,436.3 L1432.4,437.2 L1433.4,438.2 L1434.4,439.1 L1435.4,440.0 L1436.4,440.9 L1437.4,441.8 L1438.4,442.6 L1439.4,443.4 L1440.4,444.1 L1441.2,444.6 L1441.4,444.7 L1442.4,445.3 L1443.4,446.0 L1444.4,446.6 L1445.4,447.3 L1446.4,448.0 L1447.4,448.6 L1448.4,449.3 L1449.4,450.0 L1450.4,450.6 L1451.4,451.3 L1452.4,451.9 L1453.4,452.5 L1454.4,453.0 L1455.4,453.5 L1456.4,454.0 L1457.4,454.4 L1458.4,454.8 L1459.4,455.1 L1460.4,455.4 L1461.4,455.6 L1462.4,455.7 L1463.3,455.7 L1463.4,455.7 L1464.4,455.7 L1465.4,455.6 L1466.4,455.5 L1467.4,455.4 L1468.4,455.2 L1469.4,455.0 L1470.4,454.8 L1471.4,454.5 L1472.4,454.3 L1473.4,453.9 L1474.4,453.6 L1475.4,453.2 L1476.4,452.9 L1477.4,452.5 L1478.4,452.1 L1479.4,451.6 L1480.4,451.2 L1481.4,450.7 L1482.4,450.2 L1483.4,449.7 L1484.4,449.3 L1485.3,448.8 L1485.4,448.7 L1486.4,448.2 L1487.4,447.4 L1488.4,446.5 L1489.4,445.6 L1490.4,444.5 L1491.4,443.3 L1492.4,442.0 L1493.4,440.7 L1494.4,439.3 L1495.4,437.9 L1496.4,436.5 L1497.4,435.0 L1498.4,433.6 L1499.4,432.1 L1500.4,430.7 L1501.4,429.3 L1502.4,428.0 L1503.4,426.7 L1504.4,425.5 L1504.6,425.3 L1505.4,424.5 L1506.4,423.4 L1507.4,422.4 L1508.4,421.3 L1509.4,420.3 L1510.4,419.2 L1511.4,418.2 L1512.4,417.1 L1513.4,416.1 L1514.4,415.0 L1515.4,414.0 L1516.4,412.9 L1517.4,411.9 L1518.4,410.8 L1519.4,409.8 L1520.4,408.7 L1521.4,407.7 L1522.4,406.6 L1523.4,405.6 L1524.4,404.5 L1525.4,403.5 L1526.4,402.4 L1527.4,401.4 L1528.4,400.4 L1529.4,399.3 L1529.5,399.2 L1530.5,399.4 L1531.5,399.7 L1532.5,399.9 L1533.5,400.2 L1534.5,400.4 L1535.5,400.7 L1536.5,400.9 L1537.5,401.2 L1538.5,401.4 L1539.5,401.7 L1540.5,401.9 L1541.5,402.2 L1542.5,402.4 L1543.5,402.7 L1544.5,402.9 L1545.5,403.2 L1546.5,403.4 L1547.5,403.7 L1548.5,403.9 L1549.5,404.2 L1550.5,404.4 L1551.5,404.7 L1552.5,405.3 L1553.5,406.0 L1554.5,407.0 L1555.5,408.1 L1556.5,409.5 L1557.5,410.9 L1558.5,412.5 L1559.5,414.2 L1560.5,416.0 L1561.5,417.9 L1562.5,419.9 L1563.5,421.9 L1564.5,423.9 L1565.5,426.0 L1566.5,428.0 L1567.5,430.0 L1568.5,432.0 L1569.5,434.0 L1570.5,435.9 L1570.8,436.4 L1571.5,437.7 L1572.5,439.6 L1573.5,441.5 L1574.5,443.5 L1575.5,445.6 L1576.5,447.6 L1577.5,449.7 L1578.5,451.8 L1579.5,453.9 L1580.5,456.0 L1581.5,458.0 L1582.5,460.0 L1583.5,462.0 L1584.5,463.9 L1585.5,465.8 L1586.1,466.9 L1586.5,467.6 L1587.5,469.4 L1588.5,471.1 L1589.5,472.8 L1590.5,474.5 L1591.5,476.2 L1592.5,477.8 L1593.5,479.4 L1594.5,481.0 L1595.5,482.6 L1596.5,484.2 L1597.5,485.8 L1598.5,487.3 L1599.5,488.9 L1600.5,490.4 L1601.5,492.0 L1602.5,493.5 L1603.5,495.1 L1604.5,496.6 L1605.5,498.1 L1606.5,499.7 L1606.7,500.0 L1607.5,501.2 L1608.5,502.8 L1609.5,504.3 L1610.5,505.9 L1611.5,507.4 L1612.5,508.9 L1613.5,510.4 L1614.5,511.9 L1615.5,513.4 L1616.5,514.9 L1617.5,516.4 L1618.5,517.9 L1619.5,519.4 L1620.5,520.9 L1621.5,522.4 L1622.5,523.9 L1623.5,525.3 L1624.5,526.8 L1625.5,528.2 L1626.5,529.7 L1627.4,531.0 L1627.5,531.1 L1628.5,532.6 L1629.5,534.0 L1630.5,535.5 L1631.5,536.9 L1632.5,538.4 L1633.5,539.8 L1634.5,541.2 L1635.5,542.7 L1636.5,544.1 L1637.5,545.5 L1638.5,546.9 L1639.5,548.3 L1640.5,549.7 L1641.5,551.1 L1642.5,552.5 L1643.5,553.8 L1644.5,555.2 L1645.5,556.5 L1646.5,557.8 L1647.5,559.1 L1648.1,559.9 L1648.5,560.4 L1649.5,561.7 L1650.5,563.0 L1651.5,564.2 L1652.5,565.4 L1653.5,566.7 L1654.5,567.9 L1655.5,569.1 L1656.5,570.3 L1657.5,571.5 L1658.5,572.7 L1659.5,573.8 L1660.5,575.0 L1661.5,576.2 L1662.5,577.3 L1663.5,578.5 L1664.5,579.7 L1665.5,580.8 L1666.5,582.0 L1667.5,583.2 L1668.5,584.3 L1668.8,584.7 L1669.5,585.5 L1670.5,586.7 L1671.5,587.9 L1672.5,589.2 L1673.5,590.4 L1674.5,591.6 L1675.5,592.9 L1676.5,594.1 L1677.5,595.4 L1678.5,596.6 L1679.5,597.8 L1680.5,599.0 L1681.5,600.2 L1682.5,601.4 L1683.5,602.6 L1684.5,603.7 L1685.5,604.8 L1686.5,605.8 L1687.5,606.9 L1688.5,607.8 L1689.5,608.8 L1690.3,609.5 L1690.5,609.7 L1691.5,610.5 L1692.5,611.4 L1693.5,612.2 L1694.5,613.0 L1695.5,613.8 L1696.5,614.6 L1697.5,615.4 L1698.5,616.1 L1699.5,616.9 L1700.5,617.6 L1701.5,618.3 L1702.5,619.0 L1703.5,619.7 L1704.5,620.4 L1705.5,621.0 L1706.5,621.7 L1707.5,622.3 L1708.5,623.0 L1709.5,623.6 L1710.5,624.3 L1711.5,624.9 L1712.5,625.5 L1713.5,626.1 L1714.5,626.8 L1715.5,627.4 L1716.5,628.0 L1717.5,628.6 L1717.8,628.8 L1718.5,629.2 L1719.5,629.9 L1720.5,630.5 L1721.5,631.1 L1722.5,631.7 L1723.5,632.4 L1724.5,633.0 L1725.5,633.6 L1726.5,634.3 L1727.5,634.9 L1728.5,635.5 L1729.5,636.1 L1730.5,636.7 L1731.5,637.3 L1732.5,637.9 L1733.5,638.5 L1734.5,639.0 L1735.5,639.6 L1736.5,640.1 L1737.5,640.6 L1738.5,641.1 L1739.5,641.6 L1740.5,642.1 L1741.5,642.5 L1742.5,642.9 L1743.5,643.3 L1744.5,643.7 L1745.4,644.0 L1745.5,644.0 L1746.5,644.4 L1747.5,644.7 L1748.5,645.1 L1749.5,645.4 L1750.5,645.8 L1751.5,646.1 L1752.5,646.4 L1753.5,646.8 L1754.5,647.1 L1755.5,647.4 L1756.5,647.7 L1757.5,648.0 L1758.5,648.2 L1759.5,648.5 L1760.5,648.7 L1761.5,648.9 L1762.5,649.1 L1763.5,649.2 L1764.5,649.3 L1765.5,649.4 L1766.5,649.5 L1767.5,649.5 L1768.5,649.5 L1769.5,649.5 L1770.5,649.5 L1771.5,649.4 L1772.5,649.4 L1773.5,649.3 L1774.5,649.2 L1775.5,649.2 L1776.5,649.1 L1777.5,649.0 L1778.5,648.9 L1779.5,648.8 L1780.5,648.7 L1781.5,648.6 L1782.5,648.5 L1783.5,648.4 L1784.5,648.3 L1785.5,648.1 L1786.5,648.0 L1787.5,647.9 L1788.5,647.7 L1789.5,647.6 L1790.5,647.4 L1791.5,647.2 L1792.5,647.0 L1793.5,646.7 L1794.5,646.4 L1795.5,646.1 L1796.5,645.7 L1797.5,645.4 L1798.5,645.0 L1799.5,644.6 L1800.5,644.3 L1801.5,643.9 L1802.5,643.5 L1803.5,643.2 L1804.5,642.9 L1805.5,642.6 L1806.5,642.4 L1807.5,642.2 L1808.5,642.0 L1808.8,642.0 L1809.5,641.9 L1810.5,641.8 L1811.5,641.7 L1812.5,641.6 L1813.5,641.5 L1814.5,641.4 L1815.5,641.3 L1816.5,641.2 L1817.5,641.1 L1818.5,641.0 L1819.5,640.9 L1820.5,640.8 L1821.5,640.8 L1822.5,640.7 L1823.5,640.6 L1824.5,640.6 L1825.5,640.5 L1826.5,640.5 L1827.5,640.4 L1828.5,640.4 L1829.5,640.4 L1830.5,640.4 L1830.9,640.4 L1831.5,640.4 L1832.5,640.5 L1833.5,640.6 L1834.5,640.7 L1835.5,640.8 L1836.5,641.0 L1837.5,641.2 L1838.5,641.5 L1839.5,641.7 L1840.5,642.0 L1841.5,642.3 L1842.5,642.5 L1843.5,642.8 L1844.5,643.1 L1844.6,643.1 L1845.5,643.3 L1846.5,643.6 L1847.5,644.0 L1848.5,644.3 L1849.5,644.7 L1850.5,645.0 L1851.5,645.4 L1852.5,645.9 L1853.5,646.3 L1854.5,646.7 L1855.5,647.2 L1856.5,647.6 L1857.5,648.1 L1858.5,648.6 L1859.5,649.0 L1860.5,649.5 L1861.5,650.0 L1862.5,650.5 L1863.5,650.9 L1864.5,651.4 L1865.5,651.9 L1866.5,652.3 L1867.5,652.8 L1868.5,653.2 L1869.5,653.6 L1870.5,654.0 L1871.5,654.4 L1872.5,654.8 L1873.5,655.2 L1874.5,655.6 L1875.5,656.0 L1876.5,656.4 L1877.5,656.8 L1878.5,657.2 L1879.5,657.6 L1880.5,658.0 L1881.5,658.4 L1882.5,658.8 L1883.5,659.2 L1884.5,659.5 L1885.5,659.9 L1886.5,660.3 L1887.5,660.7 L1888.5,661.1 L1889.5,661.5 L1890.5,661.9 L1891.5,662.3 L1892.5,662.7 L1893.5,663.1 L1894.5,663.6 L1895.5,664.0 L1896.5,664.4 L1897.0,664.6 L1897.5,664.8 L1898.5,665.2 L1899.5,665.7 L1900.5,666.1 L1901.5,666.6 L1902.5,667.1 L1903.5,667.5 L1904.5,668.0 L1905.5,668.5 L1906.5,669.0 L1907.5,669.5 L1908.5,670.0 L1909.5,670.5 L1910.5,670.9 L1911.5,671.4 L1912.5,671.9 L1913.5,672.4 L1914.5,672.8 L1915.5,673.3 L1916.5,673.8 L1917.5,674.2 L1918.5,674.6 L1919.5,675.1 L1920.5,675.5 L1921.5,675.9 L1922.5,676.2 L1923.5,676.6 L1924.5,677.0 L1924.6,677.0 L1925.5,677.3 L1926.5,677.7 L1927.5,678.0 L1928.5,678.4 L1929.5,678.7 L1930.5,679.1 L1931.5,679.4 L1932.5,679.8 L1933.5,680.1 L1934.5,680.5 L1935.5,680.8 L1936.5,681.1 L1937.5,681.4 L1938.5,681.7 L1939.5,681.9 L1940.5,682.2 L1941.5,682.4 L1942.5,682.6 L1943.5,682.8 L1944.5,682.9 L1945.5,683.0 L1946.5,683.1 L1946.6,683.1 L1947.5,683.2 L1948.5,683.2 L1949.5,683.3 L1950.5,683.3 L1951.5,683.4 L1952.5,683.4 L1953.5,683.5 L1954.5,683.5 L1955.5,683.6 L1956.5,683.6 L1957.5,683.6 L1958.5,683.7 L1959.5,683.7 L1960.5,683.8 L1961.5,683.8 L1962.5,683.8 L1963.5,683.8 L1964.5,683.8 L1965.5,683.9 L1966.5,683.9 L1967.5,683.9 L1968.5,683.9 L1969.5,683.9 L1970.1,683.9" fill="none" stroke="#ff0000" stroke-width="5" stroke-linejoin="round" stroke-linecap="butt"/>
<path d="M1252.4,481.9 L1253.4,482.1 L1254.4,482.2 L1255.4,482.4 L1256.4,482.6 L1257.4,482.7 L1258.4,482.9 L1259.4,483.0 L1260.4,483.2 L1261.4,483.3 L1262.4,483.5 L1263.4,483.6 L1264.4,483.8 L1265.4,483.9 L1266.4,484.1 L1267.4,484.2 L1268.4,484.4 L1269.4,484.5 L1270.4,484.6 L1271.4,484.8 L1272.4,484.9 L1273.4,485.0 L1274.4,485.2 L1275.4,485.3 L1276.4,485.4 L1277.4,485.5 L1278.4,485.7 L1279.4,485.8 L1280.4,485.9 L1281.4,486.0 L1282.4,486.1 L1283.4,486.2 L1284.4,486.3 L1285.4,486.4 L1286.4,486.5 L1287.4,486.6 L1288.4,486.7 L1289.4,486.8 L1290.4,486.9 L1291.4,486.9 L1292.4,487.0 L1293.4,487.1 L1294.4,487.2 L1295.4,487.3 L1296.4,487.3 L1297.4,487.4 L1298.4,487.5 L1299.4,487.6 L1300.4,487.7 L1301.4,487.7 L1302.4,487.8 L1303.4,487.9 L1304.4,488.0 L1305.4,488.1 L1306.4,488.2 L1307.4,488.3 L1308.4,488.4 L1309.4,488.5 L1310.4,488.6 L1311.4,488.8 L1311.7,488.8 L1312.4,488.9 L1313.4,489.0 L1314.4,489.2 L1315.4,489.4 L1316.4,489.6 L1317.4,489.8 L1318.4,490.0 L1319.4,490.2 L1320.4,490.4 L1321.4,490.6 L1322.4,490.9 L1323.4,491.1 L1324.4,491.3 L1325.4,491.5 L1326.4,491.7 L1327.4,491.9 L1328.4,492.1 L1329.4,492.3 L1330.4,492.5 L1331.4,492.6 L1332.4,492.8 L1333.4,492.9 L1333.7,492.9 L1334.4,493.0 L1335.4,493.1 L1336.4,493.2 L1337.4,493.2 L1338.4,493.3 L1339.4,493.4 L1340.4,493.5 L1341.4,493.6 L1342.4,493.7 L1343.4,493.8 L1344.4,493.8 L1345.4,493.9 L1346.4,494.0 L1347.4,494.0 L1348.4,494.1 L1349.4,494.1 L1350.4,494.2 L1351.4,494.2 L1352.4,494.3 L1353.4,494.3 L1354.4,494.3 L1355.4,494.3 L1355.8,494.3 L1356.4,494.3 L1357.4,494.2 L1358.4,494.1 L1359.4,493.9 L1360.4,493.7 L1361.4,493.5 L1362.4,493.2 L1363.4,492.9 L1364.4,492.5 L1365.4,492.2 L1366.4,491.8 L1367.4,491.4 L1368.4,491.0 L1369.4,490.6 L1370.4,490.2 L1371.4,489.7 L1372.4,489.3 L1373.4,488.9 L1374.4,488.5 L1375.4,488.2 L1376.4,487.8 L1377.4,487.5 L1377.8,487.4 L1378.4,487.2 L1379.4,486.9 L1380.4,486.6 L1381.4,486.3 L1382.4,485.9 L1383.4,485.6 L1384.4,485.2 L1385.4,484.8 L1386.4,484.5 L1387.4,484.2 L1388.4,483.8 L1389.4,483.5 L1390.4,483.2 L1391.4,482.9 L1392.4,482.7 L1393.4,482.5 L1394.4,482.3 L1395.4,482.1 L1396.4,482.0 L1397.4,481.9 L1398.4,481.9 L1398.5,481.9 L1399.4,481.9 L1400.4,482.0 L1401.4,482.1 L1402.4,482.2 L1403.4,482.3 L1404.4,482.5 L1405.4,482.7 L1406.4,483.0 L1407.4,483.3 L1408.4,483.5 L1409.4,483.8 L1410.4,484.2 L1411.4,484.5 L1412.4,484.9 L1413.4,485.2 L1414.4,485.6 L1415.4,486.0 L1416.4,486.4 L1417.4,486.8 L1418.4,487.2 L1419.2,487.5 L1419.4,487.6 L1420.4,488.0 L1421.4,488.5 L1422.4,489.1 L1423.4,489.7 L1424.4,490.3 L1425.4,491.0 L1426.4,491.7 L1427.4,492.5 L1428.4,493.3 L1429.4,494.1 L1430.4,494.9 L1431.4,495.8 L1432.4,496.7 L1433.4,497.5 L1434.4,498.4 L1435.4,499.3 L1436.4,500.1 L1437.4,501.0 L1438.4,501.8 L1439.4,502.6 L1440.4,503.4 L1441.3,504.1 L1441.4,504.2 L1442.4,504.9 L1443.4,505.7 L1444.4,506.6 L1445.4,507.4 L1446.4,508.3 L1447.4,509.1 L1448.4,510.0 L1449.4,510.9 L1450.4,511.8 L1451.4,512.6 L1452.4,513.4 L1453.4,514.3 L1454.4,515.0 L1455.4,515.8 L1456.4,516.5 L1457.4,517.2 L1458.4,517.8 L1459.4,518.4 L1460.4,518.9 L1461.4,519.4 L1462.0,519.6 L1462.4,519.8 L1463.4,520.1 L1464.4,520.5 L1465.4,520.9 L1466.4,521.2 L1467.4,521.6 L1468.4,521.9 L1469.4,522.3 L1470.4,522.6 L1471.4,522.9 L1472.4,523.2 L1473.4,523.5 L1474.4,523.7 L1475.4,523.9 L1476.4,524.1 L1477.4,524.3 L1478.4,524.5 L1479.4,524.6 L1480.4,524.7 L1481.4,524.8 L1482.4,524.8 L1482.7,524.8 L1483.4,524.8 L1484.4,524.8 L1485.4,524.7 L1486.4,524.6 L1487.4,524.5 L1488.4,524.4 L1489.4,524.3 L1490.4,524.2 L1491.4,524.0 L1492.4,523.8 L1493.4,523.7 L1494.4,523.5 L1495.4,523.3 L1496.4,523.1 L1497.4,522.9 L1498.4,522.7 L1499.4,522.5 L1500.4,522.3 L1501.4,522.1 L1502.4,521.9 L1503.4,521.7 L1504.4,521.5 L1505.4,521.3 L1506.4,521.0 L1507.4,520.7 L1508.4,520.5 L1509.4,520.1 L1510.4,519.8 L1511.4,519.5 L1512.4,519.2 L1513.4,518.8 L1514.4,518.5 L1515.4,518.2 L1516.4,517.8 L1517.4,517.5 L1518.4,517.2 L1519.4,516.9 L1520.4,516.6 L1521.4,516.4 L1522.4,516.2 L1523.4,516.0 L1524.4,515.8 L1525.4,515.7 L1526.4,515.6 L1527.4,515.5 L1528.2,515.5 L1528.4,515.5 L1529.4,515.5 L1530.4,515.6 L1531.4,515.7 L1532.4,515.8 L1533.4,515.9 L1534.4,516.1 L1535.4,516.3 L1536.4,516.5 L1537.4,516.8 L1538.4,517.1 L1539.4,517.4 L1540.4,517.7 L1541.4,518.0 L1542.4,518.3 L1543.4,518.7 L1544.4,519.1 L1545.4,519.5 L1546.4,519.8 L1547.4,520.2 L1548.4,520.7 L1549.4,521.1 L1550.4,521.5 L1550.9,521.7 L1551.4,521.9 L1552.4,522.4 L1553.4,523.0 L1554.4,523.6 L1555.4,524.3 L1556.4,525.1 L1557.4,525.9 L1558.4,526.8 L1559.4,527.7 L1560.4,528.7 L1561.4,529.7 L1562.4,530.7 L1563.4,531.8 L1564.4,532.8 L1565.4,533.9 L1566.4,535.1 L1567.4,536.2 L1568.4,537.3 L1569.4,538.5 L1570.4,539.6 L1571.4,540.7 L1572.4,541.8 L1573.4,542.9 L1574.4,544.0 L1575.4,545.1 L1575.7,545.4 L1576.4,546.1 L1577.4,547.2 L1578.4,548.2 L1579.4,549.3 L1580.4,550.4 L1581.4,551.5 L1582.4,552.6 L1583.4,553.7 L1584.4,554.8 L1585.4,555.9 L1586.4,557.0 L1587.4,558.1 L1588.4,559.3 L1589.4,560.4 L1590.4,561.6 L1591.4,562.7 L1592.4,563.9 L1593.4,565.0 L1594.4,566.2 L1595.4,567.4 L1596.4,568.5 L1597.4,569.7 L1598.4,570.9 L1599.4,572.1 L1600.4,573.2 L1601.4,574.4 L1602.4,575.6 L1603.4,576.7 L1604.4,577.9 L1605.4,579.1 L1606.4,580.3 L1606.7,580.6 L1607.4,581.4 L1608.4,582.6 L1609.4,583.8 L1610.4,585.0 L1611.4,586.2 L1612.4,587.5 L1613.4,588.7 L1614.4,589.9 L1615.4,591.2 L1616.4,592.5 L1617.4,593.7 L1618.4,595.0 L1619.4,596.2 L1620.4,597.5 L1621.4,598.8 L1622.4,600.0 L1623.4,601.3 L1624.4,602.5 L1625.4,603.7 L1626.4,605.0 L1627.4,606.2 L1628.4,607.4 L1629.4,608.6 L1630.4,609.7 L1631.4,610.9 L1632.4,612.0 L1633.4,613.1 L1634.4,614.2 L1635.4,615.3 L1636.4,616.4 L1637.4,617.4 L1637.8,617.8 L1638.4,618.4 L1639.4,619.4 L1640.4,620.4 L1641.4,621.4 L1642.4,622.3 L1643.4,623.3 L1644.4,624.3 L1645.4,625.2 L1646.4,626.2 L1647.4,627.1 L1648.4,628.0 L1649.4,628.9 L1650.4,629.8 L1651.4,630.7 L1652.4,631.6 L1653.4,632.5 L1654.4,633.4 L1655.4,634.2 L1656.4,635.1 L1657.4,635.9 L1658.4,636.7 L1659.4,637.6 L1660.4,638.4 L1661.4,639.2 L1662.4,639.9 L1663.4,640.7 L1664.4,641.5 L1665.4,642.2 L1666.4,643.0 L1667.4,643.7 L1668.4,644.4 L1668.8,644.7 L1669.4,645.1 L1670.4,645.8 L1671.4,646.5 L1672.4,647.2 L1673.4,647.8 L1674.4,648.5 L1675.4,649.1 L1676.4,649.8 L1677.4,650.4 L1678.4,651.0 L1679.4,651.6 L1680.4,652.2 L1681.4,652.8 L1682.4,653.4 L1683.4,654.0 L1684.4,654.6 L1685.4,655.1 L1686.4,655.7 L1687.4,656.3 L1688.4,656.8 L1689.4,657.4 L1690.4,658.0 L1691.4,658.5 L1692.4,659.1 L1693.4,659.6 L1694.4,660.2 L1695.4,660.7 L1696.4,661.3 L1697.4,661.8 L1698.4,662.4 L1699.4,663.0 L1700.0,663.3 L1700.4,663.5 L1701.4,664.1 L1702.4,664.6 L1703.4,665.2 L1704.4,665.7 L1705.4,666.3 L1706.4,666.8 L1707.4,667.4 L1708.4,667.9 L1709.4,668.5 L1710.4,669.0 L1711.4,669.5 L1712.4,670.1 L1713.4,670.6 L1714.4,671.1 L1715.4,671.6 L1716.4,672.2 L1717.4,672.7 L1717.8,672.9 L1718.4,673.2 L1719.4,673.7 L1720.4,674.3 L1721.4,674.8 L1722.4,675.3 L1723.4,675.8 L1724.4,676.3 L1725.4,676.9 L1726.4,677.4 L1727.4,677.9 L1728.4,678.4 L1729.4,678.9 L1730.4,679.5 L1731.4,680.0 L1732.4,680.5 L1733.4,681.0 L1734.4,681.5 L1735.4,682.0 L1736.4,682.5 L1737.4,683.0 L1738.4,683.5 L1739.4,683.9 L1740.4,684.4 L1741.4,684.9 L1742.4,685.3 L1743.4,685.8 L1744.4,686.3 L1745.4,686.7 L1746.4,687.1 L1747.4,687.6 L1748.4,688.1 L1749.4,688.6 L1750.4,689.0 L1751.4,689.5 L1752.4,690.0 L1753.4,690.5 L1754.4,690.9 L1755.4,691.4 L1756.4,691.9 L1757.4,692.3 L1758.4,692.7 L1759.4,693.1 L1760.4,693.5 L1761.4,693.9 L1762.4,694.2 L1763.4,694.5 L1764.4,694.8 L1765.4,695.1 L1766.4,695.3 L1767.4,695.5 L1767.5,695.5 L1768.4,695.6 L1769.4,695.8 L1770.4,696.0 L1771.4,696.1 L1772.4,696.3 L1773.4,696.4 L1774.4,696.5 L1775.4,696.7 L1776.4,696.8 L1777.4,696.9 L1778.4,697.0 L1779.4,697.1 L1780.4,697.2 L1781.4,697.3 L1782.4,697.4 L1783.4,697.5 L1784.4,697.5 L1785.4,697.6 L1786.4,697.6 L1787.4,697.7 L1788.4,697.7 L1789.4,697.7 L1789.5,697.7 L1790.4,697.7 L1791.4,697.6 L1792.4,697.4 L1793.4,697.2 L1794.4,696.9 L1795.4,696.6 L1796.4,696.3 L1797.4,695.9 L1798.4,695.5 L1799.4,695.2 L1800.4,694.8 L1801.4,694.4 L1802.4,694.1 L1803.4,693.7 L1804.4,693.4 L1805.4,693.2 L1806.4,693.0 L1807.4,692.9 L1808.4,692.8 L1808.8,692.8 L1809.4,692.8 L1810.4,692.8 L1811.4,692.8 L1812.4,692.9 L1813.4,692.9 L1814.4,692.9 L1815.4,693.0 L1816.4,693.0 L1817.4,693.1 L1818.4,693.2 L1819.4,693.2 L1820.4,693.3 L1821.4,693.4 L1822.4,693.5 L1823.4,693.6 L1824.4,693.7 L1825.4,693.8 L1826.4,693.9 L1827.4,694.0 L1828.4,694.1 L1829.4,694.2 L1830.4,694.3 L1830.9,694.4 L1831.4,694.5 L1832.4,694.6 L1833.4,694.9 L1834.4,695.1 L1835.4,695.4 L1836.4,695.7 L1837.4,696.0 L1838.4,696.4 L1839.4,696.7 L1840.4,697.1 L1841.4,697.4 L1842.4,697.7 L1843.4,698.0 L1844.4,698.3 L1844.6,698.3 L1845.4,698.5 L1846.4,698.7 L1847.4,698.9 L1848.4,699.2 L1849.4,699.4 L1850.4,699.6 L1851.4,699.8 L1852.4,700.0 L1853.4,700.2 L1854.4,700.4 L1855.4,700.6 L1856.4,700.8 L1857.4,701.0 L1858.4,701.2 L1859.4,701.4 L1860.4,701.5 L1861.4,701.7 L1862.4,701.9 L1863.4,702.1 L1864.4,702.3 L1865.4,702.5 L1866.4,702.6 L1867.4,702.8 L1868.4,703.0 L1869.4,703.2 L1869.5,703.2 L1870.4,703.4 L1871.4,703.5 L1872.4,703.7 L1873.4,703.9 L1874.4,704.1 L1875.4,704.2 L1876.4,704.4 L1877.4,704.6 L1878.4,704.7 L1879.4,704.9 L1880.4,705.0 L1881.4,705.2 L1882.4,705.4 L1883.4,705.5 L1884.4,705.7 L1885.4,705.9 L1886.4,706.0 L1887.4,706.2 L1888.4,706.3 L1889.4,706.5 L1890.4,706.7 L1891.4,706.9 L1892.4,707.0 L1893.4,707.2 L1894.4,707.4 L1895.4,707.6 L1896.4,707.8 L1897.0,707.9 L1897.4,708.0 L1898.4,708.2 L1899.4,708.4 L1900.4,708.6 L1901.4,708.8 L1902.4,709.1 L1903.4,709.3 L1904.4,709.5 L1905.4,709.8 L1906.4,710.0 L1907.4,710.2 L1908.4,710.5 L1909.4,710.7 L1910.4,711.0 L1911.4,711.2 L1912.4,711.5 L1913.4,711.7 L1914.4,712.0 L1915.4,712.2 L1916.4,712.4 L1917.4,712.7 L1918.4,712.9 L1919.4,713.2 L1920.4,713.4 L1921.4,713.6 L1922.4,713.8 L1923.4,714.0 L1924.4,714.3 L1924.6,714.3 L1925.4,714.5 L1926.4,714.7 L1927.4,714.9 L1928.4,715.2 L1929.4,715.4 L1930.4,715.7 L1931.4,715.9 L1932.4,716.1 L1933.4,716.4 L1934.4,716.6 L1935.4,716.9 L1936.4,717.1 L1937.4,717.3 L1938.4,717.5 L1939.4,717.7 L1940.4,717.9 L1941.4,718.0 L1942.4,718.1 L1943.4,718.2 L1944.4,718.3 L1945.4,718.4 L1946.4,718.4 L1946.6,718.4 L1947.4,718.4 L1948.4,718.4 L1949.4,718.4 L1950.4,718.4 L1951.4,718.4 L1952.4,718.4 L1953.4,718.4 L1954.4,718.3 L1955.4,718.3 L1956.4,718.3 L1957.4,718.3 L1958.4,718.2 L1959.4,718.2 L1960.4,718.1 L1961.4,718.1 L1962.4,718.0 L1963.4,717.9 L1964.4,717.8 L1965.4,717.7 L1966.4,717.6 L1967.4,717.4 L1968.4,717.3 L1969.4,717.1 L1970.1,717.0" fill="none" stroke="#008000" stroke-width="5" stroke-linejoin="round" stroke-linecap="butt"/>
<path d="M1252.4,531.5 L1253.4,531.8 L1254.4,532.1 L1255.4,532.4 L1256.4,532.6 L1257.4,532.9 L1258.4,533.2 L1259.4,533.5 L1260.4,533.7 L1261.4,534.0 L1262.4,534.2 L1263.4,534.5 L1264.4,534.8 L1265.4,535.0 L1266.4,535.2 L1267.4,535.5 L1268.4,535.7 L1269.4,536.0 L1270.4,536.2 L1271.4,536.4 L1272.4,536.6 L1273.4,536.8 L1274.4,537.1 L1275.4,537.3 L1276.4,537.5 L1277.4,537.7 L1278.4,537.9 L1279.4,538.0 L1280.4,538.2 L1281.4,538.4 L1282.4,538.6 L1283.4,538.7 L1284.4,538.9 L1285.4,539.1 L1286.4,539.2 L1287.4,539.4 L1288.4,539.5 L1289.4,539.7 L1290.4,539.8 L1291.4,539.9 L1292.4,540.1 L1293.4,540.2 L1294.4,540.3 L1295.4,540.5 L1296.4,540.6 L1297.4,540.7 L1298.4,540.8 L1299.4,541.0 L1300.4,541.1 L1301.4,541.2 L1302.4,541.3 L1303.4,541.5 L1304.4,541.6 L1305.4,541.7 L1306.4,541.8 L1307.4,542.0 L1308.4,542.1 L1309.4,542.2 L1310.4,542.3 L1311.4,542.5 L1311.7,542.5 L1312.4,542.6 L1313.4,542.7 L1314.4,542.9 L1315.4,543.0 L1316.4,543.1 L1317.4,543.3 L1318.4,543.4 L1319.4,543.6 L1320.4,543.7 L1321.4,543.9 L1322.4,544.0 L1323.4,544.1 L1324.4,544.3 L1325.4,544.4 L1326.4,544.5 L1327.4,544.7 L1328.4,544.8 L1329.4,544.9 L1330.4,545.0 L1331.4,545.1 L1332.4,545.2 L1333.4,545.3 L1333.7,545.3 L1334.4,545.4 L1335.4,545.4 L1336.4,545.5 L1337.4,545.6 L1338.4,545.7 L1339.4,545.8 L1340.4,545.8 L1341.4,545.9 L1342.4,546.0 L1343.4,546.1 L1344.4,546.1 L1345.4,546.2 L1346.4,546.3 L1347.4,546.3 L1348.4,546.4 L1349.4,546.4 L1350.4,546.5 L1351.4,546.5 L1352.4,546.6 L1353.4,546.6 L1354.4,546.6 L1355.4,546.6 L1355.8,546.6 L1356.4,546.6 L1357.4,546.6 L1358.4,546.5 L1359.4,546.4 L1360.4,546.3 L1361.4,546.2 L1362.4,546.1 L1363.4,546.0 L1364.4,545.8 L1365.4,545.6 L1366.4,545.5 L1367.4,545.3 L1368.4,545.1 L1369.4,544.9 L1370.4,544.7 L1371.4,544.5 L1372.4,544.3 L1373.4,544.1 L1374.4,543.9 L1375.4,543.7 L1376.4,543.5 L1377.4,543.4 L1377.8,543.3 L1378.4,543.2 L1379.4,543.0 L1380.4,542.8 L1381.4,542.6 L1382.4,542.4 L1383.4,542.2 L1384.4,542.0 L1385.4,541.7 L1386.4,541.5 L1387.4,541.3 L1388.4,541.1 L1389.4,540.9 L1390.4,540.7 L1391.4,540.5 L1392.4,540.3 L1393.4,540.2 L1394.4,540.1 L1395.4,539.9 L1396.4,539.9 L1397.4,539.8 L1398.4,539.8 L1398.5,539.8 L1399.4,539.8 L1400.4,539.9 L1401.4,540.1 L1402.4,540.3 L1403.4,540.5 L1404.4,540.8 L1405.4,541.1 L1406.4,541.5 L1407.4,541.9 L1408.4,542.4 L1409.4,542.9 L1410.4,543.4 L1411.4,543.9 L1412.4,544.5 L1413.4,545.1 L1414.4,545.7 L1415.4,546.3 L1416.4,546.9 L1417.4,547.5 L1418.4,548.2 L1419.4,548.8 L1420.4,549.4 L1420.7,549.6 L1421.4,550.0 L1422.4,550.7 L1423.4,551.5 L1424.4,552.3 L1425.4,553.2 L1426.4,554.1 L1427.4,555.1 L1428.4,556.1 L1429.4,557.1 L1430.4,558.1 L1431.4,559.2 L1432.4,560.3 L1433.4,561.4 L1434.4,562.6 L1435.4,563.7 L1436.4,564.8 L1437.4,565.9 L1438.4,567.1 L1439.4,568.2 L1440.4,569.2 L1441.3,570.2 L1441.4,570.3 L1442.4,571.4 L1443.4,572.5 L1444.4,573.6 L1445.4,574.7 L1446.4,575.9 L1447.4,577.1 L1448.4,578.2 L1449.4,579.4 L1450.4,580.6 L1451.4,581.8 L1452.4,583.0 L1453.4,584.1 L1454.4,585.3 L1455.4,586.4 L1456.4,587.5 L1457.4,588.6 L1458.4,589.6 L1459.4,590.6 L1460.4,591.6 L1461.4,592.5 L1462.0,593.0 L1462.4,593.3 L1463.4,594.2 L1464.4,595.0 L1465.4,595.8 L1466.4,596.5 L1467.4,597.3 L1468.4,598.0 L1469.4,598.8 L1470.4,599.5 L1471.4,600.1 L1472.4,600.8 L1473.4,601.5 L1474.4,602.2 L1475.4,602.8 L1476.4,603.5 L1477.4,604.1 L1478.4,604.7 L1479.4,605.4 L1480.4,606.0 L1481.4,606.7 L1482.4,607.3 L1482.7,607.5 L1483.4,608.0 L1484.4,608.6 L1485.4,609.2 L1486.4,609.9 L1487.4,610.5 L1488.4,611.2 L1489.4,611.8 L1490.4,612.5 L1491.4,613.1 L1492.4,613.7 L1493.4,614.3 L1494.4,615.0 L1495.4,615.6 L1496.4,616.2 L1497.4,616.7 L1498.4,617.3 L1499.4,617.8 L1500.4,618.4 L1501.4,618.9 L1502.4,619.4 L1503.4,619.9 L1504.4,620.4 L1505.4,620.8 L1506.4,621.3 L1507.4,621.7 L1508.4,622.1 L1509.4,622.5 L1510.4,622.9 L1511.4,623.3 L1512.4,623.7 L1513.4,624.1 L1514.4,624.5 L1515.4,624.8 L1516.4,625.2 L1517.4,625.6 L1518.4,626.0 L1519.4,626.3 L1520.4,626.7 L1521.4,627.1 L1522.4,627.5 L1523.4,627.9 L1524.0,628.1 L1524.4,628.3 L1525.4,628.7 L1526.4,629.0 L1527.4,629.4 L1528.4,629.8 L1529.4,630.2 L1530.4,630.6 L1531.4,631.0 L1532.4,631.4 L1533.4,631.8 L1534.4,632.2 L1535.4,632.5 L1536.4,632.9 L1537.4,633.3 L1538.4,633.7 L1539.4,634.1 L1540.4,634.6 L1541.4,635.0 L1542.4,635.4 L1543.4,635.8 L1544.4,636.3 L1544.7,636.4 L1545.4,636.7 L1546.4,637.2 L1547.4,637.6 L1548.4,638.1 L1549.4,638.6 L1550.4,639.0 L1551.4,639.5 L1552.4,640.0 L1553.4,640.5 L1554.4,641.0 L1555.4,641.5 L1556.4,642.0 L1557.4,642.5 L1558.4,643.1 L1559.4,643.6 L1560.4,644.1 L1561.4,644.6 L1562.4,645.1 L1563.4,645.7 L1564.4,646.2 L1565.4,646.7 L1566.4,647.2 L1567.4,647.8 L1568.4,648.3 L1569.4,648.8 L1570.4,649.4 L1571.4,649.9 L1572.4,650.5 L1573.4,651.0 L1574.4,651.6 L1575.4,652.1 L1576.4,652.7 L1577.4,653.2 L1578.4,653.8 L1579.4,654.4 L1580.4,654.9 L1581.4,655.5 L1582.4,656.0 L1583.4,656.6 L1584.4,657.2 L1585.4,657.7 L1586.1,658.1 L1586.4,658.3 L1587.4,658.8 L1588.4,659.4 L1589.4,659.9 L1590.4,660.5 L1591.4,661.0 L1592.4,661.6 L1593.4,662.1 L1594.4,662.6 L1595.4,663.2 L1596.4,663.7 L1597.4,664.3 L1598.4,664.8 L1599.4,665.4 L1600.4,665.9 L1601.4,666.5 L1602.4,667.1 L1603.4,667.6 L1604.4,668.2 L1605.4,668.8 L1606.4,669.3 L1606.7,669.5 L1607.4,669.9 L1608.4,670.5 L1609.4,671.1 L1610.4,671.6 L1611.4,672.2 L1612.4,672.8 L1613.4,673.4 L1614.4,674.0 L1615.4,674.5 L1616.4,675.1 L1617.4,675.7 L1618.4,676.3 L1619.4,676.9 L1620.4,677.5 L1621.4,678.1 L1622.4,678.7 L1623.4,679.4 L1624.4,680.0 L1625.4,680.6 L1626.4,681.3 L1627.4,681.9 L1628.4,682.6 L1629.4,683.2 L1630.4,683.9 L1631.4,684.6 L1632.4,685.2 L1633.4,685.9 L1634.4,686.6 L1635.4,687.3 L1636.4,688.1 L1637.4,688.8 L1638.4,689.5 L1639.4,690.2 L1640.4,690.9 L1641.4,691.6 L1642.4,692.4 L1643.4,693.1 L1644.4,693.8 L1645.4,694.5 L1646.4,695.2 L1647.4,695.9 L1648.1,696.4 L1648.4,696.6 L1649.4,697.3 L1650.4,698.0 L1651.4,698.7 L1652.4,699.5 L1653.4,700.2 L1654.4,700.9 L1655.4,701.6 L1656.4,702.3 L1657.4,703.1 L1658.4,703.8 L1659.4,704.5 L1660.4,705.2 L1661.4,705.9 L1662.4,706.6 L1663.4,707.3 L1664.4,708.0 L1665.4,708.6 L1666.4,709.3 L1667.4,709.9 L1668.4,710.6 L1668.8,710.8 L1669.4,711.2 L1670.4,711.8 L1671.4,712.4 L1672.4,712.9 L1673.4,713.5 L1674.4,714.1 L1675.4,714.6 L1676.4,715.2 L1677.4,715.7 L1678.4,716.3 L1679.4,716.8 L1680.4,717.3 L1681.4,717.9 L1682.4,718.4 L1683.4,718.9 L1684.4,719.4 L1685.4,720.0 L1686.4,720.5 L1687.4,721.0 L1688.4,721.5 L1689.4,722.0 L1690.3,722.5 L1690.4,722.6 L1691.4,723.1 L1692.4,723.6 L1693.4,724.1 L1694.4,724.7 L1695.4,725.2 L1696.4,725.7 L1697.4,726.2 L1698.4,726.7 L1699.4,727.3 L1700.4,727.8 L1701.4,728.3 L1702.4,728.8 L1703.4,729.3 L1704.4,729.8 L1705.4,730.4 L1706.4,730.9 L1707.4,731.4 L1708.4,731.9 L1709.4,732.4 L1710.4,732.8 L1711.4,733.3 L1712.4,733.8 L1713.4,734.3 L1714.4,734.8 L1715.4,735.2 L1716.4,735.7 L1717.4,736.1 L1717.8,736.3 L1718.4,736.6 L1719.4,737.0 L1720.4,737.4 L1721.4,737.9 L1722.4,738.3 L1723.4,738.7 L1724.4,739.1 L1725.4,739.5 L1726.4,740.0 L1727.4,740.4 L1728.4,740.8 L1729.4,741.2 L1730.4,741.6 L1731.4,742.0 L1732.4,742.4 L1733.4,742.7 L1734.4,743.1 L1735.4,743.5 L1736.4,743.9 L1737.4,744.3 L1738.4,744.7 L1739.4,745.0 L1740.4,745.4 L1741.4,745.8 L1742.4,746.2 L1743.4,746.6 L1744.4,746.9 L1745.4,747.3 L1746.4,747.7 L1747.4,748.1 L1748.4,748.4 L1749.4,748.8 L1750.4,749.2 L1751.4,749.6 L1752.4,750.0 L1753.4,750.4 L1754.4,750.7 L1755.4,751.1 L1756.4,751.5 L1757.4,751.9 L1758.4,752.3 L1759.4,752.6 L1760.4,753.0 L1761.4,753.4 L1762.4,753.7 L1763.4,754.1 L1764.4,754.4 L1765.4,754.7 L1766.4,755.1 L1767.4,755.4 L1768.4,755.7 L1769.4,756.0 L1770.4,756.3 L1771.4,756.6 L1772.4,756.8 L1773.0,757.0 L1773.4,757.1 L1774.4,757.3 L1775.4,757.6 L1776.4,757.8 L1777.4,758.1 L1778.4,758.3 L1779.4,758.5 L1780.4,758.7 L1781.4,758.9 L1782.4,759.1 L1783.4,759.3 L1784.4,759.5 L1785.4,759.7 L1786.4,759.9 L1787.4,760.1 L1788.4,760.2 L1789.4,760.4 L1790.4,760.6 L1791.4,760.8 L1792.4,761.0 L1793.4,761.2 L1794.4,761.3 L1795.4,761.5 L1796.4,761.7 L1797.4,761.9 L1798.4,762.1 L1799.4,762.3 L1800.4,762.5 L1800.5,762.5 L1801.4,762.7 L1802.4,762.9 L1803.4,763.1 L1804.4,763.3 L1805.4,763.5 L1806.4,763.7 L1807.4,763.9 L1808.4,764.1 L1809.4,764.3 L1810.4,764.5 L1811.4,764.7 L1812.4,764.9 L1813.4,765.1 L1814.4,765.3 L1815.4,765.5 L1816.4,765.7 L1817.4,765.9 L1818.4,766.1 L1819.4,766.3 L1820.4,766.5 L1821.4,766.7 L1822.4,766.9 L1823.4,767.1 L1824.4,767.3 L1825.4,767.5 L1826.4,767.7 L1827.4,767.9 L1828.1,768.0 L1828.4,768.1 L1829.4,768.3 L1830.4,768.5 L1831.4,768.7 L1832.4,768.9 L1833.4,769.2 L1834.4,769.4 L1835.4,769.7 L1836.4,769.9 L1837.4,770.1 L1838.4,770.4 L1839.4,770.6 L1840.4,770.8 L1841.4,771.0 L1842.4,771.2 L1843.4,771.4 L1844.4,771.6 L1845.4,771.8 L1846.4,771.9 L1847.4,772.0 L1848.4,772.1 L1849.4,772.2 L1850.2,772.2 L1850.4,772.2 L1851.4,772.2 L1852.4,772.3 L1853.4,772.3 L1854.4,772.3 L1855.4,772.3 L1856.4,772.4 L1857.4,772.4 L1858.4,772.4 L1859.4,772.4 L1860.4,772.5 L1861.4,772.5 L1862.4,772.5 L1863.4,772.5 L1864.4,772.5 L1865.4,772.6 L1866.4,772.6 L1867.4,772.6 L1868.4,772.6 L1869.4,772.6 L1870.4,772.6 L1871.4,772.6 L1872.4,772.6 L1873.4,772.7 L1874.4,772.7 L1875.4,772.7 L1876.4,772.7 L1877.4,772.7 L1878.4,772.7 L1879.4,772.7 L1880.4,772.7 L1881.4,772.7 L1882.4,772.7 L1883.2,772.7 L1883.4,772.7 L1884.4,772.7 L1885.4,772.7 L1886.4,772.7 L1887.4,772.7 L1888.4,772.7 L1889.4,772.7 L1890.4,772.7 L1891.4,772.7 L1892.4,772.7 L1893.4,772.7 L1894.4,772.7 L1895.4,772.7 L1896.4,772.7 L1897.4,772.7 L1898.4,772.7 L1899.4,772.7 L1900.4,772.7 L1901.4,772.7 L1902.4,772.7 L1903.4,772.7 L1904.4,772.7 L1905.4,772.7 L1906.4,772.7 L1907.4,772.7 L1908.4,772.7 L1909.4,772.7 L1910.4,772.7 L1911.4,772.7 L1912.4,772.7 L1913.4,772.7 L1914.4,772.7 L1915.4,772.7 L1916.4,772.7 L1917.4,772.7 L1918.4,772.7 L1919.4,772.7 L1920.4,772.7 L1921.4,772.7 L1922.4,772.7 L1923.4,772.7 L1924.4,772.7 L1924.6,772.7 L1925.4,772.7 L1926.4,772.7 L1927.4,772.7 L1928.4,772.6 L1929.4,772.6 L1930.4,772.6 L1931.4,772.5 L1932.4,772.4 L1933.4,772.4 L1934.4,772.3 L1935.4,772.2 L1936.4,772.2 L1937.4,772.1 L1938.4,772.0 L1939.4,771.9 L1940.4,771.8 L1941.4,771.7 L1942.4,771.6 L1943.4,771.5 L1944.4,771.4 L1945.4,771.2 L1946.4,771.1 L1947.4,771.0 L1948.4,770.9 L1949.4,770.8 L1950.4,770.7 L1951.4,770.6 L1952.4,770.4 L1953.4,770.3 L1954.4,770.1 L1955.4,769.9 L1956.4,769.7 L1957.4,769.6 L1958.4,769.4 L1959.4,769.2 L1960.4,768.9 L1961.4,768.7 L1962.4,768.5 L1963.4,768.3 L1964.4,768.0 L1965.4,767.8 L1966.4,767.5 L1967.4,767.3 L1968.4,767.0 L1969.4,766.8 L1970.1,766.6" fill="none" stroke="#000080" stroke-width="5" stroke-linejoin="round" stroke-linecap="butt"/>
<line x1="1251.3" y1="91" x2="1251.3" y2="805.2" stroke="#000" stroke-width="5.5" stroke-linecap="butt"/>
<line x1="1231" y1="802.5" x2="1973" y2="802.5" stroke="#000" stroke-width="5.5" stroke-linecap="butt"/>
<line x1="1231" y1="93.8" x2="1251.3" y2="93.8" stroke="#000" stroke-width="5.5" stroke-linecap="butt"/>
<line x1="1231" y1="329.4" x2="1251.3" y2="329.4" stroke="#000" stroke-width="5.5" stroke-linecap="butt"/>
<line x1="1231" y1="566" x2="1251.3" y2="566" stroke="#000" stroke-width="5.5" stroke-linecap="butt"/>
<line x1="1240.5" y1="212" x2="1251.3" y2="212" stroke="#000" stroke-width="5.5" stroke-linecap="butt"/>
<line x1="1240.5" y1="447.7" x2="1251.3" y2="447.7" stroke="#000" stroke-width="5.5" stroke-linecap="butt"/>
<line x1="1240.5" y1="684.2" x2="1251.3" y2="684.2" stroke="#000" stroke-width="5.5" stroke-linecap="butt"/>
<line x1="1476" y1="802.5" x2="1476" y2="822.5" stroke="#000" stroke-width="5.5" stroke-linecap="butt"/>
<line x1="1836" y1="802.5" x2="1836" y2="822.5" stroke="#000" stroke-width="5.5" stroke-linecap="butt"/>
<line x1="1296" y1="802.5" x2="1296" y2="814" stroke="#000" stroke-width="5.5" stroke-linecap="butt"/>
<line x1="1656" y1="802.5" x2="1656" y2="814" stroke="#000" stroke-width="5.5" stroke-linecap="butt"/>
<text x="1103.9" y="345" font-size="62" font-family='"Liberation Sans",sans-serif' fill="#000">0.02</text>
<text x="1103.9" y="581.5" font-size="62" font-family='"Liberation Sans",sans-serif' fill="#000">0.01</text>
<text x="1103.3" y="817" font-size="62" font-family='"Liberation Sans",sans-serif' fill="#000">0.00</text>
<text x="1103.6" y="109" font-size="62" font-family='"Liberation Sans",sans-serif' fill="#000">0.03</text>
<text x="1423.9" y="879.2" font-size="62" font-family='"Liberation Sans",sans-serif' fill="#000">720</text>
<text x="1784.5" y="879.2" font-size="62" font-family='"Liberation Sans",sans-serif' fill="#000">712</text>
<text x="1398.2" y="952.6" font-size="62.6" font-family='"Liberation Sans",sans-serif' fill="#000">Wavenumbers</text>
<text x="0" y="0" font-size="62" font-family='"Liberation Sans",sans-serif' transform="translate(1816.1,952.6) scale(0.8,1)">(</text>
<text x="1836.5" y="952.6" font-size="62" font-family='"Liberation Sans",sans-serif' fill="#000">cm</text>
<text x="1916.6" y="922" font-size="39" font-family='"Liberation Sans",sans-serif' fill="#6f6f6f">−</text>
<text x="1939.8" y="918.2" font-size="38" font-family='"Liberation Sans",sans-serif' fill="#000">1</text>
<text x="0" y="0" font-size="62" font-family='"Liberation Sans",sans-serif' transform="translate(1963.4,952.6) scale(0.8,1)">)</text>
<text x="0" y="0" font-size="61.3" font-family='"Liberation Sans",sans-serif' transform="translate(1079.6,486.7) rotate(-90)">Absorbance</text>
<text x="1982.1" y="628.5" font-size="46.3" font-family='"Liberation Sans",sans-serif' fill="#000">t=0</text>
<text x="1982.8" y="679.3" font-size="46.3" font-family='"Liberation Sans",sans-serif' fill="#000">t=1 min</text>
<text x="1982.8" y="732.4" font-size="46.3" font-family='"Liberation Sans",sans-serif' fill="#000">t=3 min</text>
<text x="1980.5" y="786.3" font-size="46.3" font-family='"Liberation Sans",sans-serif' fill="#000">t=8 min</text>
</svg>
</body></html>
